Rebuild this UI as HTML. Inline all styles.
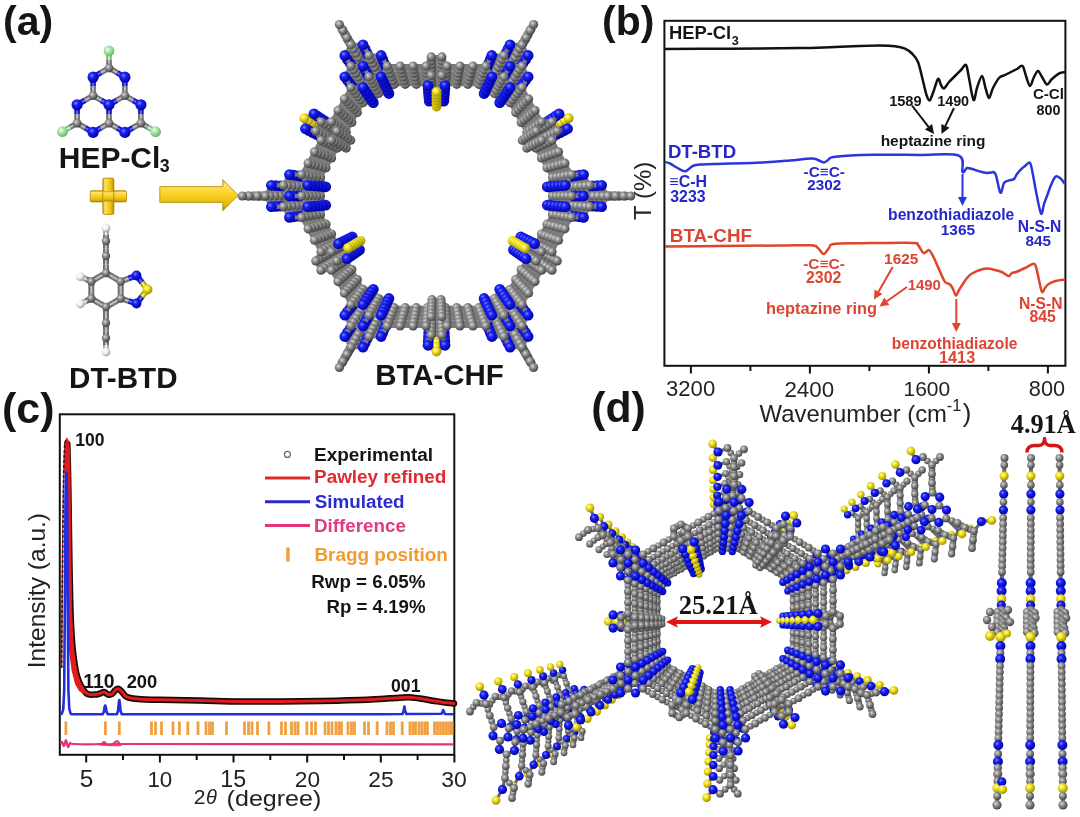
<!DOCTYPE html>
<html><head><meta charset="utf-8"><title>BTA-CHF figure</title>
<style>
html,body{margin:0;padding:0;background:#fff;}
body{width:1080px;height:817px;overflow:hidden;position:relative;}
svg{position:absolute;left:0;top:0;display:block;filter:blur(0.4px);}
</style></head><body>
<svg width="1080" height="817" viewBox="0 0 1080 817">
<rect width="1080" height="817" fill="#fff"/>
<defs>
<radialGradient id="gB" cx="0.38" cy="0.35" r="0.65"><stop offset="0" stop-color="#7a86ff"/><stop offset="0.35" stop-color="#1a22f0"/><stop offset="1" stop-color="#0000a8"/></radialGradient>
<radialGradient id="gG" cx="0.38" cy="0.35" r="0.65"><stop offset="0" stop-color="#dadada"/><stop offset="0.4" stop-color="#909090"/><stop offset="1" stop-color="#444"/></radialGradient>
<radialGradient id="gY" cx="0.38" cy="0.35" r="0.65"><stop offset="0" stop-color="#ffffb0"/><stop offset="0.4" stop-color="#f0e020"/><stop offset="1" stop-color="#a09000"/></radialGradient>
<radialGradient id="gCl" cx="0.38" cy="0.35" r="0.65"><stop offset="0" stop-color="#f0fff0"/><stop offset="0.4" stop-color="#a8e8a8"/><stop offset="1" stop-color="#70b070"/></radialGradient>
<radialGradient id="gH" cx="0.38" cy="0.35" r="0.65"><stop offset="0" stop-color="#ffffff"/><stop offset="0.5" stop-color="#eeeeee"/><stop offset="1" stop-color="#a0a0a0"/></radialGradient>
<linearGradient id="gold" x1="0" y1="0" x2="0" y2="1"><stop offset="0" stop-color="#c89a10"/><stop offset="0.15" stop-color="#ffe46a"/><stop offset="0.5" stop-color="#f8d020"/><stop offset="0.85" stop-color="#e0b010"/><stop offset="1" stop-color="#a07808"/></linearGradient>
<linearGradient id="goldv" x1="0" y1="0" x2="1" y2="0"><stop offset="0" stop-color="#c89a10"/><stop offset="0.2" stop-color="#ffe46a"/><stop offset="0.5" stop-color="#f8d020"/><stop offset="0.85" stop-color="#e0b010"/><stop offset="1" stop-color="#a07808"/></linearGradient>
</defs>
<defs><circle id="C27" r="2.7" fill="url(#gG)"/><circle id="C28" r="2.8" fill="url(#gG)"/><circle id="C29" r="2.9" fill="url(#gG)"/><circle id="C30" r="3.0" fill="url(#gG)"/><circle id="C31" r="3.1" fill="url(#gG)"/><circle id="C32" r="3.2" fill="url(#gG)"/><circle id="C33" r="3.3" fill="url(#gG)"/><circle id="C34" r="3.4" fill="url(#gG)"/><circle id="C35" r="3.5" fill="url(#gG)"/><circle id="C36" r="3.6" fill="url(#gG)"/><circle id="C37" r="3.7" fill="url(#gG)"/><circle id="C38" r="3.8" fill="url(#gG)"/><circle id="C39" r="3.9" fill="url(#gG)"/><circle id="C40" r="4.0" fill="url(#gG)"/><circle id="C42" r="4.2" fill="url(#gG)"/><circle id="C44" r="4.4" fill="url(#gG)"/><circle id="C46" r="4.6" fill="url(#gG)"/><circle id="C50" r="5.0" fill="url(#gG)"/><circle id="Cl54" r="5.4" fill="url(#gCl)"/><circle id="H44" r="4.4" fill="url(#gH)"/><circle id="N37" r="3.7" fill="url(#gB)"/><circle id="N38" r="3.8" fill="url(#gB)"/><circle id="N40" r="4.0" fill="url(#gB)"/><circle id="N41" r="4.1" fill="url(#gB)"/><circle id="N42" r="4.2" fill="url(#gB)"/><circle id="N44" r="4.4" fill="url(#gB)"/><circle id="N46" r="4.6" fill="url(#gB)"/><circle id="N49" r="4.9" fill="url(#gB)"/><circle id="N50" r="5.0" fill="url(#gB)"/><circle id="N54" r="5.4" fill="url(#gB)"/><circle id="N56" r="5.6" fill="url(#gB)"/><circle id="S36" r="3.6" fill="url(#gY)"/><circle id="S37" r="3.7" fill="url(#gY)"/><circle id="S38" r="3.8" fill="url(#gY)"/><circle id="S39" r="3.9" fill="url(#gY)"/><circle id="S40" r="4.0" fill="url(#gY)"/><circle id="S41" r="4.1" fill="url(#gY)"/><circle id="S42" r="4.2" fill="url(#gY)"/><circle id="S44" r="4.4" fill="url(#gY)"/><circle id="S46" r="4.6" fill="url(#gY)"/><circle id="S48" r="4.8" fill="url(#gY)"/><circle id="S49" r="4.9" fill="url(#gY)"/><circle id="S50" r="5.0" fill="url(#gY)"/><circle id="S52" r="5.2" fill="url(#gY)"/></defs>
<line x1="109" y1="104.8" x2="117" y2="100.2" stroke="#1414c8" stroke-width="5.6"/><line x1="124.9" y1="95.6" x2="117" y2="100.2" stroke="#6e6e6e" stroke-width="5.6"/><line x1="109" y1="104.8" x2="109" y2="114" stroke="#1414c8" stroke-width="5.6"/><line x1="109" y1="123.2" x2="109" y2="114" stroke="#6e6e6e" stroke-width="5.6"/><line x1="109" y1="104.8" x2="101" y2="100.2" stroke="#1414c8" stroke-width="5.6"/><line x1="93.1" y1="95.6" x2="101" y2="100.2" stroke="#6e6e6e" stroke-width="5.6"/><line x1="109" y1="68" x2="117" y2="72.6" stroke="#6e6e6e" stroke-width="5.6"/><line x1="124.9" y1="77.2" x2="117" y2="72.6" stroke="#1414c8" stroke-width="5.6"/><line x1="109" y1="68" x2="101" y2="72.6" stroke="#6e6e6e" stroke-width="5.6"/><line x1="93.1" y1="77.2" x2="101" y2="72.6" stroke="#1414c8" stroke-width="5.6"/><line x1="124.9" y1="77.2" x2="124.9" y2="86.4" stroke="#1414c8" stroke-width="5.6"/><line x1="124.9" y1="95.6" x2="124.9" y2="86.4" stroke="#6e6e6e" stroke-width="5.6"/><line x1="93.1" y1="77.2" x2="93.1" y2="86.4" stroke="#1414c8" stroke-width="5.6"/><line x1="93.1" y1="95.6" x2="93.1" y2="86.4" stroke="#6e6e6e" stroke-width="5.6"/><line x1="140.9" y1="123.2" x2="132.9" y2="127.8" stroke="#6e6e6e" stroke-width="5.6"/><line x1="124.9" y1="132.4" x2="132.9" y2="127.8" stroke="#1414c8" stroke-width="5.6"/><line x1="140.9" y1="123.2" x2="140.9" y2="114" stroke="#6e6e6e" stroke-width="5.6"/><line x1="140.9" y1="104.8" x2="140.9" y2="114" stroke="#1414c8" stroke-width="5.6"/><line x1="124.9" y1="132.4" x2="117" y2="127.8" stroke="#1414c8" stroke-width="5.6"/><line x1="109" y1="123.2" x2="117" y2="127.8" stroke="#6e6e6e" stroke-width="5.6"/><line x1="140.9" y1="104.8" x2="132.9" y2="100.2" stroke="#1414c8" stroke-width="5.6"/><line x1="124.9" y1="95.6" x2="132.9" y2="100.2" stroke="#6e6e6e" stroke-width="5.6"/><line x1="77.1" y1="123.2" x2="77.1" y2="114" stroke="#6e6e6e" stroke-width="5.6"/><line x1="77.1" y1="104.8" x2="77.1" y2="114" stroke="#1414c8" stroke-width="5.6"/><line x1="77.1" y1="123.2" x2="85.1" y2="127.8" stroke="#6e6e6e" stroke-width="5.6"/><line x1="93.1" y1="132.4" x2="85.1" y2="127.8" stroke="#1414c8" stroke-width="5.6"/><line x1="77.1" y1="104.8" x2="85.1" y2="100.2" stroke="#1414c8" stroke-width="5.6"/><line x1="93.1" y1="95.6" x2="85.1" y2="100.2" stroke="#6e6e6e" stroke-width="5.6"/><line x1="93.1" y1="132.4" x2="101" y2="127.8" stroke="#1414c8" stroke-width="5.6"/><line x1="109" y1="123.2" x2="101" y2="127.8" stroke="#6e6e6e" stroke-width="5.6"/><line x1="109" y1="68" x2="109" y2="59.5" stroke="#6e6e6e" stroke-width="5.6"/><line x1="109" y1="51" x2="109" y2="59.5" stroke="#78b878" stroke-width="5.6"/><line x1="140.9" y1="123.2" x2="148.2" y2="127.4" stroke="#6e6e6e" stroke-width="5.6"/><line x1="155.6" y1="131.7" x2="148.2" y2="127.4" stroke="#78b878" stroke-width="5.6"/><line x1="77.1" y1="123.2" x2="69.8" y2="127.4" stroke="#6e6e6e" stroke-width="5.6"/><line x1="62.4" y1="131.7" x2="69.8" y2="127.4" stroke="#78b878" stroke-width="5.6"/><line x1="109" y1="104.8" x2="117" y2="100.2" stroke="#5a64ff" stroke-width="2.0"/><line x1="124.9" y1="95.6" x2="117" y2="100.2" stroke="#bdbdbd" stroke-width="2.0"/><line x1="109" y1="104.8" x2="109" y2="114" stroke="#5a64ff" stroke-width="2.0"/><line x1="109" y1="123.2" x2="109" y2="114" stroke="#bdbdbd" stroke-width="2.0"/><line x1="109" y1="104.8" x2="101" y2="100.2" stroke="#5a64ff" stroke-width="2.0"/><line x1="93.1" y1="95.6" x2="101" y2="100.2" stroke="#bdbdbd" stroke-width="2.0"/><line x1="109" y1="68" x2="117" y2="72.6" stroke="#bdbdbd" stroke-width="2.0"/><line x1="124.9" y1="77.2" x2="117" y2="72.6" stroke="#5a64ff" stroke-width="2.0"/><line x1="109" y1="68" x2="101" y2="72.6" stroke="#bdbdbd" stroke-width="2.0"/><line x1="93.1" y1="77.2" x2="101" y2="72.6" stroke="#5a64ff" stroke-width="2.0"/><line x1="124.9" y1="77.2" x2="124.9" y2="86.4" stroke="#5a64ff" stroke-width="2.0"/><line x1="124.9" y1="95.6" x2="124.9" y2="86.4" stroke="#bdbdbd" stroke-width="2.0"/><line x1="93.1" y1="77.2" x2="93.1" y2="86.4" stroke="#5a64ff" stroke-width="2.0"/><line x1="93.1" y1="95.6" x2="93.1" y2="86.4" stroke="#bdbdbd" stroke-width="2.0"/><line x1="140.9" y1="123.2" x2="132.9" y2="127.8" stroke="#bdbdbd" stroke-width="2.0"/><line x1="124.9" y1="132.4" x2="132.9" y2="127.8" stroke="#5a64ff" stroke-width="2.0"/><line x1="140.9" y1="123.2" x2="140.9" y2="114" stroke="#bdbdbd" stroke-width="2.0"/><line x1="140.9" y1="104.8" x2="140.9" y2="114" stroke="#5a64ff" stroke-width="2.0"/><line x1="124.9" y1="132.4" x2="117" y2="127.8" stroke="#5a64ff" stroke-width="2.0"/><line x1="109" y1="123.2" x2="117" y2="127.8" stroke="#bdbdbd" stroke-width="2.0"/><line x1="140.9" y1="104.8" x2="132.9" y2="100.2" stroke="#5a64ff" stroke-width="2.0"/><line x1="124.9" y1="95.6" x2="132.9" y2="100.2" stroke="#bdbdbd" stroke-width="2.0"/><line x1="77.1" y1="123.2" x2="77.1" y2="114" stroke="#bdbdbd" stroke-width="2.0"/><line x1="77.1" y1="104.8" x2="77.1" y2="114" stroke="#5a64ff" stroke-width="2.0"/><line x1="77.1" y1="123.2" x2="85.1" y2="127.8" stroke="#bdbdbd" stroke-width="2.0"/><line x1="93.1" y1="132.4" x2="85.1" y2="127.8" stroke="#5a64ff" stroke-width="2.0"/><line x1="77.1" y1="104.8" x2="85.1" y2="100.2" stroke="#5a64ff" stroke-width="2.0"/><line x1="93.1" y1="95.6" x2="85.1" y2="100.2" stroke="#bdbdbd" stroke-width="2.0"/><line x1="93.1" y1="132.4" x2="101" y2="127.8" stroke="#5a64ff" stroke-width="2.0"/><line x1="109" y1="123.2" x2="101" y2="127.8" stroke="#bdbdbd" stroke-width="2.0"/><line x1="109" y1="68" x2="109" y2="59.5" stroke="#bdbdbd" stroke-width="2.0"/><line x1="109" y1="51" x2="109" y2="59.5" stroke="#d0f4d0" stroke-width="2.0"/><line x1="140.9" y1="123.2" x2="148.2" y2="127.4" stroke="#bdbdbd" stroke-width="2.0"/><line x1="155.6" y1="131.7" x2="148.2" y2="127.4" stroke="#d0f4d0" stroke-width="2.0"/><line x1="77.1" y1="123.2" x2="69.8" y2="127.4" stroke="#bdbdbd" stroke-width="2.0"/><line x1="62.4" y1="131.7" x2="69.8" y2="127.4" stroke="#d0f4d0" stroke-width="2.0"/><use href="#N56" x="109" y="104.8"/><use href="#C44" x="124.9" y="95.6"/><use href="#C44" x="109" y="123.2"/><use href="#C44" x="93.1" y="95.6"/><use href="#N56" x="124.9" y="77.2"/><use href="#N56" x="140.9" y="104.8"/><use href="#N56" x="124.9" y="132.4"/><use href="#N56" x="93.1" y="132.4"/><use href="#N56" x="77.1" y="104.8"/><use href="#N56" x="93.1" y="77.2"/><use href="#C44" x="109" y="68"/><use href="#C44" x="140.9" y="123.2"/><use href="#C44" x="77.1" y="123.2"/><use href="#Cl54" x="109" y="51"/><use href="#Cl54" x="155.6" y="131.7"/><use href="#Cl54" x="62.4" y="131.7"/>
<line x1="106" y1="273" x2="113.4" y2="277.2" stroke="#6e6e6e" stroke-width="6"/><line x1="120.7" y1="281.5" x2="113.4" y2="277.2" stroke="#6e6e6e" stroke-width="6"/><line x1="120.7" y1="281.5" x2="120.7" y2="290" stroke="#6e6e6e" stroke-width="6"/><line x1="120.7" y1="298.5" x2="120.7" y2="290" stroke="#6e6e6e" stroke-width="6"/><line x1="120.7" y1="298.5" x2="113.4" y2="302.8" stroke="#6e6e6e" stroke-width="6"/><line x1="106" y1="307" x2="113.4" y2="302.8" stroke="#6e6e6e" stroke-width="6"/><line x1="106" y1="307" x2="98.6" y2="302.8" stroke="#6e6e6e" stroke-width="6"/><line x1="91.3" y1="298.5" x2="98.6" y2="302.8" stroke="#6e6e6e" stroke-width="6"/><line x1="91.3" y1="298.5" x2="91.3" y2="290" stroke="#6e6e6e" stroke-width="6"/><line x1="91.3" y1="281.5" x2="91.3" y2="290" stroke="#6e6e6e" stroke-width="6"/><line x1="91.3" y1="281.5" x2="98.6" y2="277.2" stroke="#6e6e6e" stroke-width="6"/><line x1="106" y1="273" x2="98.6" y2="277.2" stroke="#6e6e6e" stroke-width="6"/><line x1="91.3" y1="281.5" x2="85.8" y2="279.1" stroke="#6e6e6e" stroke-width="6"/><line x1="80.3" y1="276.6" x2="85.8" y2="279.1" stroke="#a8a8a8" stroke-width="6"/><line x1="91.3" y1="298.5" x2="85.8" y2="301.2" stroke="#6e6e6e" stroke-width="6"/><line x1="80.3" y1="304" x2="85.8" y2="301.2" stroke="#a8a8a8" stroke-width="6"/><line x1="120.7" y1="281.5" x2="128.6" y2="278.5" stroke="#6e6e6e" stroke-width="6"/><line x1="136.5" y1="275.5" x2="128.6" y2="278.5" stroke="#1414c8" stroke-width="6"/><line x1="120.7" y1="298.5" x2="128.6" y2="301" stroke="#6e6e6e" stroke-width="6"/><line x1="136.5" y1="303.5" x2="128.6" y2="301" stroke="#1414c8" stroke-width="6"/><line x1="136.5" y1="275.5" x2="142" y2="282.5" stroke="#1414c8" stroke-width="6"/><line x1="147.5" y1="289.5" x2="142" y2="282.5" stroke="#b0a000" stroke-width="6"/><line x1="136.5" y1="303.5" x2="142" y2="296.5" stroke="#1414c8" stroke-width="6"/><line x1="147.5" y1="289.5" x2="142" y2="296.5" stroke="#b0a000" stroke-width="6"/><line x1="106" y1="273" x2="106" y2="264.5" stroke="#6e6e6e" stroke-width="6"/><line x1="106" y1="256" x2="106" y2="264.5" stroke="#6e6e6e" stroke-width="6"/><line x1="106" y1="256" x2="106" y2="248.5" stroke="#6e6e6e" stroke-width="6"/><line x1="106" y1="241" x2="106" y2="248.5" stroke="#6e6e6e" stroke-width="6"/><line x1="106" y1="241" x2="106" y2="234.5" stroke="#6e6e6e" stroke-width="6"/><line x1="106" y1="228" x2="106" y2="234.5" stroke="#a8a8a8" stroke-width="6"/><line x1="106" y1="307" x2="106" y2="315" stroke="#6e6e6e" stroke-width="6"/><line x1="106" y1="323" x2="106" y2="315" stroke="#6e6e6e" stroke-width="6"/><line x1="106" y1="323" x2="106" y2="330.5" stroke="#6e6e6e" stroke-width="6"/><line x1="106" y1="338" x2="106" y2="330.5" stroke="#6e6e6e" stroke-width="6"/><line x1="106" y1="338" x2="106" y2="345" stroke="#6e6e6e" stroke-width="6"/><line x1="106" y1="352" x2="106" y2="345" stroke="#a8a8a8" stroke-width="6"/><line x1="106" y1="273" x2="113.4" y2="277.2" stroke="#bdbdbd" stroke-width="2.1"/><line x1="120.7" y1="281.5" x2="113.4" y2="277.2" stroke="#bdbdbd" stroke-width="2.1"/><line x1="120.7" y1="281.5" x2="120.7" y2="290" stroke="#bdbdbd" stroke-width="2.1"/><line x1="120.7" y1="298.5" x2="120.7" y2="290" stroke="#bdbdbd" stroke-width="2.1"/><line x1="120.7" y1="298.5" x2="113.4" y2="302.8" stroke="#bdbdbd" stroke-width="2.1"/><line x1="106" y1="307" x2="113.4" y2="302.8" stroke="#bdbdbd" stroke-width="2.1"/><line x1="106" y1="307" x2="98.6" y2="302.8" stroke="#bdbdbd" stroke-width="2.1"/><line x1="91.3" y1="298.5" x2="98.6" y2="302.8" stroke="#bdbdbd" stroke-width="2.1"/><line x1="91.3" y1="298.5" x2="91.3" y2="290" stroke="#bdbdbd" stroke-width="2.1"/><line x1="91.3" y1="281.5" x2="91.3" y2="290" stroke="#bdbdbd" stroke-width="2.1"/><line x1="91.3" y1="281.5" x2="98.6" y2="277.2" stroke="#bdbdbd" stroke-width="2.1"/><line x1="106" y1="273" x2="98.6" y2="277.2" stroke="#bdbdbd" stroke-width="2.1"/><line x1="91.3" y1="281.5" x2="85.8" y2="279.1" stroke="#bdbdbd" stroke-width="2.1"/><line x1="80.3" y1="276.6" x2="85.8" y2="279.1" stroke="#f4f4f4" stroke-width="2.1"/><line x1="91.3" y1="298.5" x2="85.8" y2="301.2" stroke="#bdbdbd" stroke-width="2.1"/><line x1="80.3" y1="304" x2="85.8" y2="301.2" stroke="#f4f4f4" stroke-width="2.1"/><line x1="120.7" y1="281.5" x2="128.6" y2="278.5" stroke="#bdbdbd" stroke-width="2.1"/><line x1="136.5" y1="275.5" x2="128.6" y2="278.5" stroke="#5a64ff" stroke-width="2.1"/><line x1="120.7" y1="298.5" x2="128.6" y2="301" stroke="#bdbdbd" stroke-width="2.1"/><line x1="136.5" y1="303.5" x2="128.6" y2="301" stroke="#5a64ff" stroke-width="2.1"/><line x1="136.5" y1="275.5" x2="142" y2="282.5" stroke="#5a64ff" stroke-width="2.1"/><line x1="147.5" y1="289.5" x2="142" y2="282.5" stroke="#f8f070" stroke-width="2.1"/><line x1="136.5" y1="303.5" x2="142" y2="296.5" stroke="#5a64ff" stroke-width="2.1"/><line x1="147.5" y1="289.5" x2="142" y2="296.5" stroke="#f8f070" stroke-width="2.1"/><line x1="106" y1="273" x2="106" y2="264.5" stroke="#bdbdbd" stroke-width="2.1"/><line x1="106" y1="256" x2="106" y2="264.5" stroke="#bdbdbd" stroke-width="2.1"/><line x1="106" y1="256" x2="106" y2="248.5" stroke="#bdbdbd" stroke-width="2.1"/><line x1="106" y1="241" x2="106" y2="248.5" stroke="#bdbdbd" stroke-width="2.1"/><line x1="106" y1="241" x2="106" y2="234.5" stroke="#bdbdbd" stroke-width="2.1"/><line x1="106" y1="228" x2="106" y2="234.5" stroke="#f4f4f4" stroke-width="2.1"/><line x1="106" y1="307" x2="106" y2="315" stroke="#bdbdbd" stroke-width="2.1"/><line x1="106" y1="323" x2="106" y2="315" stroke="#bdbdbd" stroke-width="2.1"/><line x1="106" y1="323" x2="106" y2="330.5" stroke="#bdbdbd" stroke-width="2.1"/><line x1="106" y1="338" x2="106" y2="330.5" stroke="#bdbdbd" stroke-width="2.1"/><line x1="106" y1="338" x2="106" y2="345" stroke="#bdbdbd" stroke-width="2.1"/><line x1="106" y1="352" x2="106" y2="345" stroke="#f4f4f4" stroke-width="2.1"/><use href="#C42" x="106" y="273"/><use href="#C42" x="120.7" y="281.5"/><use href="#C42" x="120.7" y="298.5"/><use href="#C42" x="106" y="307"/><use href="#C42" x="91.3" y="298.5"/><use href="#C42" x="91.3" y="281.5"/><use href="#H44" x="80.3" y="276.6"/><use href="#H44" x="80.3" y="304"/><use href="#N49" x="136.5" y="275.5"/><use href="#N49" x="136.5" y="303.5"/><use href="#S49" x="147.5" y="289.5"/><use href="#C42" x="106" y="256"/><use href="#C42" x="106" y="241"/><use href="#H44" x="106" y="228"/><use href="#C42" x="106" y="323"/><use href="#C42" x="106" y="338"/><use href="#H44" x="106" y="352"/>
<g stroke="#b08808" stroke-width="0.8"><rect x="90.2" y="190.7" width="36.3" height="11.2" rx="1.5" fill="url(#gold)"/><rect x="102.8" y="178.1" width="11.1" height="36.3" rx="1.5" fill="url(#goldv)"/><rect x="103.4" y="191.3" width="9.9" height="10" fill="url(#gold)" stroke="none"/></g>
<polygon points="159.8,186.6 222.8,186.6 222.8,179.6 238.3,195.2 222.8,210.7 222.8,202.4 159.8,202.4" fill="url(#gold)" stroke="#b08808" stroke-width="0.8" stroke-linejoin="round"/>
<g><path d="M562.9 196L568.1 205.2M562.9 196L552.5 196M562.9 196L568.1 186.8M583.7 196L578.5 205.2M583.7 196L578.5 186.8M578.5 205.2L568.1 205.2M578.5 186.8L568.1 186.8M552.5 214.4L547.3 205.2M552.5 214.4L562.9 214.4M547.3 205.2L552.5 196M562.9 214.4L568.1 205.2M552.5 177.6L562.9 177.6M552.5 177.6L547.3 186.8M562.9 177.6L568.1 186.8M547.3 186.8L552.5 196M583.7 196L590.6 196M590.6 196L597.5 196M597.5 196L603.5 196M499.7 307.7L494.5 316.9M499.7 307.7L494.5 298.5M499.7 307.7L510.1 307.7M510.1 326.1L499.7 326.1M510.1 326.1L515.3 316.9M499.7 326.1L494.5 316.9M515.3 316.9L510.1 307.7M478.9 307.7L484.1 298.5M478.9 307.7L484.1 316.9M484.1 298.5L494.5 298.5M484.1 316.9L494.5 316.9M510.1 289.3L515.3 298.5M510.1 289.3L499.7 289.3M515.3 298.5L510.1 307.7M499.7 289.3L494.5 298.5M510.1 326.1L513.6 332.1M513.6 332.1L517 338.2M517 338.2L520 343.5M373.3 307.7L362.9 307.7M373.3 307.7L378.5 298.5M373.3 307.7L378.5 316.9M362.9 326.1L357.7 316.9M362.9 326.1L373.3 326.1M357.7 316.9L362.9 307.7M373.3 326.1L378.5 316.9M362.9 289.3L373.3 289.3M362.9 289.3L357.7 298.5M373.3 289.3L378.5 298.5M357.7 298.5L362.9 307.7M394.1 307.7L388.9 316.9M394.1 307.7L388.9 298.5M388.9 316.9L378.5 316.9M388.9 298.5L378.5 298.5M362.9 326.1L359.4 332.1M359.4 332.1L356 338.2M356 338.2L353 343.5M310.1 196L304.9 186.8M310.1 196L320.5 196M310.1 196L304.9 205.2M289.3 196L294.5 186.8M289.3 196L294.5 205.2M294.5 186.8L304.9 186.8M294.5 205.2L304.9 205.2M320.5 177.6L325.7 186.8M320.5 177.6L310.1 177.6M325.7 186.8L320.5 196M310.1 177.6L304.9 186.8M320.5 214.4L310.1 214.4M320.5 214.4L325.7 205.2M310.1 214.4L304.9 205.2M325.7 205.2L320.5 196M289.3 196L282.4 196M282.4 196L275.5 196M275.5 196L269.5 196M373.3 84.3L378.5 75.1M373.3 84.3L378.5 93.5M373.3 84.3L362.9 84.3M362.9 65.9L373.3 65.9M362.9 65.9L357.7 75.1M373.3 65.9L378.5 75.1M357.7 75.1L362.9 84.3M394.1 84.3L388.9 93.5M394.1 84.3L388.9 75.1M388.9 93.5L378.5 93.5M388.9 75.1L378.5 75.1M362.9 102.7L357.7 93.5M362.9 102.7L373.3 102.7M357.7 93.5L362.9 84.3M373.3 102.7L378.5 93.5M362.9 65.9L359.4 59.9M359.4 59.9L356 53.8M356 53.8L353 48.5M499.7 84.3L510.1 84.3M499.7 84.3L494.5 93.5M499.7 84.3L494.5 75.1M510.1 65.9L515.3 75.1M510.1 65.9L499.7 65.9M515.3 75.1L510.1 84.3M499.7 65.9L494.5 75.1M510.1 102.7L499.7 102.7M510.1 102.7L515.3 93.5M499.7 102.7L494.5 93.5M515.3 93.5L510.1 84.3M478.9 84.3L484.1 75.1M478.9 84.3L484.1 93.5M484.1 75.1L494.5 75.1M484.1 93.5L494.5 93.5M510.1 65.9L513.6 59.9M513.6 59.9L517 53.8M517 53.8L520 48.5M535.8 243.9L540.3 251.8M540.3 251.8L535.8 259.8M535.8 259.8L526.8 259.8M526.8 259.8L522.3 251.8M522.3 251.8L526.8 243.9M526.8 243.9L535.8 243.9M552.5 214.4L547 224.2M547 224.2L541.4 234M541.4 234L535.8 243.9M510.1 289.3L515.7 279.5M515.7 279.5L521.2 269.6M521.2 269.6L526.8 259.8M526.8 243.9L520.8 237M520.8 237L512.5 240.8M522.3 251.8L513.5 249.9M513.5 249.9L512.5 240.8M445.5 307.7L441 315.6M441 315.6L432 315.6M432 315.6L427.5 307.7M427.5 307.7L432 299.7M432 299.7L441 299.7M441 299.7L445.5 307.7M478.9 307.7L467.8 307.7M467.8 307.7L456.7 307.7M456.7 307.7L445.5 307.7M394.1 307.7L405.2 307.7M405.2 307.7L416.3 307.7M416.3 307.7L427.5 307.7M432 315.6L429.2 324.4M429.2 324.4L436.5 329.8M441 315.6L443.8 324.4M443.8 324.4L436.5 329.8M346.2 259.8L337.2 259.8M337.2 259.8L332.7 251.8M332.7 251.8L337.2 243.9M337.2 243.9L346.2 243.9M346.2 243.9L350.7 251.8M350.7 251.8L346.2 259.8M362.9 289.3L357.3 279.5M357.3 279.5L351.8 269.6M351.8 269.6L346.2 259.8M320.5 214.4L326 224.2M326 224.2L331.6 234M331.6 234L337.2 243.9M350.7 251.8L359.5 249.9M359.5 249.9L360.5 240.8M346.2 243.9L352.2 237M352.2 237L360.5 240.8M337.2 148.1L332.7 140.2M332.7 140.2L337.2 132.2M337.2 132.2L346.2 132.2M346.2 132.2L350.7 140.2M350.7 140.2L346.2 148.1M346.2 148.1L337.2 148.1M320.5 177.6L326 167.8M326 167.8L331.6 158M331.6 158L337.2 148.1M362.9 102.7L357.3 112.5M357.3 112.5L351.8 122.4M351.8 122.4L346.2 132.2M337.2 132.2L331.1 125.3M331.1 125.3L322.9 129.1M332.7 140.2L323.8 138.3M323.8 138.3L322.9 129.1M427.5 84.3L432 76.4M432 76.4L441 76.4M441 76.4L445.5 84.3M445.5 84.3L441 92.3M441 92.3L432 92.3M432 92.3L427.5 84.3M394.1 84.3L405.2 84.3M405.2 84.3L416.3 84.3M416.3 84.3L427.5 84.3M478.9 84.3L467.8 84.3M467.8 84.3L456.7 84.3M456.7 84.3L445.5 84.3M432 92.3L429.2 101.1M429.2 101.1L436.5 106.5M441 92.3L443.8 101.1M443.8 101.1L436.5 106.5M526.8 132.2L535.8 132.2M535.8 132.2L540.3 140.2M540.3 140.2L535.8 148.1M535.8 148.1L526.8 148.1M526.8 148.1L522.3 140.2M522.3 140.2L526.8 132.2M510.1 102.7L515.7 112.5M515.7 112.5L521.2 122.4M521.2 122.4L526.8 132.2M552.5 177.6L547 167.8M547 167.8L541.4 158M541.4 158L535.8 148.1M540.3 140.2L549.2 138.3M549.2 138.3L550.1 129.1M535.8 132.2L541.9 125.3M541.9 125.3L550.1 129.1" stroke="#7c7c7c" stroke-width="4.0" stroke-linecap="round" fill="none"/><use href="#N54" x="562.9" y="196"/><use href="#C46" x="568.1" y="205.2"/><use href="#C46" x="552.5" y="196"/><use href="#C46" x="568.1" y="186.8"/><use href="#N54" x="578.5" y="205.2"/><use href="#N54" x="562.9" y="214.4"/><use href="#N54" x="547.3" y="205.2"/><use href="#N54" x="547.3" y="186.8"/><use href="#N54" x="562.9" y="177.6"/><use href="#N54" x="578.5" y="186.8"/><use href="#C46" x="583.7" y="196"/><use href="#C46" x="552.5" y="214.4"/><use href="#C46" x="552.5" y="177.6"/><use href="#C46" x="590.6" y="196"/><use href="#C46" x="597.5" y="196"/><use href="#C46" x="603.5" y="196"/><use href="#N54" x="499.7" y="307.7"/><use href="#C46" x="494.5" y="316.9"/><use href="#C46" x="494.5" y="298.5"/><use href="#C46" x="510.1" y="307.7"/><use href="#N54" x="499.7" y="326.1"/><use href="#N54" x="484.1" y="316.9"/><use href="#N54" x="484.1" y="298.5"/><use href="#N54" x="499.7" y="289.3"/><use href="#N54" x="515.3" y="298.5"/><use href="#N54" x="515.3" y="316.9"/><use href="#C46" x="510.1" y="326.1"/><use href="#C46" x="478.9" y="307.7"/><use href="#C46" x="510.1" y="289.3"/><use href="#C46" x="513.6" y="332.1"/><use href="#C46" x="517" y="338.2"/><use href="#C46" x="520" y="343.5"/><use href="#N54" x="373.3" y="307.7"/><use href="#C46" x="362.9" y="307.7"/><use href="#C46" x="378.5" y="298.5"/><use href="#C46" x="378.5" y="316.9"/><use href="#N54" x="357.7" y="316.9"/><use href="#N54" x="357.7" y="298.5"/><use href="#N54" x="373.3" y="289.3"/><use href="#N54" x="388.9" y="298.5"/><use href="#N54" x="388.9" y="316.9"/><use href="#N54" x="373.3" y="326.1"/><use href="#C46" x="362.9" y="326.1"/><use href="#C46" x="362.9" y="289.3"/><use href="#C46" x="394.1" y="307.7"/><use href="#C46" x="359.4" y="332.1"/><use href="#C46" x="356" y="338.2"/><use href="#C46" x="353" y="343.5"/><use href="#N54" x="310.1" y="196"/><use href="#C46" x="304.9" y="186.8"/><use href="#C46" x="320.5" y="196"/><use href="#C46" x="304.9" y="205.2"/><use href="#N54" x="294.5" y="186.8"/><use href="#N54" x="310.1" y="177.6"/><use href="#N54" x="325.7" y="186.8"/><use href="#N54" x="325.7" y="205.2"/><use href="#N54" x="310.1" y="214.4"/><use href="#N54" x="294.5" y="205.2"/><use href="#C46" x="289.3" y="196"/><use href="#C46" x="320.5" y="177.6"/><use href="#C46" x="320.5" y="214.4"/><use href="#C46" x="282.4" y="196"/><use href="#C46" x="275.5" y="196"/><use href="#C46" x="269.5" y="196"/><use href="#N54" x="373.3" y="84.3"/><use href="#C46" x="378.5" y="75.1"/><use href="#C46" x="378.5" y="93.5"/><use href="#C46" x="362.9" y="84.3"/><use href="#N54" x="373.3" y="65.9"/><use href="#N54" x="388.9" y="75.1"/><use href="#N54" x="388.9" y="93.5"/><use href="#N54" x="373.3" y="102.7"/><use href="#N54" x="357.7" y="93.5"/><use href="#N54" x="357.7" y="75.1"/><use href="#C46" x="362.9" y="65.9"/><use href="#C46" x="394.1" y="84.3"/><use href="#C46" x="362.9" y="102.7"/><use href="#C46" x="359.4" y="59.9"/><use href="#C46" x="356" y="53.8"/><use href="#C46" x="353" y="48.5"/><use href="#N54" x="499.7" y="84.3"/><use href="#C46" x="510.1" y="84.3"/><use href="#C46" x="494.5" y="93.5"/><use href="#C46" x="494.5" y="75.1"/><use href="#N54" x="515.3" y="75.1"/><use href="#N54" x="515.3" y="93.5"/><use href="#N54" x="499.7" y="102.7"/><use href="#N54" x="484.1" y="93.5"/><use href="#N54" x="484.1" y="75.1"/><use href="#N54" x="499.7" y="65.9"/><use href="#C46" x="510.1" y="65.9"/><use href="#C46" x="510.1" y="102.7"/><use href="#C46" x="478.9" y="84.3"/><use href="#C46" x="513.6" y="59.9"/><use href="#C46" x="517" y="53.8"/><use href="#C46" x="520" y="48.5"/><use href="#C46" x="535.8" y="243.9"/><use href="#C46" x="540.3" y="251.8"/><use href="#C46" x="535.8" y="259.8"/><use href="#C46" x="526.8" y="259.8"/><use href="#C46" x="522.3" y="251.8"/><use href="#C46" x="526.8" y="243.9"/><use href="#C46" x="547" y="224.2"/><use href="#C46" x="541.4" y="234"/><use href="#C46" x="515.7" y="279.5"/><use href="#C46" x="521.2" y="269.6"/><use href="#S49" x="512.5" y="240.8"/><use href="#N54" x="520.8" y="237"/><use href="#N54" x="513.5" y="249.9"/><use href="#C46" x="445.5" y="307.7"/><use href="#C46" x="441" y="315.6"/><use href="#C46" x="432" y="315.6"/><use href="#C46" x="427.5" y="307.7"/><use href="#C46" x="432" y="299.7"/><use href="#C46" x="441" y="299.7"/><use href="#C46" x="467.8" y="307.7"/><use href="#C46" x="456.7" y="307.7"/><use href="#C46" x="405.2" y="307.7"/><use href="#C46" x="416.3" y="307.7"/><use href="#S49" x="436.5" y="329.8"/><use href="#N54" x="429.2" y="324.4"/><use href="#N54" x="443.8" y="324.4"/><use href="#C46" x="346.2" y="259.8"/><use href="#C46" x="337.2" y="259.8"/><use href="#C46" x="332.7" y="251.8"/><use href="#C46" x="337.2" y="243.9"/><use href="#C46" x="346.2" y="243.9"/><use href="#C46" x="350.7" y="251.8"/><use href="#C46" x="357.3" y="279.5"/><use href="#C46" x="351.8" y="269.6"/><use href="#C46" x="326" y="224.2"/><use href="#C46" x="331.6" y="234"/><use href="#S49" x="360.5" y="240.8"/><use href="#N54" x="359.5" y="249.9"/><use href="#N54" x="352.2" y="237"/><use href="#C46" x="337.2" y="148.1"/><use href="#C46" x="332.7" y="140.2"/><use href="#C46" x="337.2" y="132.2"/><use href="#C46" x="346.2" y="132.2"/><use href="#C46" x="350.7" y="140.2"/><use href="#C46" x="346.2" y="148.1"/><use href="#C46" x="326" y="167.8"/><use href="#C46" x="331.6" y="158"/><use href="#C46" x="357.3" y="112.5"/><use href="#C46" x="351.8" y="122.4"/><use href="#S49" x="322.9" y="129.1"/><use href="#N54" x="331.1" y="125.3"/><use href="#N54" x="323.8" y="138.3"/><use href="#C46" x="427.5" y="84.3"/><use href="#C46" x="432" y="76.4"/><use href="#C46" x="441" y="76.4"/><use href="#C46" x="445.5" y="84.3"/><use href="#C46" x="441" y="92.3"/><use href="#C46" x="432" y="92.3"/><use href="#C46" x="405.2" y="84.3"/><use href="#C46" x="416.3" y="84.3"/><use href="#C46" x="467.8" y="84.3"/><use href="#C46" x="456.7" y="84.3"/><use href="#S49" x="436.5" y="106.5"/><use href="#N54" x="429.2" y="101.1"/><use href="#N54" x="443.8" y="101.1"/><use href="#C46" x="526.8" y="132.2"/><use href="#C46" x="535.8" y="132.2"/><use href="#C46" x="540.3" y="140.2"/><use href="#C46" x="535.8" y="148.1"/><use href="#C46" x="526.8" y="148.1"/><use href="#C46" x="522.3" y="140.2"/><use href="#C46" x="515.7" y="112.5"/><use href="#C46" x="521.2" y="122.4"/><use href="#C46" x="547" y="167.8"/><use href="#C46" x="541.4" y="158"/><use href="#S49" x="550.1" y="129.1"/><use href="#N54" x="549.2" y="138.3"/><use href="#N54" x="541.9" y="125.3"/><path d="M567 196L572.4 205.5M567 196L556.3 196M567 196L572.4 186.5M588.5 196L583.2 205.5M588.5 196L583.2 186.5M583.2 205.5L572.4 205.5M583.2 186.5L572.4 186.5M556.3 215L550.9 205.5M556.3 215L567 215M550.9 205.5L556.3 196M567 215L572.4 205.5M556.3 177L567 177M556.3 177L550.9 186.5M567 177L572.4 186.5M550.9 186.5L556.3 196M588.5 196L595.6 196M595.6 196L602.7 196M602.7 196L608.9 196M501.8 311.3L496.4 320.8M501.8 311.3L496.4 301.8M501.8 311.3L512.5 311.3M512.5 330.3L501.8 330.3M512.5 330.3L517.9 320.8M501.8 330.3L496.4 320.8M517.9 320.8L512.5 311.3M480.3 311.3L485.7 301.8M480.3 311.3L485.7 320.8M485.7 301.8L496.4 301.8M485.7 320.8L496.4 320.8M512.5 292.3L517.9 301.8M512.5 292.3L501.8 292.3M517.9 301.8L512.5 311.3M501.8 292.3L496.4 301.8M512.5 330.3L516.1 336.6M516.1 336.6L519.6 342.8M519.6 342.8L522.7 348.3M371.2 311.3L360.5 311.3M371.2 311.3L376.6 301.8M371.2 311.3L376.6 320.8M360.5 330.3L355.1 320.8M360.5 330.3L371.2 330.3M355.1 320.8L360.5 311.3M371.2 330.3L376.6 320.8M360.5 292.3L371.2 292.3M360.5 292.3L355.1 301.8M371.2 292.3L376.6 301.8M355.1 301.8L360.5 311.3M392.7 311.3L387.3 320.8M392.7 311.3L387.3 301.8M387.3 320.8L376.6 320.8M387.3 301.8L376.6 301.8M360.5 330.3L356.9 336.6M356.9 336.6L353.4 342.8M353.4 342.8L350.3 348.3M306 196L300.6 186.5M306 196L316.7 196M306 196L300.6 205.5M284.5 196L289.8 186.5M284.5 196L289.8 205.5M289.8 186.5L300.6 186.5M289.8 205.5L300.6 205.5M316.7 177L322.1 186.5M316.7 177L306 177M322.1 186.5L316.7 196M306 177L300.6 186.5M316.7 215L306 215M316.7 215L322.1 205.5M306 215L300.6 205.5M322.1 205.5L316.7 196M284.5 196L277.4 196M277.4 196L270.3 196M270.3 196L264.1 196M371.2 80.7L376.6 71.2M371.2 80.7L376.6 90.2M371.2 80.7L360.5 80.7M360.5 61.7L371.2 61.7M360.5 61.7L355.1 71.2M371.2 61.7L376.6 71.2M355.1 71.2L360.5 80.7M392.7 80.7L387.3 90.2M392.7 80.7L387.3 71.2M387.3 90.2L376.6 90.2M387.3 71.2L376.6 71.2M360.5 99.7L355.1 90.2M360.5 99.7L371.2 99.7M355.1 90.2L360.5 80.7M371.2 99.7L376.6 90.2M360.5 61.7L356.9 55.4M356.9 55.4L353.4 49.2M353.4 49.2L350.3 43.7M501.8 80.7L512.5 80.7M501.8 80.7L496.4 90.2M501.8 80.7L496.4 71.2M512.5 61.7L517.9 71.2M512.5 61.7L501.8 61.7M517.9 71.2L512.5 80.7M501.8 61.7L496.4 71.2M512.5 99.7L501.8 99.7M512.5 99.7L517.9 90.2M501.8 99.7L496.4 90.2M517.9 90.2L512.5 80.7M480.3 80.7L485.7 71.2M480.3 80.7L485.7 90.2M485.7 71.2L496.4 71.2M485.7 90.2L496.4 90.2M512.5 61.7L516.1 55.4M516.1 55.4L519.6 49.2M519.6 49.2L522.7 43.7M539.1 245.4L543.7 253.7M543.7 253.7L539.1 261.9M539.1 261.9L529.7 261.9M529.7 261.9L525.1 253.7M525.1 253.7L529.7 245.4M529.7 245.4L539.1 245.4M556.3 215L550.5 225.1M550.5 225.1L544.8 235.3M544.8 235.3L539.1 245.4M512.5 292.3L518.3 282.2M518.3 282.2L524 272M524 272L529.7 261.9M529.7 245.4L523.5 238.4M523.5 238.4L515 242.2M525.1 253.7L516 251.7M516 251.7L515 242.2M445.8 311.3L441.2 319.5M441.2 319.5L431.8 319.5M431.8 319.5L427.2 311.3M427.2 311.3L431.8 303.1M431.8 303.1L441.2 303.1M441.2 303.1L445.8 311.3M480.3 311.3L468.8 311.3M468.8 311.3L457.3 311.3M457.3 311.3L445.8 311.3M392.7 311.3L404.2 311.3M404.2 311.3L415.7 311.3M415.7 311.3L427.2 311.3M431.8 319.5L429 328.6M429 328.6L436.5 334.2M441.2 319.5L444 328.6M444 328.6L436.5 334.2M343.3 261.9L333.9 261.9M333.9 261.9L329.3 253.7M329.3 253.7L333.9 245.4M333.9 245.4L343.3 245.4M343.3 245.4L347.9 253.7M347.9 253.7L343.3 261.9M360.5 292.3L354.7 282.2M354.7 282.2L349 272M349 272L343.3 261.9M316.7 215L322.5 225.1M322.5 225.1L328.2 235.3M328.2 235.3L333.9 245.4M347.9 253.7L357 251.7M357 251.7L358 242.2M343.3 245.4L349.5 238.4M349.5 238.4L358 242.2M333.9 146.6L329.3 138.3M329.3 138.3L333.9 130.1M333.9 130.1L343.3 130.1M343.3 130.1L347.9 138.3M347.9 138.3L343.3 146.6M343.3 146.6L333.9 146.6M316.7 177L322.5 166.9M322.5 166.9L328.2 156.7M328.2 156.7L333.9 146.6M360.5 99.7L354.7 109.8M354.7 109.8L349 120M349 120L343.3 130.1M333.9 130.1L327.7 123M327.7 123L319.2 126.9M329.3 138.3L320.2 136.4M320.2 136.4L319.2 126.9M427.2 80.7L431.8 72.5M431.8 72.5L441.2 72.5M441.2 72.5L445.8 80.7M445.8 80.7L441.2 88.9M441.2 88.9L431.8 88.9M431.8 88.9L427.2 80.7M392.7 80.7L404.2 80.7M404.2 80.7L415.7 80.7M415.7 80.7L427.2 80.7M480.3 80.7L468.8 80.7M468.8 80.7L457.3 80.7M457.3 80.7L445.8 80.7M431.8 88.9L429 98M429 98L436.5 103.6M441.2 88.9L444 98M444 98L436.5 103.6M529.7 130.1L539.1 130.1M539.1 130.1L543.7 138.3M543.7 138.3L539.1 146.6M539.1 146.6L529.7 146.6M529.7 146.6L525.1 138.3M525.1 138.3L529.7 130.1M512.5 99.7L518.3 109.8M518.3 109.8L524 120M524 120L529.7 130.1M556.3 177L550.5 166.9M550.5 166.9L544.8 156.7M544.8 156.7L539.1 146.6M543.7 138.3L552.8 136.4M552.8 136.4L553.8 126.9M539.1 130.1L545.3 123M545.3 123L553.8 126.9" stroke="#7c7c7c" stroke-width="4.0" stroke-linecap="round" fill="none"/><use href="#N54" x="567" y="196"/><use href="#C46" x="572.4" y="205.5"/><use href="#C46" x="556.3" y="196"/><use href="#C46" x="572.4" y="186.5"/><use href="#N54" x="583.2" y="205.5"/><use href="#N54" x="567" y="215"/><use href="#N54" x="550.9" y="205.5"/><use href="#N54" x="550.9" y="186.5"/><use href="#N54" x="567" y="177"/><use href="#N54" x="583.2" y="186.5"/><use href="#C46" x="588.5" y="196"/><use href="#C46" x="556.3" y="215"/><use href="#C46" x="556.3" y="177"/><use href="#C46" x="595.6" y="196"/><use href="#C46" x="602.7" y="196"/><use href="#C46" x="608.9" y="196"/><use href="#N54" x="501.8" y="311.3"/><use href="#C46" x="496.4" y="320.8"/><use href="#C46" x="496.4" y="301.8"/><use href="#C46" x="512.5" y="311.3"/><use href="#N54" x="501.8" y="330.3"/><use href="#N54" x="485.7" y="320.8"/><use href="#N54" x="485.7" y="301.8"/><use href="#N54" x="501.8" y="292.3"/><use href="#N54" x="517.9" y="301.8"/><use href="#N54" x="517.9" y="320.8"/><use href="#C46" x="512.5" y="330.3"/><use href="#C46" x="480.3" y="311.3"/><use href="#C46" x="512.5" y="292.3"/><use href="#C46" x="516.1" y="336.6"/><use href="#C46" x="519.6" y="342.8"/><use href="#C46" x="522.7" y="348.3"/><use href="#N54" x="371.2" y="311.3"/><use href="#C46" x="360.5" y="311.3"/><use href="#C46" x="376.6" y="301.8"/><use href="#C46" x="376.6" y="320.8"/><use href="#N54" x="355.1" y="320.8"/><use href="#N54" x="355.1" y="301.8"/><use href="#N54" x="371.2" y="292.3"/><use href="#N54" x="387.3" y="301.8"/><use href="#N54" x="387.3" y="320.8"/><use href="#N54" x="371.2" y="330.3"/><use href="#C46" x="360.5" y="330.3"/><use href="#C46" x="360.5" y="292.3"/><use href="#C46" x="392.7" y="311.3"/><use href="#C46" x="356.9" y="336.6"/><use href="#C46" x="353.4" y="342.8"/><use href="#C46" x="350.3" y="348.3"/><use href="#N54" x="306" y="196"/><use href="#C46" x="300.6" y="186.5"/><use href="#C46" x="316.7" y="196"/><use href="#C46" x="300.6" y="205.5"/><use href="#N54" x="289.8" y="186.5"/><use href="#N54" x="306" y="177"/><use href="#N54" x="322.1" y="186.5"/><use href="#N54" x="322.1" y="205.5"/><use href="#N54" x="306" y="215"/><use href="#N54" x="289.8" y="205.5"/><use href="#C46" x="284.5" y="196"/><use href="#C46" x="316.7" y="177"/><use href="#C46" x="316.7" y="215"/><use href="#C46" x="277.4" y="196"/><use href="#C46" x="270.3" y="196"/><use href="#C46" x="264.1" y="196"/><use href="#N54" x="371.2" y="80.7"/><use href="#C46" x="376.6" y="71.2"/><use href="#C46" x="376.6" y="90.2"/><use href="#C46" x="360.5" y="80.7"/><use href="#N54" x="371.2" y="61.7"/><use href="#N54" x="387.3" y="71.2"/><use href="#N54" x="387.3" y="90.2"/><use href="#N54" x="371.2" y="99.7"/><use href="#N54" x="355.1" y="90.2"/><use href="#N54" x="355.1" y="71.2"/><use href="#C46" x="360.5" y="61.7"/><use href="#C46" x="392.7" y="80.7"/><use href="#C46" x="360.5" y="99.7"/><use href="#C46" x="356.9" y="55.4"/><use href="#C46" x="353.4" y="49.2"/><use href="#C46" x="350.3" y="43.7"/><use href="#N54" x="501.8" y="80.7"/><use href="#C46" x="512.5" y="80.7"/><use href="#C46" x="496.4" y="90.2"/><use href="#C46" x="496.4" y="71.2"/><use href="#N54" x="517.9" y="71.2"/><use href="#N54" x="517.9" y="90.2"/><use href="#N54" x="501.8" y="99.7"/><use href="#N54" x="485.7" y="90.2"/><use href="#N54" x="485.7" y="71.2"/><use href="#N54" x="501.8" y="61.7"/><use href="#C46" x="512.5" y="61.7"/><use href="#C46" x="512.5" y="99.7"/><use href="#C46" x="480.3" y="80.7"/><use href="#C46" x="516.1" y="55.4"/><use href="#C46" x="519.6" y="49.2"/><use href="#C46" x="522.7" y="43.7"/><use href="#C46" x="539.1" y="245.4"/><use href="#C46" x="543.7" y="253.7"/><use href="#C46" x="539.1" y="261.9"/><use href="#C46" x="529.7" y="261.9"/><use href="#C46" x="525.1" y="253.7"/><use href="#C46" x="529.7" y="245.4"/><use href="#C46" x="550.5" y="225.1"/><use href="#C46" x="544.8" y="235.3"/><use href="#C46" x="518.3" y="282.2"/><use href="#C46" x="524" y="272"/><use href="#S49" x="515" y="242.2"/><use href="#N54" x="523.5" y="238.4"/><use href="#N54" x="516" y="251.7"/><use href="#C46" x="445.8" y="311.3"/><use href="#C46" x="441.2" y="319.5"/><use href="#C46" x="431.8" y="319.5"/><use href="#C46" x="427.2" y="311.3"/><use href="#C46" x="431.8" y="303.1"/><use href="#C46" x="441.2" y="303.1"/><use href="#C46" x="468.8" y="311.3"/><use href="#C46" x="457.3" y="311.3"/><use href="#C46" x="404.2" y="311.3"/><use href="#C46" x="415.7" y="311.3"/><use href="#S49" x="436.5" y="334.2"/><use href="#N54" x="429" y="328.6"/><use href="#N54" x="444" y="328.6"/><use href="#C46" x="343.3" y="261.9"/><use href="#C46" x="333.9" y="261.9"/><use href="#C46" x="329.3" y="253.7"/><use href="#C46" x="333.9" y="245.4"/><use href="#C46" x="343.3" y="245.4"/><use href="#C46" x="347.9" y="253.7"/><use href="#C46" x="354.7" y="282.2"/><use href="#C46" x="349" y="272"/><use href="#C46" x="322.5" y="225.1"/><use href="#C46" x="328.2" y="235.3"/><use href="#S49" x="358" y="242.2"/><use href="#N54" x="357" y="251.7"/><use href="#N54" x="349.5" y="238.4"/><use href="#C46" x="333.9" y="146.6"/><use href="#C46" x="329.3" y="138.3"/><use href="#C46" x="333.9" y="130.1"/><use href="#C46" x="343.3" y="130.1"/><use href="#C46" x="347.9" y="138.3"/><use href="#C46" x="343.3" y="146.6"/><use href="#C46" x="322.5" y="166.9"/><use href="#C46" x="328.2" y="156.7"/><use href="#C46" x="354.7" y="109.8"/><use href="#C46" x="349" y="120"/><use href="#S49" x="319.2" y="126.9"/><use href="#N54" x="327.7" y="123"/><use href="#N54" x="320.2" y="136.4"/><use href="#C46" x="427.2" y="80.7"/><use href="#C46" x="431.8" y="72.5"/><use href="#C46" x="441.2" y="72.5"/><use href="#C46" x="445.8" y="80.7"/><use href="#C46" x="441.2" y="88.9"/><use href="#C46" x="431.8" y="88.9"/><use href="#C46" x="404.2" y="80.7"/><use href="#C46" x="415.7" y="80.7"/><use href="#C46" x="468.8" y="80.7"/><use href="#C46" x="457.3" y="80.7"/><use href="#S49" x="436.5" y="103.6"/><use href="#N54" x="429" y="98"/><use href="#N54" x="444" y="98"/><use href="#C46" x="529.7" y="130.1"/><use href="#C46" x="539.1" y="130.1"/><use href="#C46" x="543.7" y="138.3"/><use href="#C46" x="539.1" y="146.6"/><use href="#C46" x="529.7" y="146.6"/><use href="#C46" x="525.1" y="138.3"/><use href="#C46" x="518.3" y="109.8"/><use href="#C46" x="524" y="120"/><use href="#C46" x="550.5" y="166.9"/><use href="#C46" x="544.8" y="156.7"/><use href="#S49" x="553.8" y="126.9"/><use href="#N54" x="552.8" y="136.4"/><use href="#N54" x="545.3" y="123"/><path d="M571.2 196L576.7 205.8M571.2 196L560.1 196M571.2 196L576.7 186.2M593.3 196L587.8 205.8M593.3 196L587.8 186.2M587.8 205.8L576.7 205.8M587.8 186.2L576.7 186.2M560.1 215.6L554.5 205.8M560.1 215.6L571.2 215.6M554.5 205.8L560.1 196M571.2 215.6L576.7 205.8M560.1 176.4L571.2 176.4M560.1 176.4L554.5 186.2M571.2 176.4L576.7 186.2M554.5 186.2L560.1 196M593.3 196L600.6 196M600.6 196L608 196M608 196L614.4 196M503.8 314.9L498.3 324.7M503.8 314.9L498.3 305.2M503.8 314.9L514.9 314.9M514.9 334.5L503.8 334.5M514.9 334.5L520.5 324.7M503.8 334.5L498.3 324.7M520.5 324.7L514.9 314.9M481.7 314.9L487.2 305.2M481.7 314.9L487.2 324.7M487.2 305.2L498.3 305.2M487.2 324.7L498.3 324.7M514.9 295.4L520.5 305.2M514.9 295.4L503.8 295.4M520.5 305.2L514.9 314.9M503.8 295.4L498.3 305.2M514.9 334.5L518.6 341M518.6 341L522.2 347.5M522.2 347.5L525.4 353.1M369.2 314.9L358.1 314.9M369.2 314.9L374.7 305.2M369.2 314.9L374.7 324.7M358.1 334.5L352.5 324.7M358.1 334.5L369.2 334.5M352.5 324.7L358.1 314.9M369.2 334.5L374.7 324.7M358.1 295.4L369.2 295.4M358.1 295.4L352.5 305.2M369.2 295.4L374.7 305.2M352.5 305.2L358.1 314.9M391.3 314.9L385.8 324.7M391.3 314.9L385.8 305.2M385.8 324.7L374.7 324.7M385.8 305.2L374.7 305.2M358.1 334.5L354.4 341M354.4 341L350.8 347.5M350.8 347.5L347.6 353.1M301.8 196L296.3 186.2M301.8 196L312.9 196M301.8 196L296.3 205.8M279.7 196L285.2 186.2M279.7 196L285.2 205.8M285.2 186.2L296.3 186.2M285.2 205.8L296.3 205.8M312.9 176.4L318.5 186.2M312.9 176.4L301.8 176.4M318.5 186.2L312.9 196M301.8 176.4L296.3 186.2M312.9 215.6L301.8 215.6M312.9 215.6L318.5 205.8M301.8 215.6L296.3 205.8M318.5 205.8L312.9 196M279.7 196L272.4 196M272.4 196L265 196M265 196L258.6 196M369.2 77.1L374.7 67.3M369.2 77.1L374.7 86.8M369.2 77.1L358.1 77.1M358.1 57.5L369.2 57.5M358.1 57.5L352.5 67.3M369.2 57.5L374.7 67.3M352.5 67.3L358.1 77.1M391.3 77.1L385.8 86.8M391.3 77.1L385.8 67.3M385.8 86.8L374.7 86.8M385.8 67.3L374.7 67.3M358.1 96.6L352.5 86.8M358.1 96.6L369.2 96.6M352.5 86.8L358.1 77.1M369.2 96.6L374.7 86.8M358.1 57.5L354.4 51M354.4 51L350.8 44.5M350.8 44.5L347.6 38.9M503.8 77.1L514.9 77.1M503.8 77.1L498.3 86.8M503.8 77.1L498.3 67.3M514.9 57.5L520.5 67.3M514.9 57.5L503.8 57.5M520.5 67.3L514.9 77.1M503.8 57.5L498.3 67.3M514.9 96.6L503.8 96.6M514.9 96.6L520.5 86.8M503.8 96.6L498.3 86.8M520.5 86.8L514.9 77.1M481.7 77.1L487.2 67.3M481.7 77.1L487.2 86.8M487.2 67.3L498.3 67.3M487.2 86.8L498.3 86.8M514.9 57.5L518.6 51M518.6 51L522.2 44.5M522.2 44.5L525.4 38.9M542.3 247L547.1 255.5M547.1 255.5L542.3 264M542.3 264L532.7 264M532.7 264L527.9 255.5M527.9 255.5L532.7 247M532.7 247L542.3 247M560.1 215.6L554.1 226M554.1 226L548.2 236.5M548.2 236.5L542.3 247M514.9 295.4L520.8 284.9M520.8 284.9L526.8 274.4M526.8 274.4L532.7 264M532.7 247L526.2 239.7M526.2 239.7L517.5 243.7M527.9 255.5L518.5 253.4M518.5 253.4L517.5 243.7M446.1 314.9L441.3 323.4M441.3 323.4L431.7 323.4M431.7 323.4L426.9 314.9M426.9 314.9L431.7 306.4M431.7 306.4L441.3 306.4M441.3 306.4L446.1 314.9M481.7 314.9L469.8 314.9M469.8 314.9L458 314.9M458 314.9L446.1 314.9M391.3 314.9L403.2 314.9M403.2 314.9L415 314.9M415 314.9L426.9 314.9M431.7 323.4L428.7 332.8M428.7 332.8L436.5 338.5M441.3 323.4L444.3 332.8M444.3 332.8L436.5 338.5M340.3 264L330.7 264M330.7 264L325.9 255.5M325.9 255.5L330.7 247M330.7 247L340.3 247M340.3 247L345.1 255.5M345.1 255.5L340.3 264M358.1 295.4L352.2 284.9M352.2 284.9L346.2 274.4M346.2 274.4L340.3 264M312.9 215.6L318.9 226M318.9 226L324.8 236.5M324.8 236.5L330.7 247M345.1 255.5L354.5 253.4M354.5 253.4L355.5 243.7M340.3 247L346.8 239.7M346.8 239.7L355.5 243.7M330.7 145L325.9 136.5M325.9 136.5L330.7 128M330.7 128L340.3 128M340.3 128L345.1 136.5M345.1 136.5L340.3 145M340.3 145L330.7 145M312.9 176.4L318.9 166M318.9 166L324.8 155.5M324.8 155.5L330.7 145M358.1 96.6L352.2 107.1M352.2 107.1L346.2 117.6M346.2 117.6L340.3 128M330.7 128L324.3 120.7M324.3 120.7L315.5 124.7M325.9 136.5L316.5 134.5M316.5 134.5L315.5 124.7M426.9 77.1L431.7 68.6M431.7 68.6L441.3 68.6M441.3 68.6L446.1 77.1M446.1 77.1L441.3 85.6M441.3 85.6L431.7 85.6M431.7 85.6L426.9 77.1M391.3 77.1L403.2 77.1M403.2 77.1L415 77.1M415 77.1L426.9 77.1M481.7 77.1L469.8 77.1M469.8 77.1L458 77.1M458 77.1L446.1 77.1M431.7 85.6L428.7 94.9M428.7 94.9L436.5 100.6M441.3 85.6L444.3 94.9M444.3 94.9L436.5 100.6M532.7 128L542.3 128M542.3 128L547.1 136.5M547.1 136.5L542.3 145M542.3 145L532.7 145M532.7 145L527.9 136.5M527.9 136.5L532.7 128M514.9 96.6L520.8 107.1M520.8 107.1L526.8 117.6M526.8 117.6L532.7 128M560.1 176.4L554.1 166M554.1 166L548.2 155.5M548.2 155.5L542.3 145M547.1 136.5L556.5 134.5M556.5 134.5L557.5 124.7M542.3 128L548.7 120.7M548.7 120.7L557.5 124.7" stroke="#7c7c7c" stroke-width="4.0" stroke-linecap="round" fill="none"/><use href="#N54" x="571.2" y="196"/><use href="#C46" x="576.7" y="205.8"/><use href="#C46" x="560.1" y="196"/><use href="#C46" x="576.7" y="186.2"/><use href="#N54" x="587.8" y="205.8"/><use href="#N54" x="571.2" y="215.6"/><use href="#N54" x="554.5" y="205.8"/><use href="#N54" x="554.5" y="186.2"/><use href="#N54" x="571.2" y="176.4"/><use href="#N54" x="587.8" y="186.2"/><use href="#C46" x="593.3" y="196"/><use href="#C46" x="560.1" y="215.6"/><use href="#C46" x="560.1" y="176.4"/><use href="#C46" x="600.6" y="196"/><use href="#C46" x="608" y="196"/><use href="#C46" x="614.4" y="196"/><use href="#N54" x="503.8" y="314.9"/><use href="#C46" x="498.3" y="324.7"/><use href="#C46" x="498.3" y="305.2"/><use href="#C46" x="514.9" y="314.9"/><use href="#N54" x="503.8" y="334.5"/><use href="#N54" x="487.2" y="324.7"/><use href="#N54" x="487.2" y="305.2"/><use href="#N54" x="503.8" y="295.4"/><use href="#N54" x="520.5" y="305.2"/><use href="#N54" x="520.5" y="324.7"/><use href="#C46" x="514.9" y="334.5"/><use href="#C46" x="481.7" y="314.9"/><use href="#C46" x="514.9" y="295.4"/><use href="#C46" x="518.6" y="341"/><use href="#C46" x="522.2" y="347.5"/><use href="#C46" x="525.4" y="353.1"/><use href="#N54" x="369.2" y="314.9"/><use href="#C46" x="358.1" y="314.9"/><use href="#C46" x="374.7" y="305.2"/><use href="#C46" x="374.7" y="324.7"/><use href="#N54" x="352.5" y="324.7"/><use href="#N54" x="352.5" y="305.2"/><use href="#N54" x="369.2" y="295.4"/><use href="#N54" x="385.8" y="305.2"/><use href="#N54" x="385.8" y="324.7"/><use href="#N54" x="369.2" y="334.5"/><use href="#C46" x="358.1" y="334.5"/><use href="#C46" x="358.1" y="295.4"/><use href="#C46" x="391.3" y="314.9"/><use href="#C46" x="354.4" y="341"/><use href="#C46" x="350.8" y="347.5"/><use href="#C46" x="347.6" y="353.1"/><use href="#N54" x="301.8" y="196"/><use href="#C46" x="296.3" y="186.2"/><use href="#C46" x="312.9" y="196"/><use href="#C46" x="296.3" y="205.8"/><use href="#N54" x="285.2" y="186.2"/><use href="#N54" x="301.8" y="176.4"/><use href="#N54" x="318.5" y="186.2"/><use href="#N54" x="318.5" y="205.8"/><use href="#N54" x="301.8" y="215.6"/><use href="#N54" x="285.2" y="205.8"/><use href="#C46" x="279.7" y="196"/><use href="#C46" x="312.9" y="176.4"/><use href="#C46" x="312.9" y="215.6"/><use href="#C46" x="272.4" y="196"/><use href="#C46" x="265" y="196"/><use href="#C46" x="258.6" y="196"/><use href="#N54" x="369.2" y="77.1"/><use href="#C46" x="374.7" y="67.3"/><use href="#C46" x="374.7" y="86.8"/><use href="#C46" x="358.1" y="77.1"/><use href="#N54" x="369.2" y="57.5"/><use href="#N54" x="385.8" y="67.3"/><use href="#N54" x="385.8" y="86.8"/><use href="#N54" x="369.2" y="96.6"/><use href="#N54" x="352.5" y="86.8"/><use href="#N54" x="352.5" y="67.3"/><use href="#C46" x="358.1" y="57.5"/><use href="#C46" x="391.3" y="77.1"/><use href="#C46" x="358.1" y="96.6"/><use href="#C46" x="354.4" y="51"/><use href="#C46" x="350.8" y="44.5"/><use href="#C46" x="347.6" y="38.9"/><use href="#N54" x="503.8" y="77.1"/><use href="#C46" x="514.9" y="77.1"/><use href="#C46" x="498.3" y="86.8"/><use href="#C46" x="498.3" y="67.3"/><use href="#N54" x="520.5" y="67.3"/><use href="#N54" x="520.5" y="86.8"/><use href="#N54" x="503.8" y="96.6"/><use href="#N54" x="487.2" y="86.8"/><use href="#N54" x="487.2" y="67.3"/><use href="#N54" x="503.8" y="57.5"/><use href="#C46" x="514.9" y="57.5"/><use href="#C46" x="514.9" y="96.6"/><use href="#C46" x="481.7" y="77.1"/><use href="#C46" x="518.6" y="51"/><use href="#C46" x="522.2" y="44.5"/><use href="#C46" x="525.4" y="38.9"/><use href="#C46" x="542.3" y="247"/><use href="#C46" x="547.1" y="255.5"/><use href="#C46" x="542.3" y="264"/><use href="#C46" x="532.7" y="264"/><use href="#C46" x="527.9" y="255.5"/><use href="#C46" x="532.7" y="247"/><use href="#C46" x="554.1" y="226"/><use href="#C46" x="548.2" y="236.5"/><use href="#C46" x="520.8" y="284.9"/><use href="#C46" x="526.8" y="274.4"/><use href="#S49" x="517.5" y="243.7"/><use href="#N54" x="526.2" y="239.7"/><use href="#N54" x="518.5" y="253.4"/><use href="#C46" x="446.1" y="314.9"/><use href="#C46" x="441.3" y="323.4"/><use href="#C46" x="431.7" y="323.4"/><use href="#C46" x="426.9" y="314.9"/><use href="#C46" x="431.7" y="306.4"/><use href="#C46" x="441.3" y="306.4"/><use href="#C46" x="469.8" y="314.9"/><use href="#C46" x="458" y="314.9"/><use href="#C46" x="403.2" y="314.9"/><use href="#C46" x="415" y="314.9"/><use href="#S49" x="436.5" y="338.5"/><use href="#N54" x="428.7" y="332.8"/><use href="#N54" x="444.3" y="332.8"/><use href="#C46" x="340.3" y="264"/><use href="#C46" x="330.7" y="264"/><use href="#C46" x="325.9" y="255.5"/><use href="#C46" x="330.7" y="247"/><use href="#C46" x="340.3" y="247"/><use href="#C46" x="345.1" y="255.5"/><use href="#C46" x="352.2" y="284.9"/><use href="#C46" x="346.2" y="274.4"/><use href="#C46" x="318.9" y="226"/><use href="#C46" x="324.8" y="236.5"/><use href="#S49" x="355.5" y="243.7"/><use href="#N54" x="354.5" y="253.4"/><use href="#N54" x="346.8" y="239.7"/><use href="#C46" x="330.7" y="145"/><use href="#C46" x="325.9" y="136.5"/><use href="#C46" x="330.7" y="128"/><use href="#C46" x="340.3" y="128"/><use href="#C46" x="345.1" y="136.5"/><use href="#C46" x="340.3" y="145"/><use href="#C46" x="318.9" y="166"/><use href="#C46" x="324.8" y="155.5"/><use href="#C46" x="352.2" y="107.1"/><use href="#C46" x="346.2" y="117.6"/><use href="#S49" x="315.5" y="124.7"/><use href="#N54" x="324.3" y="120.7"/><use href="#N54" x="316.5" y="134.5"/><use href="#C46" x="426.9" y="77.1"/><use href="#C46" x="431.7" y="68.6"/><use href="#C46" x="441.3" y="68.6"/><use href="#C46" x="446.1" y="77.1"/><use href="#C46" x="441.3" y="85.6"/><use href="#C46" x="431.7" y="85.6"/><use href="#C46" x="403.2" y="77.1"/><use href="#C46" x="415" y="77.1"/><use href="#C46" x="469.8" y="77.1"/><use href="#C46" x="458" y="77.1"/><use href="#S49" x="436.5" y="100.6"/><use href="#N54" x="428.7" y="94.9"/><use href="#N54" x="444.3" y="94.9"/><use href="#C46" x="532.7" y="128"/><use href="#C46" x="542.3" y="128"/><use href="#C46" x="547.1" y="136.5"/><use href="#C46" x="542.3" y="145"/><use href="#C46" x="532.7" y="145"/><use href="#C46" x="527.9" y="136.5"/><use href="#C46" x="520.8" y="107.1"/><use href="#C46" x="526.8" y="117.6"/><use href="#C46" x="554.1" y="166"/><use href="#C46" x="548.2" y="155.5"/><use href="#S49" x="557.5" y="124.7"/><use href="#N54" x="556.5" y="134.5"/><use href="#N54" x="548.7" y="120.7"/><path d="M575.3 196L581 206.1M575.3 196L563.8 196M575.3 196L581 185.9M598.1 196L592.4 206.1M598.1 196L592.4 185.9M592.4 206.1L581 206.1M592.4 185.9L581 185.9M563.8 216.2L558.1 206.1M563.8 216.2L575.3 216.2M558.1 206.1L563.8 196M575.3 216.2L581 206.1M563.8 175.8L575.3 175.8M563.8 175.8L558.1 185.9M575.3 175.8L581 185.9M558.1 185.9L563.8 196M598.1 196L605.7 196M605.7 196L613.2 196M613.2 196L619.8 196M505.9 318.6L500.2 328.7M505.9 318.6L500.2 308.5M505.9 318.6L517.3 318.6M517.3 338.8L505.9 338.8M517.3 338.8L523 328.7M505.9 338.8L500.2 328.7M523 328.7L517.3 318.6M483 318.6L488.8 308.5M483 318.6L488.8 328.7M488.8 308.5L500.2 308.5M488.8 328.7L500.2 328.7M517.3 298.4L523 308.5M517.3 298.4L505.9 298.4M523 308.5L517.3 318.6M505.9 298.4L500.2 308.5M517.3 338.8L521.1 345.4M521.1 345.4L524.9 352.1M524.9 352.1L528.2 357.9M367.1 318.6L355.7 318.6M367.1 318.6L372.8 308.5M367.1 318.6L372.8 328.7M355.7 338.8L350 328.7M355.7 338.8L367.1 338.8M350 328.7L355.7 318.6M367.1 338.8L372.8 328.7M355.7 298.4L367.1 298.4M355.7 298.4L350 308.5M367.1 298.4L372.8 308.5M350 308.5L355.7 318.6M390 318.6L384.2 328.7M390 318.6L384.2 308.5M384.2 328.7L372.8 328.7M384.2 308.5L372.8 308.5M355.7 338.8L351.9 345.4M351.9 345.4L348.1 352.1M348.1 352.1L344.8 357.9M297.7 196L292 185.9M297.7 196L309.2 196M297.7 196L292 206.1M274.9 196L280.6 185.9M274.9 196L280.6 206.1M280.6 185.9L292 185.9M280.6 206.1L292 206.1M309.2 175.8L314.9 185.9M309.2 175.8L297.7 175.8M314.9 185.9L309.2 196M297.7 175.8L292 185.9M309.2 216.2L297.7 216.2M309.2 216.2L314.9 206.1M297.7 216.2L292 206.1M314.9 206.1L309.2 196M274.9 196L267.3 196M267.3 196L259.8 196M259.8 196L253.2 196M367.1 73.4L372.8 63.3M367.1 73.4L372.8 83.5M367.1 73.4L355.7 73.4M355.7 53.2L367.1 53.2M355.7 53.2L350 63.3M367.1 53.2L372.8 63.3M350 63.3L355.7 73.4M390 73.4L384.2 83.5M390 73.4L384.2 63.3M384.2 83.5L372.8 83.5M384.2 63.3L372.8 63.3M355.7 93.6L350 83.5M355.7 93.6L367.1 93.6M350 83.5L355.7 73.4M367.1 93.6L372.8 83.5M355.7 53.2L351.9 46.6M351.9 46.6L348.1 39.9M348.1 39.9L344.8 34.1M505.9 73.4L517.3 73.4M505.9 73.4L500.2 83.5M505.9 73.4L500.2 63.3M517.3 53.2L523 63.3M517.3 53.2L505.9 53.2M523 63.3L517.3 73.4M505.9 53.2L500.2 63.3M517.3 93.6L505.9 93.6M517.3 93.6L523 83.5M505.9 93.6L500.2 83.5M523 83.5L517.3 73.4M483 73.4L488.8 63.3M483 73.4L488.8 83.5M488.8 63.3L500.2 63.3M488.8 83.5L500.2 83.5M517.3 53.2L521.1 46.6M521.1 46.6L524.9 39.9M524.9 39.9L528.2 34.1M545.5 248.5L550.5 257.3M550.5 257.3L545.5 266M545.5 266L535.6 266M535.6 266L530.7 257.3M530.7 257.3L535.6 248.5M535.6 248.5L545.5 248.5M563.8 216.2L557.7 227M557.7 227L551.6 237.7M551.6 237.7L545.5 248.5M517.3 298.4L523.4 287.6M523.4 287.6L529.5 276.8M529.5 276.8L535.6 266M535.6 248.5L529 241M529 241L519.9 245.1M530.7 257.3L521 255.2M521 255.2L519.9 245.1M446.4 318.6L441.5 327.3M441.5 327.3L431.5 327.3M431.5 327.3L426.6 318.6M426.6 318.6L431.5 309.8M431.5 309.8L441.5 309.8M441.5 309.8L446.4 318.6M483 318.6L470.8 318.6M470.8 318.6L458.6 318.6M458.6 318.6L446.4 318.6M390 318.6L402.2 318.6M402.2 318.6L414.4 318.6M414.4 318.6L426.6 318.6M431.5 327.3L428.5 336.9M428.5 336.9L436.5 342.9M441.5 327.3L444.5 336.9M444.5 336.9L436.5 342.9M337.4 266L327.5 266M327.5 266L322.5 257.3M322.5 257.3L327.5 248.5M327.5 248.5L337.4 248.5M337.4 248.5L342.3 257.3M342.3 257.3L337.4 266M355.7 298.4L349.6 287.6M349.6 287.6L343.5 276.8M343.5 276.8L337.4 266M309.2 216.2L315.3 227M315.3 227L321.4 237.7M321.4 237.7L327.5 248.5M342.3 257.3L352 255.2M352 255.2L353.1 245.1M337.4 248.5L344 241M344 241L353.1 245.1M327.5 143.5L322.5 134.7M322.5 134.7L327.5 126M327.5 126L337.4 126M337.4 126L342.3 134.7M342.3 134.7L337.4 143.5M337.4 143.5L327.5 143.5M309.2 175.8L315.3 165M315.3 165L321.4 154.3M321.4 154.3L327.5 143.5M355.7 93.6L349.6 104.4M349.6 104.4L343.5 115.2M343.5 115.2L337.4 126M327.5 126L320.8 118.4M320.8 118.4L311.8 122.6M322.5 134.7L312.8 132.6M312.8 132.6L311.8 122.6M426.6 73.4L431.5 64.7M431.5 64.7L441.5 64.7M441.5 64.7L446.4 73.4M446.4 73.4L441.5 82.2M441.5 82.2L431.5 82.2M431.5 82.2L426.6 73.4M390 73.4L402.2 73.4M402.2 73.4L414.4 73.4M414.4 73.4L426.6 73.4M483 73.4L470.8 73.4M470.8 73.4L458.6 73.4M458.6 73.4L446.4 73.4M431.5 82.2L428.5 91.8M428.5 91.8L436.5 97.7M441.5 82.2L444.5 91.8M444.5 91.8L436.5 97.7M535.6 126L545.5 126M545.5 126L550.5 134.7M550.5 134.7L545.5 143.5M545.5 143.5L535.6 143.5M535.6 143.5L530.7 134.7M530.7 134.7L535.6 126M517.3 93.6L523.4 104.4M523.4 104.4L529.5 115.2M529.5 115.2L535.6 126M563.8 175.8L557.7 165M557.7 165L551.6 154.3M551.6 154.3L545.5 143.5M550.5 134.7L560.2 132.6M560.2 132.6L561.2 122.6M545.5 126L552.2 118.4M552.2 118.4L561.2 122.6" stroke="#7c7c7c" stroke-width="4.0" stroke-linecap="round" fill="none"/><use href="#N54" x="575.3" y="196"/><use href="#C46" x="581" y="206.1"/><use href="#C46" x="563.8" y="196"/><use href="#C46" x="581" y="185.9"/><use href="#N54" x="592.4" y="206.1"/><use href="#N54" x="575.3" y="216.2"/><use href="#N54" x="558.1" y="206.1"/><use href="#N54" x="558.1" y="185.9"/><use href="#N54" x="575.3" y="175.8"/><use href="#N54" x="592.4" y="185.9"/><use href="#C46" x="598.1" y="196"/><use href="#C46" x="563.8" y="216.2"/><use href="#C46" x="563.8" y="175.8"/><use href="#C46" x="605.7" y="196"/><use href="#C46" x="613.2" y="196"/><use href="#C46" x="619.8" y="196"/><use href="#N54" x="505.9" y="318.6"/><use href="#C46" x="500.2" y="328.7"/><use href="#C46" x="500.2" y="308.5"/><use href="#C46" x="517.3" y="318.6"/><use href="#N54" x="505.9" y="338.8"/><use href="#N54" x="488.8" y="328.7"/><use href="#N54" x="488.8" y="308.5"/><use href="#N54" x="505.9" y="298.4"/><use href="#N54" x="523" y="308.5"/><use href="#N54" x="523" y="328.7"/><use href="#C46" x="517.3" y="338.8"/><use href="#C46" x="483" y="318.6"/><use href="#C46" x="517.3" y="298.4"/><use href="#C46" x="521.1" y="345.4"/><use href="#C46" x="524.9" y="352.1"/><use href="#C46" x="528.2" y="357.9"/><use href="#N54" x="367.1" y="318.6"/><use href="#C46" x="355.7" y="318.6"/><use href="#C46" x="372.8" y="308.5"/><use href="#C46" x="372.8" y="328.7"/><use href="#N54" x="350" y="328.7"/><use href="#N54" x="350" y="308.5"/><use href="#N54" x="367.1" y="298.4"/><use href="#N54" x="384.2" y="308.5"/><use href="#N54" x="384.2" y="328.7"/><use href="#N54" x="367.1" y="338.8"/><use href="#C46" x="355.7" y="338.8"/><use href="#C46" x="355.7" y="298.4"/><use href="#C46" x="390" y="318.6"/><use href="#C46" x="351.9" y="345.4"/><use href="#C46" x="348.1" y="352.1"/><use href="#C46" x="344.8" y="357.9"/><use href="#N54" x="297.7" y="196"/><use href="#C46" x="292" y="185.9"/><use href="#C46" x="309.2" y="196"/><use href="#C46" x="292" y="206.1"/><use href="#N54" x="280.6" y="185.9"/><use href="#N54" x="297.7" y="175.8"/><use href="#N54" x="314.9" y="185.9"/><use href="#N54" x="314.9" y="206.1"/><use href="#N54" x="297.7" y="216.2"/><use href="#N54" x="280.6" y="206.1"/><use href="#C46" x="274.9" y="196"/><use href="#C46" x="309.2" y="175.8"/><use href="#C46" x="309.2" y="216.2"/><use href="#C46" x="267.3" y="196"/><use href="#C46" x="259.8" y="196"/><use href="#C46" x="253.2" y="196"/><use href="#N54" x="367.1" y="73.4"/><use href="#C46" x="372.8" y="63.3"/><use href="#C46" x="372.8" y="83.5"/><use href="#C46" x="355.7" y="73.4"/><use href="#N54" x="367.1" y="53.2"/><use href="#N54" x="384.2" y="63.3"/><use href="#N54" x="384.2" y="83.5"/><use href="#N54" x="367.1" y="93.6"/><use href="#N54" x="350" y="83.5"/><use href="#N54" x="350" y="63.3"/><use href="#C46" x="355.7" y="53.2"/><use href="#C46" x="390" y="73.4"/><use href="#C46" x="355.7" y="93.6"/><use href="#C46" x="351.9" y="46.6"/><use href="#C46" x="348.1" y="39.9"/><use href="#C46" x="344.8" y="34.1"/><use href="#N54" x="505.9" y="73.4"/><use href="#C46" x="517.3" y="73.4"/><use href="#C46" x="500.2" y="83.5"/><use href="#C46" x="500.2" y="63.3"/><use href="#N54" x="523" y="63.3"/><use href="#N54" x="523" y="83.5"/><use href="#N54" x="505.9" y="93.6"/><use href="#N54" x="488.8" y="83.5"/><use href="#N54" x="488.8" y="63.3"/><use href="#N54" x="505.9" y="53.2"/><use href="#C46" x="517.3" y="53.2"/><use href="#C46" x="517.3" y="93.6"/><use href="#C46" x="483" y="73.4"/><use href="#C46" x="521.1" y="46.6"/><use href="#C46" x="524.9" y="39.9"/><use href="#C46" x="528.2" y="34.1"/><use href="#C46" x="545.5" y="248.5"/><use href="#C46" x="550.5" y="257.3"/><use href="#C46" x="545.5" y="266"/><use href="#C46" x="535.6" y="266"/><use href="#C46" x="530.7" y="257.3"/><use href="#C46" x="535.6" y="248.5"/><use href="#C46" x="557.7" y="227"/><use href="#C46" x="551.6" y="237.7"/><use href="#C46" x="523.4" y="287.6"/><use href="#C46" x="529.5" y="276.8"/><use href="#S49" x="519.9" y="245.1"/><use href="#N54" x="529" y="241"/><use href="#N54" x="521" y="255.2"/><use href="#C46" x="446.4" y="318.6"/><use href="#C46" x="441.5" y="327.3"/><use href="#C46" x="431.5" y="327.3"/><use href="#C46" x="426.6" y="318.6"/><use href="#C46" x="431.5" y="309.8"/><use href="#C46" x="441.5" y="309.8"/><use href="#C46" x="470.8" y="318.6"/><use href="#C46" x="458.6" y="318.6"/><use href="#C46" x="402.2" y="318.6"/><use href="#C46" x="414.4" y="318.6"/><use href="#S49" x="436.5" y="342.9"/><use href="#N54" x="428.5" y="336.9"/><use href="#N54" x="444.5" y="336.9"/><use href="#C46" x="337.4" y="266"/><use href="#C46" x="327.5" y="266"/><use href="#C46" x="322.5" y="257.3"/><use href="#C46" x="327.5" y="248.5"/><use href="#C46" x="337.4" y="248.5"/><use href="#C46" x="342.3" y="257.3"/><use href="#C46" x="349.6" y="287.6"/><use href="#C46" x="343.5" y="276.8"/><use href="#C46" x="315.3" y="227"/><use href="#C46" x="321.4" y="237.7"/><use href="#S49" x="353.1" y="245.1"/><use href="#N54" x="352" y="255.2"/><use href="#N54" x="344" y="241"/><use href="#C46" x="327.5" y="143.5"/><use href="#C46" x="322.5" y="134.7"/><use href="#C46" x="327.5" y="126"/><use href="#C46" x="337.4" y="126"/><use href="#C46" x="342.3" y="134.7"/><use href="#C46" x="337.4" y="143.5"/><use href="#C46" x="315.3" y="165"/><use href="#C46" x="321.4" y="154.3"/><use href="#C46" x="349.6" y="104.4"/><use href="#C46" x="343.5" y="115.2"/><use href="#S49" x="311.8" y="122.6"/><use href="#N54" x="320.8" y="118.4"/><use href="#N54" x="312.8" y="132.6"/><use href="#C46" x="426.6" y="73.4"/><use href="#C46" x="431.5" y="64.7"/><use href="#C46" x="441.5" y="64.7"/><use href="#C46" x="446.4" y="73.4"/><use href="#C46" x="441.5" y="82.2"/><use href="#C46" x="431.5" y="82.2"/><use href="#C46" x="402.2" y="73.4"/><use href="#C46" x="414.4" y="73.4"/><use href="#C46" x="470.8" y="73.4"/><use href="#C46" x="458.6" y="73.4"/><use href="#S49" x="436.5" y="97.7"/><use href="#N54" x="428.5" y="91.8"/><use href="#N54" x="444.5" y="91.8"/><use href="#C46" x="535.6" y="126"/><use href="#C46" x="545.5" y="126"/><use href="#C46" x="550.5" y="134.7"/><use href="#C46" x="545.5" y="143.5"/><use href="#C46" x="535.6" y="143.5"/><use href="#C46" x="530.7" y="134.7"/><use href="#C46" x="523.4" y="104.4"/><use href="#C46" x="529.5" y="115.2"/><use href="#C46" x="557.7" y="165"/><use href="#C46" x="551.6" y="154.3"/><use href="#S49" x="561.2" y="122.6"/><use href="#N54" x="560.2" y="132.6"/><use href="#N54" x="552.2" y="118.4"/><path d="M579.4 196L585.3 206.4M579.4 196L567.6 196M579.4 196L585.3 185.6M602.9 196L597 206.4M602.9 196L597 185.6M597 206.4L585.3 206.4M597 185.6L585.3 185.6M567.6 216.8L561.7 206.4M567.6 216.8L579.4 216.8M561.7 206.4L567.6 196M579.4 216.8L585.3 206.4M567.6 175.2L579.4 175.2M567.6 175.2L561.7 185.6M579.4 175.2L585.3 185.6M561.7 185.6L567.6 196M602.9 196L610.7 196M610.7 196L618.5 196M618.5 196L625.3 196M507.9 322.2L502.1 332.6M507.9 322.2L502.1 311.8M507.9 322.2L519.7 322.2M519.7 343L507.9 343M519.7 343L525.6 332.6M507.9 343L502.1 332.6M525.6 332.6L519.7 322.2M484.4 322.2L490.3 311.8M484.4 322.2L490.3 332.6M490.3 311.8L502.1 311.8M490.3 332.6L502.1 332.6M519.7 301.4L525.6 311.8M519.7 301.4L507.9 301.4M525.6 311.8L519.7 322.2M507.9 301.4L502.1 311.8M519.7 343L523.6 349.9M523.6 349.9L527.5 356.7M527.5 356.7L530.9 362.7M365.1 322.2L353.3 322.2M365.1 322.2L370.9 311.8M365.1 322.2L370.9 332.6M353.3 343L347.4 332.6M353.3 343L365.1 343M347.4 332.6L353.3 322.2M365.1 343L370.9 332.6M353.3 301.4L365.1 301.4M353.3 301.4L347.4 311.8M365.1 301.4L370.9 311.8M347.4 311.8L353.3 322.2M388.6 322.2L382.7 332.6M388.6 322.2L382.7 311.8M382.7 332.6L370.9 332.6M382.7 311.8L370.9 311.8M353.3 343L349.4 349.9M349.4 349.9L345.5 356.7M345.5 356.7L342.1 362.7M293.6 196L287.7 185.6M293.6 196L305.4 196M293.6 196L287.7 206.4M270.1 196L276 185.6M270.1 196L276 206.4M276 185.6L287.7 185.6M276 206.4L287.7 206.4M305.4 175.2L311.3 185.6M305.4 175.2L293.6 175.2M311.3 185.6L305.4 196M293.6 175.2L287.7 185.6M305.4 216.8L293.6 216.8M305.4 216.8L311.3 206.4M293.6 216.8L287.7 206.4M311.3 206.4L305.4 196M270.1 196L262.3 196M262.3 196L254.5 196M254.5 196L247.7 196M365.1 69.8L370.9 59.4M365.1 69.8L370.9 80.2M365.1 69.8L353.3 69.8M353.3 49L365.1 49M353.3 49L347.4 59.4M365.1 49L370.9 59.4M347.4 59.4L353.3 69.8M388.6 69.8L382.7 80.2M388.6 69.8L382.7 59.4M382.7 80.2L370.9 80.2M382.7 59.4L370.9 59.4M353.3 90.6L347.4 80.2M353.3 90.6L365.1 90.6M347.4 80.2L353.3 69.8M365.1 90.6L370.9 80.2M353.3 49L349.4 42.1M349.4 42.1L345.5 35.3M345.5 35.3L342.1 29.3M507.9 69.8L519.7 69.8M507.9 69.8L502.1 80.2M507.9 69.8L502.1 59.4M519.7 49L525.6 59.4M519.7 49L507.9 49M525.6 59.4L519.7 69.8M507.9 49L502.1 59.4M519.7 90.6L507.9 90.6M519.7 90.6L525.6 80.2M507.9 90.6L502.1 80.2M525.6 80.2L519.7 69.8M484.4 69.8L490.3 59.4M484.4 69.8L490.3 80.2M490.3 59.4L502.1 59.4M490.3 80.2L502.1 80.2M519.7 49L523.6 42.1M523.6 42.1L527.5 35.3M527.5 35.3L530.9 29.3M548.8 250.1L553.9 259.1M553.9 259.1L548.8 268.1M548.8 268.1L538.6 268.1M538.6 268.1L533.5 259.1M533.5 259.1L538.6 250.1M538.6 250.1L548.8 250.1M567.6 216.8L561.3 227.9M561.3 227.9L555.1 239M555.1 239L548.8 250.1M519.7 301.4L526 290.3M526 290.3L532.3 279.2M532.3 279.2L538.6 268.1M538.6 250.1L531.7 242.4M531.7 242.4L522.4 246.6M533.5 259.1L523.5 256.9M523.5 256.9L522.4 246.6M446.7 322.2L441.6 331.2M441.6 331.2L431.4 331.2M431.4 331.2L426.3 322.2M426.3 322.2L431.4 313.2M431.4 313.2L441.6 313.2M441.6 313.2L446.7 322.2M484.4 322.2L471.8 322.2M471.8 322.2L459.3 322.2M459.3 322.2L446.7 322.2M388.6 322.2L401.2 322.2M401.2 322.2L413.7 322.2M413.7 322.2L426.3 322.2M431.4 331.2L428.2 341.1M428.2 341.1L436.5 347.2M441.6 331.2L444.8 341.1M444.8 341.1L436.5 347.2M334.4 268.1L324.2 268.1M324.2 268.1L319.1 259.1M319.1 259.1L324.2 250.1M324.2 250.1L334.4 250.1M334.4 250.1L339.5 259.1M339.5 259.1L334.4 268.1M353.3 301.4L347 290.3M347 290.3L340.7 279.2M340.7 279.2L334.4 268.1M305.4 216.8L311.7 227.9M311.7 227.9L317.9 239M317.9 239L324.2 250.1M339.5 259.1L349.5 256.9M349.5 256.9L350.6 246.6M334.4 250.1L341.3 242.4M341.3 242.4L350.6 246.6M324.2 141.9L319.1 132.9M319.1 132.9L324.2 123.9M324.2 123.9L334.4 123.9M334.4 123.9L339.5 132.9M339.5 132.9L334.4 141.9M334.4 141.9L324.2 141.9M305.4 175.2L311.7 164.1M311.7 164.1L317.9 153M317.9 153L324.2 141.9M353.3 90.6L347 101.7M347 101.7L340.7 112.8M340.7 112.8L334.4 123.9M324.2 123.9L317.4 116.1M317.4 116.1L308.1 120.4M319.1 132.9L309.1 130.7M309.1 130.7L308.1 120.4M426.3 69.8L431.4 60.8M431.4 60.8L441.6 60.8M441.6 60.8L446.7 69.8M446.7 69.8L441.6 78.8M441.6 78.8L431.4 78.8M431.4 78.8L426.3 69.8M388.6 69.8L401.2 69.8M401.2 69.8L413.7 69.8M413.7 69.8L426.3 69.8M484.4 69.8L471.8 69.8M471.8 69.8L459.3 69.8M459.3 69.8L446.7 69.8M431.4 78.8L428.2 88.7M428.2 88.7L436.5 94.8M441.6 78.8L444.8 88.7M444.8 88.7L436.5 94.8M538.6 123.9L548.8 123.9M548.8 123.9L553.9 132.9M553.9 132.9L548.8 141.9M548.8 141.9L538.6 141.9M538.6 141.9L533.5 132.9M533.5 132.9L538.6 123.9M519.7 90.6L526 101.7M526 101.7L532.3 112.8M532.3 112.8L538.6 123.9M567.6 175.2L561.3 164.1M561.3 164.1L555.1 153M555.1 153L548.8 141.9M553.9 132.9L563.9 130.7M563.9 130.7L564.9 120.4M548.8 123.9L555.6 116.1M555.6 116.1L564.9 120.4" stroke="#7c7c7c" stroke-width="4.0" stroke-linecap="round" fill="none"/><use href="#N54" x="579.4" y="196"/><use href="#C46" x="585.3" y="206.4"/><use href="#C46" x="567.6" y="196"/><use href="#C46" x="585.3" y="185.6"/><use href="#N54" x="597" y="206.4"/><use href="#N54" x="579.4" y="216.8"/><use href="#N54" x="561.7" y="206.4"/><use href="#N54" x="561.7" y="185.6"/><use href="#N54" x="579.4" y="175.2"/><use href="#N54" x="597" y="185.6"/><use href="#C46" x="602.9" y="196"/><use href="#C46" x="567.6" y="216.8"/><use href="#C46" x="567.6" y="175.2"/><use href="#C46" x="610.7" y="196"/><use href="#C46" x="618.5" y="196"/><use href="#C46" x="625.3" y="196"/><use href="#N54" x="507.9" y="322.2"/><use href="#C46" x="502.1" y="332.6"/><use href="#C46" x="502.1" y="311.8"/><use href="#C46" x="519.7" y="322.2"/><use href="#N54" x="507.9" y="343"/><use href="#N54" x="490.3" y="332.6"/><use href="#N54" x="490.3" y="311.8"/><use href="#N54" x="507.9" y="301.4"/><use href="#N54" x="525.6" y="311.8"/><use href="#N54" x="525.6" y="332.6"/><use href="#C46" x="519.7" y="343"/><use href="#C46" x="484.4" y="322.2"/><use href="#C46" x="519.7" y="301.4"/><use href="#C46" x="523.6" y="349.9"/><use href="#C46" x="527.5" y="356.7"/><use href="#C46" x="530.9" y="362.7"/><use href="#N54" x="365.1" y="322.2"/><use href="#C46" x="353.3" y="322.2"/><use href="#C46" x="370.9" y="311.8"/><use href="#C46" x="370.9" y="332.6"/><use href="#N54" x="347.4" y="332.6"/><use href="#N54" x="347.4" y="311.8"/><use href="#N54" x="365.1" y="301.4"/><use href="#N54" x="382.7" y="311.8"/><use href="#N54" x="382.7" y="332.6"/><use href="#N54" x="365.1" y="343"/><use href="#C46" x="353.3" y="343"/><use href="#C46" x="353.3" y="301.4"/><use href="#C46" x="388.6" y="322.2"/><use href="#C46" x="349.4" y="349.9"/><use href="#C46" x="345.5" y="356.7"/><use href="#C46" x="342.1" y="362.7"/><use href="#N54" x="293.6" y="196"/><use href="#C46" x="287.7" y="185.6"/><use href="#C46" x="305.4" y="196"/><use href="#C46" x="287.7" y="206.4"/><use href="#N54" x="276" y="185.6"/><use href="#N54" x="293.6" y="175.2"/><use href="#N54" x="311.3" y="185.6"/><use href="#N54" x="311.3" y="206.4"/><use href="#N54" x="293.6" y="216.8"/><use href="#N54" x="276" y="206.4"/><use href="#C46" x="270.1" y="196"/><use href="#C46" x="305.4" y="175.2"/><use href="#C46" x="305.4" y="216.8"/><use href="#C46" x="262.3" y="196"/><use href="#C46" x="254.5" y="196"/><use href="#C46" x="247.7" y="196"/><use href="#N54" x="365.1" y="69.8"/><use href="#C46" x="370.9" y="59.4"/><use href="#C46" x="370.9" y="80.2"/><use href="#C46" x="353.3" y="69.8"/><use href="#N54" x="365.1" y="49"/><use href="#N54" x="382.7" y="59.4"/><use href="#N54" x="382.7" y="80.2"/><use href="#N54" x="365.1" y="90.6"/><use href="#N54" x="347.4" y="80.2"/><use href="#N54" x="347.4" y="59.4"/><use href="#C46" x="353.3" y="49"/><use href="#C46" x="388.6" y="69.8"/><use href="#C46" x="353.3" y="90.6"/><use href="#C46" x="349.4" y="42.1"/><use href="#C46" x="345.5" y="35.3"/><use href="#C46" x="342.1" y="29.3"/><use href="#N54" x="507.9" y="69.8"/><use href="#C46" x="519.7" y="69.8"/><use href="#C46" x="502.1" y="80.2"/><use href="#C46" x="502.1" y="59.4"/><use href="#N54" x="525.6" y="59.4"/><use href="#N54" x="525.6" y="80.2"/><use href="#N54" x="507.9" y="90.6"/><use href="#N54" x="490.3" y="80.2"/><use href="#N54" x="490.3" y="59.4"/><use href="#N54" x="507.9" y="49"/><use href="#C46" x="519.7" y="49"/><use href="#C46" x="519.7" y="90.6"/><use href="#C46" x="484.4" y="69.8"/><use href="#C46" x="523.6" y="42.1"/><use href="#C46" x="527.5" y="35.3"/><use href="#C46" x="530.9" y="29.3"/><use href="#C46" x="548.8" y="250.1"/><use href="#C46" x="553.9" y="259.1"/><use href="#C46" x="548.8" y="268.1"/><use href="#C46" x="538.6" y="268.1"/><use href="#C46" x="533.5" y="259.1"/><use href="#C46" x="538.6" y="250.1"/><use href="#C46" x="561.3" y="227.9"/><use href="#C46" x="555.1" y="239"/><use href="#C46" x="526" y="290.3"/><use href="#C46" x="532.3" y="279.2"/><use href="#S49" x="522.4" y="246.6"/><use href="#N54" x="531.7" y="242.4"/><use href="#N54" x="523.5" y="256.9"/><use href="#C46" x="446.7" y="322.2"/><use href="#C46" x="441.6" y="331.2"/><use href="#C46" x="431.4" y="331.2"/><use href="#C46" x="426.3" y="322.2"/><use href="#C46" x="431.4" y="313.2"/><use href="#C46" x="441.6" y="313.2"/><use href="#C46" x="471.8" y="322.2"/><use href="#C46" x="459.3" y="322.2"/><use href="#C46" x="401.2" y="322.2"/><use href="#C46" x="413.7" y="322.2"/><use href="#S49" x="436.5" y="347.2"/><use href="#N54" x="428.2" y="341.1"/><use href="#N54" x="444.8" y="341.1"/><use href="#C46" x="334.4" y="268.1"/><use href="#C46" x="324.2" y="268.1"/><use href="#C46" x="319.1" y="259.1"/><use href="#C46" x="324.2" y="250.1"/><use href="#C46" x="334.4" y="250.1"/><use href="#C46" x="339.5" y="259.1"/><use href="#C46" x="347" y="290.3"/><use href="#C46" x="340.7" y="279.2"/><use href="#C46" x="311.7" y="227.9"/><use href="#C46" x="317.9" y="239"/><use href="#S49" x="350.6" y="246.6"/><use href="#N54" x="349.5" y="256.9"/><use href="#N54" x="341.3" y="242.4"/><use href="#C46" x="324.2" y="141.9"/><use href="#C46" x="319.1" y="132.9"/><use href="#C46" x="324.2" y="123.9"/><use href="#C46" x="334.4" y="123.9"/><use href="#C46" x="339.5" y="132.9"/><use href="#C46" x="334.4" y="141.9"/><use href="#C46" x="311.7" y="164.1"/><use href="#C46" x="317.9" y="153"/><use href="#C46" x="347" y="101.7"/><use href="#C46" x="340.7" y="112.8"/><use href="#S49" x="308.1" y="120.4"/><use href="#N54" x="317.4" y="116.1"/><use href="#N54" x="309.1" y="130.7"/><use href="#C46" x="426.3" y="69.8"/><use href="#C46" x="431.4" y="60.8"/><use href="#C46" x="441.6" y="60.8"/><use href="#C46" x="446.7" y="69.8"/><use href="#C46" x="441.6" y="78.8"/><use href="#C46" x="431.4" y="78.8"/><use href="#C46" x="401.2" y="69.8"/><use href="#C46" x="413.7" y="69.8"/><use href="#C46" x="471.8" y="69.8"/><use href="#C46" x="459.3" y="69.8"/><use href="#S49" x="436.5" y="94.8"/><use href="#N54" x="428.2" y="88.7"/><use href="#N54" x="444.8" y="88.7"/><use href="#C46" x="538.6" y="123.9"/><use href="#C46" x="548.8" y="123.9"/><use href="#C46" x="553.9" y="132.9"/><use href="#C46" x="548.8" y="141.9"/><use href="#C46" x="538.6" y="141.9"/><use href="#C46" x="533.5" y="132.9"/><use href="#C46" x="526" y="101.7"/><use href="#C46" x="532.3" y="112.8"/><use href="#C46" x="561.3" y="164.1"/><use href="#C46" x="555.1" y="153"/><use href="#S49" x="564.9" y="120.4"/><use href="#N54" x="563.9" y="130.7"/><use href="#N54" x="555.6" y="116.1"/><path d="M583.5 196L589.5 206.7M583.5 196L571.4 196M583.5 196L589.5 185.3M607.7 196L601.6 206.7M607.7 196L601.6 185.3M601.6 206.7L589.5 206.7M601.6 185.3L589.5 185.3M571.4 217.4L565.4 206.7M571.4 217.4L583.5 217.4M565.4 206.7L571.4 196M583.5 217.4L589.5 206.7M571.4 174.6L583.5 174.6M571.4 174.6L565.4 185.3M583.5 174.6L589.5 185.3M565.4 185.3L571.4 196M607.7 196L615.7 196M615.7 196L623.7 196M623.7 196L630.7 196M510 325.9L503.9 336.5M510 325.9L503.9 315.2M510 325.9L522.1 325.9M522.1 347.2L510 347.2M522.1 347.2L528.1 336.5M510 347.2L503.9 336.5M528.1 336.5L522.1 325.9M485.8 325.9L491.9 315.2M485.8 325.9L491.9 336.5M491.9 315.2L503.9 315.2M491.9 336.5L503.9 336.5M522.1 304.5L528.1 315.2M522.1 304.5L510 304.5M528.1 315.2L522.1 325.9M510 304.5L503.9 315.2M522.1 347.2L526.1 354.3M526.1 354.3L530.1 361.4M530.1 361.4L533.6 367.5M363 325.9L350.9 325.9M363 325.9L369.1 315.2M363 325.9L369.1 336.5M350.9 347.2L344.9 336.5M350.9 347.2L363 347.2M344.9 336.5L350.9 325.9M363 347.2L369.1 336.5M350.9 304.5L363 304.5M350.9 304.5L344.9 315.2M363 304.5L369.1 315.2M344.9 315.2L350.9 325.9M387.2 325.9L381.1 336.5M387.2 325.9L381.1 315.2M381.1 336.5L369.1 336.5M381.1 315.2L369.1 315.2M350.9 347.2L346.9 354.3M346.9 354.3L342.9 361.4M342.9 361.4L339.4 367.5M289.5 196L283.4 185.3M289.5 196L301.6 196M289.5 196L283.4 206.7M265.3 196L271.4 185.3M265.3 196L271.4 206.7M271.4 185.3L283.4 185.3M271.4 206.7L283.4 206.7M301.6 174.6L307.6 185.3M301.6 174.6L289.5 174.6M307.6 185.3L301.6 196M289.5 174.6L283.4 185.3M301.6 217.4L289.5 217.4M301.6 217.4L307.6 206.7M289.5 217.4L283.4 206.7M307.6 206.7L301.6 196M265.3 196L257.3 196M257.3 196L249.3 196M249.3 196L242.3 196M363 66.1L369 55.5M363 66.1L369 76.8M363 66.1L350.9 66.1M350.9 44.8L363 44.8M350.9 44.8L344.8 55.5M363 44.8L369 55.5M344.8 55.5L350.9 66.1M387.2 66.1L381.1 76.8M387.2 66.1L381.1 55.5M381.1 76.8L369 76.8M381.1 55.5L369 55.5M350.9 87.5L344.8 76.8M350.9 87.5L363 87.5M344.8 76.8L350.9 66.1M363 87.5L369 76.8M350.9 44.8L346.9 37.7M346.9 37.7L342.9 30.6M342.9 30.6L339.4 24.5M510 66.1L522.1 66.1M510 66.1L503.9 76.8M510 66.1L503.9 55.5M522.1 44.8L528.1 55.5M522.1 44.8L510 44.8M528.1 55.5L522.1 66.1M510 44.8L503.9 55.5M522.1 87.5L510 87.5M522.1 87.5L528.1 76.8M510 87.5L503.9 76.8M528.1 76.8L522.1 66.1M485.8 66.1L491.8 55.5M485.8 66.1L491.9 76.8M491.8 55.5L503.9 55.5M491.9 76.8L503.9 76.8M522.1 44.8L526.1 37.7M526.1 37.7L530.1 30.6M530.1 30.6L533.6 24.5M552 251.7L557.2 260.9M557.2 260.9L552 270.2M552 270.2L541.5 270.2M541.5 270.2L536.2 260.9M536.2 260.9L541.5 251.7M541.5 251.7L552 251.7M571.4 217.4L564.9 228.8M564.9 228.8L558.5 240.2M558.5 240.2L552 251.7M522.1 304.5L528.6 293.1M528.6 293.1L535 281.6M535 281.6L541.5 270.2M541.5 251.7L534.5 243.7M534.5 243.7L524.9 248M536.2 260.9L526 258.7M526 258.7L524.9 248M447 325.9L441.8 335.1M441.8 335.1L431.2 335.1M431.2 335.1L426 325.9M426 325.9L431.2 316.6M431.2 316.6L441.8 316.6M441.8 316.6L447 325.9M485.8 325.9L472.9 325.9M472.9 325.9L459.9 325.9M459.9 325.9L447 325.9M387.2 325.9L400.1 325.9M400.1 325.9L413.1 325.9M413.1 325.9L426 325.9M431.2 335.1L428 345.3M428 345.3L436.5 351.6M441.8 335.1L445 345.3M445 345.3L436.5 351.6M331.5 270.2L321 270.2M321 270.2L315.8 260.9M315.8 260.9L321 251.7M321 251.7L331.5 251.7M331.5 251.7L336.8 260.9M336.8 260.9L331.5 270.2M350.9 304.5L344.4 293.1M344.4 293.1L338 281.6M338 281.6L331.5 270.2M301.6 217.4L308.1 228.8M308.1 228.8L314.5 240.2M314.5 240.2L321 251.7M336.8 260.9L347 258.7M347 258.7L348.1 248M331.5 251.7L338.5 243.7M338.5 243.7L348.1 248M321 140.3L315.8 131.1M315.8 131.1L321 121.8M321 121.8L331.5 121.8M331.5 121.8L336.8 131.1M336.8 131.1L331.5 140.3M331.5 140.3L321 140.3M301.6 174.6L308.1 163.2M308.1 163.2L314.5 151.8M314.5 151.8L321 140.3M350.9 87.5L344.4 98.9M344.4 98.9L338 110.4M338 110.4L331.5 121.8M321 121.8L314 113.8M314 113.8L304.4 118.2M315.8 131.1L305.5 128.8M305.5 128.8L304.4 118.2M426 66.1L431.2 56.9M431.2 56.9L441.8 56.9M441.8 56.9L447 66.1M447 66.1L441.8 75.4M441.8 75.4L431.2 75.4M431.2 75.4L426 66.1M387.2 66.1L400.1 66.1M400.1 66.1L413.1 66.1M413.1 66.1L426 66.1M485.8 66.1L472.9 66.1M472.9 66.1L459.9 66.1M459.9 66.1L447 66.1M431.2 75.4L428 85.6M428 85.6L436.5 91.9M441.8 75.4L445 85.6M445 85.6L436.5 91.9M541.5 121.8L552 121.8M552 121.8L557.2 131.1M557.2 131.1L552 140.3M552 140.3L541.5 140.3M541.5 140.3L536.2 131.1M536.2 131.1L541.5 121.8M522.1 87.5L528.6 98.9M528.6 98.9L535 110.4M535 110.4L541.5 121.8M571.4 174.6L564.9 163.2M564.9 163.2L558.5 151.8M558.5 151.8L552 140.3M557.2 131.1L567.5 128.8M567.5 128.8L568.6 118.2M552 121.8L559 113.8M559 113.8L568.6 118.2" stroke="#7c7c7c" stroke-width="4.0" stroke-linecap="round" fill="none"/><use href="#N54" x="583.5" y="196"/><use href="#C46" x="589.5" y="206.7"/><use href="#C46" x="571.4" y="196"/><use href="#C46" x="589.5" y="185.3"/><use href="#N54" x="601.6" y="206.7"/><use href="#N54" x="583.5" y="217.4"/><use href="#N54" x="565.4" y="206.7"/><use href="#N54" x="565.4" y="185.3"/><use href="#N54" x="583.5" y="174.6"/><use href="#N54" x="601.6" y="185.3"/><use href="#C46" x="607.7" y="196"/><use href="#C46" x="571.4" y="217.4"/><use href="#C46" x="571.4" y="174.6"/><use href="#C46" x="615.7" y="196"/><use href="#C46" x="623.7" y="196"/><use href="#C46" x="630.7" y="196"/><use href="#N54" x="510" y="325.9"/><use href="#C46" x="503.9" y="336.5"/><use href="#C46" x="503.9" y="315.2"/><use href="#C46" x="522.1" y="325.9"/><use href="#N54" x="510" y="347.2"/><use href="#N54" x="491.9" y="336.5"/><use href="#N54" x="491.9" y="315.2"/><use href="#N54" x="510" y="304.5"/><use href="#N54" x="528.1" y="315.2"/><use href="#N54" x="528.1" y="336.5"/><use href="#C46" x="522.1" y="347.2"/><use href="#C46" x="485.8" y="325.9"/><use href="#C46" x="522.1" y="304.5"/><use href="#C46" x="526.1" y="354.3"/><use href="#C46" x="530.1" y="361.4"/><use href="#C46" x="533.6" y="367.5"/><use href="#N54" x="363" y="325.9"/><use href="#C46" x="350.9" y="325.9"/><use href="#C46" x="369.1" y="315.2"/><use href="#C46" x="369.1" y="336.5"/><use href="#N54" x="344.9" y="336.5"/><use href="#N54" x="344.9" y="315.2"/><use href="#N54" x="363" y="304.5"/><use href="#N54" x="381.1" y="315.2"/><use href="#N54" x="381.1" y="336.5"/><use href="#N54" x="363" y="347.2"/><use href="#C46" x="350.9" y="347.2"/><use href="#C46" x="350.9" y="304.5"/><use href="#C46" x="387.2" y="325.9"/><use href="#C46" x="346.9" y="354.3"/><use href="#C46" x="342.9" y="361.4"/><use href="#C46" x="339.4" y="367.5"/><use href="#N54" x="289.5" y="196"/><use href="#C46" x="283.4" y="185.3"/><use href="#C46" x="301.6" y="196"/><use href="#C46" x="283.4" y="206.7"/><use href="#N54" x="271.4" y="185.3"/><use href="#N54" x="289.5" y="174.6"/><use href="#N54" x="307.6" y="185.3"/><use href="#N54" x="307.6" y="206.7"/><use href="#N54" x="289.5" y="217.4"/><use href="#N54" x="271.4" y="206.7"/><use href="#C46" x="265.3" y="196"/><use href="#C46" x="301.6" y="174.6"/><use href="#C46" x="301.6" y="217.4"/><use href="#C46" x="257.3" y="196"/><use href="#C46" x="249.3" y="196"/><use href="#C46" x="242.3" y="196"/><use href="#N54" x="363" y="66.1"/><use href="#C46" x="369" y="55.5"/><use href="#C46" x="369" y="76.8"/><use href="#C46" x="350.9" y="66.1"/><use href="#N54" x="363" y="44.8"/><use href="#N54" x="381.1" y="55.5"/><use href="#N54" x="381.1" y="76.8"/><use href="#N54" x="363" y="87.5"/><use href="#N54" x="344.8" y="76.8"/><use href="#N54" x="344.8" y="55.5"/><use href="#C46" x="350.9" y="44.8"/><use href="#C46" x="387.2" y="66.1"/><use href="#C46" x="350.9" y="87.5"/><use href="#C46" x="346.9" y="37.7"/><use href="#C46" x="342.9" y="30.6"/><use href="#C46" x="339.4" y="24.5"/><use href="#N54" x="510" y="66.1"/><use href="#C46" x="522.1" y="66.1"/><use href="#C46" x="503.9" y="76.8"/><use href="#C46" x="503.9" y="55.5"/><use href="#N54" x="528.1" y="55.5"/><use href="#N54" x="528.1" y="76.8"/><use href="#N54" x="510" y="87.5"/><use href="#N54" x="491.9" y="76.8"/><use href="#N54" x="491.8" y="55.5"/><use href="#N54" x="510" y="44.8"/><use href="#C46" x="522.1" y="44.8"/><use href="#C46" x="522.1" y="87.5"/><use href="#C46" x="485.8" y="66.1"/><use href="#C46" x="526.1" y="37.7"/><use href="#C46" x="530.1" y="30.6"/><use href="#C46" x="533.6" y="24.5"/><use href="#C46" x="552" y="251.7"/><use href="#C46" x="557.2" y="260.9"/><use href="#C46" x="552" y="270.2"/><use href="#C46" x="541.5" y="270.2"/><use href="#C46" x="536.2" y="260.9"/><use href="#C46" x="541.5" y="251.7"/><use href="#C46" x="564.9" y="228.8"/><use href="#C46" x="558.5" y="240.2"/><use href="#C46" x="528.6" y="293.1"/><use href="#C46" x="535" y="281.6"/><use href="#S49" x="524.9" y="248"/><use href="#N54" x="534.5" y="243.7"/><use href="#N54" x="526" y="258.7"/><use href="#C46" x="447" y="325.9"/><use href="#C46" x="441.8" y="335.1"/><use href="#C46" x="431.2" y="335.1"/><use href="#C46" x="426" y="325.9"/><use href="#C46" x="431.2" y="316.6"/><use href="#C46" x="441.8" y="316.6"/><use href="#C46" x="472.9" y="325.9"/><use href="#C46" x="459.9" y="325.9"/><use href="#C46" x="400.1" y="325.9"/><use href="#C46" x="413.1" y="325.9"/><use href="#S49" x="436.5" y="351.6"/><use href="#N54" x="428" y="345.3"/><use href="#N54" x="445" y="345.3"/><use href="#C46" x="331.5" y="270.2"/><use href="#C46" x="321" y="270.2"/><use href="#C46" x="315.8" y="260.9"/><use href="#C46" x="321" y="251.7"/><use href="#C46" x="331.5" y="251.7"/><use href="#C46" x="336.8" y="260.9"/><use href="#C46" x="344.4" y="293.1"/><use href="#C46" x="338" y="281.6"/><use href="#C46" x="308.1" y="228.8"/><use href="#C46" x="314.5" y="240.2"/><use href="#S49" x="348.1" y="248"/><use href="#N54" x="347" y="258.7"/><use href="#N54" x="338.5" y="243.7"/><use href="#C46" x="321" y="140.3"/><use href="#C46" x="315.8" y="131.1"/><use href="#C46" x="321" y="121.8"/><use href="#C46" x="331.5" y="121.8"/><use href="#C46" x="336.8" y="131.1"/><use href="#C46" x="331.5" y="140.3"/><use href="#C46" x="308.1" y="163.2"/><use href="#C46" x="314.5" y="151.8"/><use href="#C46" x="344.4" y="98.9"/><use href="#C46" x="338" y="110.4"/><use href="#S49" x="304.4" y="118.2"/><use href="#N54" x="314" y="113.8"/><use href="#N54" x="305.5" y="128.8"/><use href="#C46" x="426" y="66.1"/><use href="#C46" x="431.2" y="56.9"/><use href="#C46" x="441.8" y="56.9"/><use href="#C46" x="447" y="66.1"/><use href="#C46" x="441.8" y="75.4"/><use href="#C46" x="431.2" y="75.4"/><use href="#C46" x="400.1" y="66.1"/><use href="#C46" x="413.1" y="66.1"/><use href="#C46" x="472.9" y="66.1"/><use href="#C46" x="459.9" y="66.1"/><use href="#S49" x="436.5" y="91.9"/><use href="#N54" x="428" y="85.6"/><use href="#N54" x="445" y="85.6"/><use href="#C46" x="541.5" y="121.8"/><use href="#C46" x="552" y="121.8"/><use href="#C46" x="557.2" y="131.1"/><use href="#C46" x="552" y="140.3"/><use href="#C46" x="541.5" y="140.3"/><use href="#C46" x="536.2" y="131.1"/><use href="#C46" x="528.6" y="98.9"/><use href="#C46" x="535" y="110.4"/><use href="#C46" x="564.9" y="163.2"/><use href="#C46" x="558.5" y="151.8"/><use href="#S49" x="568.6" y="118.2"/><use href="#N54" x="567.5" y="128.8"/><use href="#N54" x="559" y="113.8"/></g>
<defs><clipPath id="clipUR"><rect x="800" y="430" width="168" height="160"/></clipPath></defs>
<g><path d="M727.5 542.9L727.4 548.6M727.5 542.9L722.6 539.9M727.5 542.9L732.6 540.1M737.4 548.8L732.3 551.6M737.4 548.8L737.5 543.1M732.3 551.6L727.4 548.6M737.5 543.1L732.6 540.1M717.5 548.4L717.6 542.7M717.5 548.4L722.4 551.4M717.6 542.7L722.6 539.9M722.4 551.4L727.4 548.6M727.8 531.4L732.7 534.4M727.8 531.4L722.7 534.2M732.7 534.4L732.6 540.1M722.7 534.2L722.6 539.9M792.8 582.3L787.9 585.1M792.8 582.3L792.8 576.5M792.8 582.3L797.8 585.1M792.8 593.7L787.9 590.9M792.8 593.7L797.8 590.9M787.9 590.9L787.9 585.1M797.8 590.9L797.8 585.1M782.9 576.5L787.9 573.6M782.9 576.5L782.9 582.3M787.9 573.6L792.8 576.5M782.9 582.3L787.9 585.1M802.8 576.5L802.8 582.3M802.8 576.5L797.8 573.6M802.8 582.3L797.8 585.1M797.8 573.6L792.8 576.5M792.8 658.8L787.8 655.9M792.8 658.8L797.8 655.9M792.8 658.8L792.9 664.5M782.9 664.6L782.9 658.8M782.9 664.6L787.9 667.4M782.9 658.8L787.8 655.9M787.9 667.4L792.9 664.5M792.8 647.3L797.8 650.1M792.8 647.3L787.8 650.2M797.8 650.1L797.8 655.9M787.8 650.2L787.8 655.9M802.8 664.4L797.9 667.3M802.8 664.4L802.8 658.7M797.9 667.3L792.9 664.5M802.8 658.7L797.8 655.9M725.2 698.3L725.2 692.6M725.2 698.3L730.2 701.2M725.2 698.3L720.3 701.3M715.2 692.7L720.2 689.8M715.2 692.7L715.3 698.4M720.2 689.8L725.2 692.6M715.3 698.4L720.3 701.3M735.1 692.5L735.2 698.3M735.1 692.5L730.1 689.7M735.2 698.3L730.2 701.2M730.1 689.7L725.2 692.6M725.3 709.8L720.3 707M725.3 709.8L730.3 706.9M720.3 707L720.3 701.3M730.3 706.9L730.2 701.2M657.6 660.1L662.6 657.2M657.6 660.1L657.6 665.8M657.6 660.1L652.6 657.2M657.6 648.6L662.6 651.5M657.6 648.6L652.6 651.5M662.6 651.5L662.6 657.2M652.6 651.5L652.6 657.2M667.6 665.8L662.6 668.7M667.6 665.8L667.6 660.1M662.6 668.7L657.6 665.8M667.6 660.1L662.6 657.2M647.7 665.8L647.7 660.1M647.7 665.8L652.6 668.7M647.7 660.1L652.6 657.2M652.6 668.7L657.6 665.8M657.6 582.9L662.6 585.8M657.6 582.9L652.6 585.8M657.6 582.9L657.6 577.2M667.6 577.2L667.6 582.9M667.6 577.2L662.6 574.3M667.6 582.9L662.6 585.8M662.6 574.3L657.6 577.2M657.6 594.4L652.6 591.5M657.6 594.4L662.6 591.5M652.6 591.5L652.6 585.8M662.6 591.5L662.6 585.8M647.7 577.1L652.7 574.3M647.7 577.1L647.7 582.9M652.7 574.3L657.6 577.2M647.7 582.9L652.6 585.8M755.5 559.8L760.3 557.2M760.3 557.2L764.9 560.1M764.9 560.1L764.7 565.5M764.7 565.5L760 568.1M760 568.1L755.4 565.3M755.4 565.3L755.5 559.8M764.9 560.1L769 556.5M769 556.5L766.9 551.5M760.3 557.2L761.5 552M761.5 552L766.9 551.5M737.4 548.8L743.4 552.5M743.4 552.5L749.5 556.2M749.5 556.2L755.5 559.8M782.9 576.5L776.8 572.8M776.8 572.8L770.8 569.1M770.8 569.1L764.7 565.5M792.8 615.1L797.5 617.8M797.5 617.8L797.5 623.2M797.5 623.2L792.8 625.9M792.8 625.9L788.1 623.2M788.1 623.2L788.1 617.8M788.1 617.8L792.8 615.1M788.1 617.8L783 616.1M783 616.1L779.8 620.5M788.1 623.2L783 624.9M783 624.9L779.8 620.5M792.8 593.7L792.8 600.9M792.8 600.9L792.8 608M792.8 608L792.8 615.1M792.8 647.3L792.8 640.2M792.8 640.2L792.8 633M792.8 633L792.8 625.9M763.7 675.8L763.7 681.2M763.7 681.2L759.1 684M759.1 684L754.4 681.3M754.4 681.3L754.3 675.9M754.3 675.9L759 673.1M759 673.1L763.7 675.8M759.1 684L760.2 689.2M760.2 689.2L765.6 689.8M763.7 681.2L767.8 684.8M767.8 684.8L765.6 689.8M782.9 664.6L776.5 668.3M776.5 668.3L770.1 672.1M770.1 672.1L763.7 675.8M735.1 692.5L741.5 688.8M741.5 688.8L747.9 685M747.9 685L754.4 681.3M696.1 681.9L691.5 684.7M691.5 684.7L686.7 682M686.7 682L686.7 676.6M686.7 676.6L691.3 673.9M691.3 673.9L696 676.5M696 676.5L696.1 681.9M696 676.5L700 672.8M700 672.8L697.8 667.9M691.3 673.9L692.4 668.6M692.4 668.6L697.8 667.9M715.2 692.7L708.9 689.1M708.9 689.1L702.5 685.5M702.5 685.5L696.1 681.9M667.6 665.8L673.9 669.4M673.9 669.4L680.3 673M680.3 673L686.7 676.6M657.6 626.9L652.9 624.2M652.9 624.2L652.9 618.8M652.9 618.8L657.6 616.1M657.6 616.1L662.3 618.8M662.3 618.8L662.3 624.2M662.3 624.2L657.6 626.9M652.9 618.8L647.8 617.1M647.8 617.1L644.6 621.5M652.9 624.2L647.8 625.9M647.8 625.9L644.6 621.5M657.6 648.6L657.6 641.4M657.6 641.4L657.6 634.1M657.6 634.1L657.6 626.9M657.6 594.4L657.6 601.6M657.6 601.6L657.6 608.9M657.6 608.9L657.6 616.1M687.8 565.5L687.8 560.1M687.8 560.1L692.5 557.4M692.5 557.4L697.2 560.1M697.2 560.1L697.2 565.5M697.2 565.5L692.5 568.2M692.5 568.2L687.8 565.5M692.5 568.2L693.6 573.5M693.6 573.5L699 574.1M697.2 565.5L701.2 569.1M701.2 569.1L699 574.1M667.6 577.2L674.3 573.3M674.3 573.3L681.1 569.4M681.1 569.4L687.8 565.5M717.5 548.4L710.7 552.3M710.7 552.3L704 556.2M704 556.2L697.2 560.1M727.8 531.4L727.5 525.5M727.5 525.5L727.5 519.6M727.5 519.6L727.5 513.7M727.5 513.7L723.2 507.1M723.2 507.1L717 509.7M717 509.7L713.4 504.3M727.5 513.7L734.1 507.9M725.3 709.8L725.2 716.2M725.2 716.2L725.2 722.8M725.2 722.8L725.2 729.3M725.2 729.3L718.3 735.1M718.3 735.1L713.7 732.4M713.7 732.4L709.5 737.7M725.2 729.3L730 735.1M647.7 577.1L646.1 569.4M646.1 569.4L641.1 564.4M641.1 564.4L637.8 559.8M637.8 559.8L635.4 553.4M635.4 553.4L632.5 546.6M637.8 559.8L631.2 561.1M631.2 561.1L625.3 565.9M802.8 664.4L807.3 666M807.3 666L811.3 668.7M811.3 668.7L815.3 670M815.3 670L821.2 668.3M821.2 668.3L826.8 667.8M826.8 667.8L832.9 666.9M815.3 670L817.2 676.6M817.2 676.6L818.9 682.5M858.1 547.6L853.4 544.7M858.1 547.6L863 545M858.1 547.6L857.9 553.2M848.3 552.8L848.5 547.3M848.3 552.8L853 555.8M848.5 547.3L853.4 544.7M853 555.8L857.9 553.2M858.5 536.5L863.2 539.5M858.5 536.5L853.6 539.1M863.2 539.5L863 545M853.6 539.1L853.4 544.7M867.5 553.5L862.6 556.1M867.5 553.5L867.7 548M862.6 556.1L857.9 553.2M867.7 548L863 545M830.4 562.2L830.1 567.6M830.1 567.6L825.3 570.1M825.3 570.1L820.8 567.2M820.8 567.2L821 561.8M821 561.8L825.8 559.3M825.8 559.3L830.4 562.2M825.3 570.1L826.2 575.4M826.2 575.4L831.6 576.2M830.1 567.6L834 571.4M834 571.4L831.6 576.2M848.3 552.8L842.4 555.9M842.4 555.9L836.4 559M836.4 559L830.4 562.2M802.8 576.5L808.8 573.4M808.8 573.4L814.8 570.3M814.8 570.3L820.8 567.2M858.5 536.5L858.1 530.1M858.1 530.1L858.1 524.2M858.1 524.2L858.1 518.3M858.1 518.3L852.2 513M852.2 513L847.6 514.8M847.6 514.8L844.2 509M858.1 518.3L863.4 513M867.5 553.5L875 556.4M875 556.4L879.9 559.6M879.9 559.6L885.8 561.8M885.8 561.8L890.7 555.6M890.7 555.6L897.6 554.8M885.8 561.8L885.2 567.7M885.2 567.7L884.5 573M867.5 553.5L877.9 563.8M578.5 697.7L583.2 700.9M578.5 697.7L573.3 700.1M578.5 697.7L578.9 692M588.8 692.8L588.4 698.5M588.8 692.8L584.1 689.5M588.4 698.5L583.2 700.9M584.1 689.5L578.9 692M577.5 709.1L572.8 705.9M577.5 709.1L582.7 706.7M572.8 705.9L573.3 700.1M582.7 706.7L583.2 700.9M569 691.2L574.2 688.7M569 691.2L568.5 696.9M574.2 688.7L578.9 692M568.5 696.9L573.3 700.1M613.3 681.5L613.8 676.2M613.8 676.2L618.8 673.9M618.8 673.9L623.2 677M623.2 677L622.7 682.4M622.7 682.4L617.7 684.7M617.7 684.7L613.3 681.5M617.7 684.7L618.4 690.1M618.4 690.1L623.7 691.1M622.7 682.4L626.3 686.4M626.3 686.4L623.7 691.1M588.8 692.8L597 689M597 689L605.2 685.3M605.2 685.3L613.3 681.5M647.7 665.8L639.5 669.6M639.5 669.6L631.3 673.3M631.3 673.3L623.2 677M569 691.2L566.5 683.5M566.5 683.5L563.9 675.9M563.9 675.9L562.6 670.1M562.6 670.1L559.8 664.4M563.9 675.9L557.7 675.1M557.7 675.1L553.4 680.9M577.5 709.1L577 716.9M577 716.9L576.5 724.7M576.5 724.7L574.8 732.3M574.8 732.3L570.5 739.4M576.5 724.7L582.4 731.3M582.4 731.3L581.1 737.9" stroke="#6a6a6a" stroke-width="2.6" stroke-linecap="round" fill="none"/><use href="#C27" x="757.9" y="558.5"/><use href="#C27" x="762.6" y="558.7"/><use href="#C27" x="764.8" y="562.8"/><use href="#C27" x="762.4" y="566.8"/><use href="#C27" x="757.7" y="566.7"/><use href="#C27" x="755.4" y="562.5"/><use href="#C27" x="740.4" y="550.6"/><use href="#C27" x="746.4" y="554.3"/><use href="#C27" x="752.5" y="558"/><use href="#C27" x="779.9" y="574.7"/><use href="#C27" x="773.8" y="571"/><use href="#C27" x="767.8" y="567.3"/><use href="#C27" x="795.1" y="616.5"/><use href="#C27" x="797.5" y="620.5"/><use href="#C27" x="795.1" y="624.6"/><use href="#C27" x="790.5" y="624.6"/><use href="#C27" x="788.1" y="620.5"/><use href="#C27" x="790.5" y="616.5"/><use href="#C27" x="792.8" y="597.3"/><use href="#C27" x="792.8" y="604.4"/><use href="#C27" x="792.8" y="611.5"/><use href="#C27" x="792.8" y="643.7"/><use href="#C27" x="792.8" y="636.6"/><use href="#C27" x="792.8" y="629.5"/><use href="#C27" x="763.7" y="678.5"/><use href="#C27" x="761.4" y="682.6"/><use href="#C27" x="756.7" y="682.6"/><use href="#C27" x="754.3" y="678.6"/><use href="#C27" x="756.7" y="674.5"/><use href="#C27" x="761.3" y="674.5"/><use href="#C27" x="779.7" y="666.4"/><use href="#C27" x="773.3" y="670.2"/><use href="#C27" x="766.9" y="673.9"/><use href="#C27" x="738.3" y="690.6"/><use href="#C27" x="744.7" y="686.9"/><use href="#C27" x="751.1" y="683.1"/><use href="#C27" x="693.8" y="683.3"/><use href="#C27" x="689.1" y="683.3"/><use href="#C27" x="686.7" y="679.3"/><use href="#C27" x="689" y="675.2"/><use href="#C27" x="693.7" y="675.2"/><use href="#C27" x="696.1" y="679.2"/><use href="#C27" x="712" y="690.9"/><use href="#C27" x="705.7" y="687.3"/><use href="#C27" x="699.3" y="683.7"/><use href="#C27" x="670.7" y="667.6"/><use href="#C27" x="677.1" y="671.2"/><use href="#C27" x="683.5" y="674.8"/><use href="#C27" x="655.3" y="625.6"/><use href="#C27" x="652.9" y="621.5"/><use href="#C27" x="655.2" y="617.4"/><use href="#C27" x="659.9" y="617.4"/><use href="#C27" x="662.3" y="621.5"/><use href="#C27" x="659.9" y="625.6"/><use href="#C27" x="657.6" y="645"/><use href="#C27" x="657.6" y="637.8"/><use href="#C27" x="657.6" y="630.5"/><use href="#C27" x="657.6" y="598"/><use href="#C27" x="657.6" y="605.2"/><use href="#C27" x="657.6" y="612.5"/><use href="#C27" x="687.8" y="562.8"/><use href="#C27" x="690.2" y="558.8"/><use href="#C27" x="694.9" y="558.8"/><use href="#C27" x="697.2" y="562.8"/><use href="#C27" x="694.9" y="566.9"/><use href="#C27" x="690.2" y="566.9"/><use href="#C27" x="671" y="575.3"/><use href="#C27" x="677.7" y="571.4"/><use href="#C27" x="684.5" y="567.5"/><use href="#C27" x="714.1" y="550.4"/><use href="#C27" x="707.4" y="554.3"/><use href="#C27" x="700.6" y="558.2"/><use href="#C27" x="727.6" y="528.5"/><use href="#C27" x="727.5" y="522.6"/><use href="#C27" x="727.5" y="516.6"/><use href="#C27" x="725.4" y="510.4"/><use href="#C27" x="730.8" y="510.8"/><use href="#C27" x="725.3" y="713"/><use href="#C27" x="725.2" y="719.5"/><use href="#C27" x="725.2" y="726.1"/><use href="#C27" x="721.8" y="732.2"/><use href="#C27" x="727.6" y="732.2"/><use href="#C27" x="646.9" y="573.3"/><use href="#C27" x="643.6" y="566.9"/><use href="#C27" x="639.5" y="562.1"/><use href="#C27" x="634.5" y="560.5"/><use href="#C27" x="628.3" y="563.5"/><use href="#C27" x="818.2" y="669.2"/><use href="#C27" x="816.3" y="673.3"/><use href="#C27" x="818.1" y="679.5"/><use href="#C27" x="830.2" y="564.9"/><use href="#C27" x="827.7" y="568.8"/><use href="#C27" x="823" y="568.6"/><use href="#C27" x="820.9" y="564.5"/><use href="#C27" x="823.4" y="560.5"/><use href="#C27" x="828.1" y="560.7"/><use href="#C27" x="845.4" y="554.4"/><use href="#C27" x="839.4" y="557.5"/><use href="#C27" x="833.4" y="560.6"/><use href="#C27" x="805.8" y="575"/><use href="#C27" x="811.8" y="571.8"/><use href="#C27" x="817.8" y="568.7"/><use href="#C27" x="858.3" y="533.3"/><use href="#C27" x="858.1" y="527.2"/><use href="#C27" x="858.1" y="521.2"/><use href="#C27" x="855.2" y="515.6"/><use href="#C27" x="860.8" y="515.6"/><use href="#C27" x="871.2" y="554.9"/><use href="#C27" x="877.4" y="558"/><use href="#C27" x="882.9" y="560.7"/><use href="#C27" x="885.5" y="564.8"/><use href="#C27" x="884.9" y="570.4"/><use href="#C27" x="613.6" y="678.9"/><use href="#C27" x="616.3" y="675"/><use href="#C27" x="621" y="675.5"/><use href="#C27" x="622.9" y="679.7"/><use href="#C27" x="620.2" y="683.6"/><use href="#C27" x="615.5" y="683.1"/><use href="#C27" x="592.9" y="690.9"/><use href="#C27" x="601.1" y="687.2"/><use href="#C27" x="609.2" y="683.4"/><use href="#C27" x="643.6" y="667.7"/><use href="#C27" x="635.4" y="671.4"/><use href="#C27" x="627.3" y="675.2"/><use href="#C27" x="567.7" y="687.4"/><use href="#C27" x="565.2" y="679.7"/><use href="#C27" x="560.8" y="675.5"/><use href="#C27" x="555.5" y="678"/><use href="#C27" x="577.3" y="713"/><use href="#C27" x="576.7" y="720.8"/><use href="#C27" x="579.4" y="728"/><use href="#C27" x="581.8" y="734.6"/><use href="#N37" x="727.5" y="542.9"/><use href="#C32" x="727.4" y="548.6"/><use href="#C32" x="722.6" y="539.9"/><use href="#C32" x="732.6" y="540.1"/><use href="#N37" x="732.3" y="551.6"/><use href="#N37" x="722.4" y="551.4"/><use href="#N37" x="717.6" y="542.7"/><use href="#N37" x="722.7" y="534.2"/><use href="#N37" x="732.7" y="534.4"/><use href="#N37" x="737.5" y="543.1"/><use href="#C32" x="737.4" y="548.8"/><use href="#C32" x="717.5" y="548.4"/><use href="#C32" x="727.8" y="531.4"/><use href="#N37" x="792.8" y="582.3"/><use href="#C32" x="787.9" y="585.1"/><use href="#C32" x="792.8" y="576.5"/><use href="#C32" x="797.8" y="585.1"/><use href="#N37" x="787.9" y="590.9"/><use href="#N37" x="782.9" y="582.3"/><use href="#N37" x="787.9" y="573.6"/><use href="#N37" x="797.8" y="573.6"/><use href="#N37" x="802.8" y="582.3"/><use href="#N37" x="797.8" y="590.9"/><use href="#C32" x="792.8" y="593.7"/><use href="#C32" x="782.9" y="576.5"/><use href="#C32" x="802.8" y="576.5"/><use href="#N37" x="792.8" y="658.8"/><use href="#C32" x="787.8" y="655.9"/><use href="#C32" x="797.8" y="655.9"/><use href="#C32" x="792.9" y="664.5"/><use href="#N37" x="782.9" y="658.8"/><use href="#N37" x="787.8" y="650.2"/><use href="#N37" x="797.8" y="650.1"/><use href="#N37" x="802.8" y="658.7"/><use href="#N37" x="797.9" y="667.3"/><use href="#N37" x="787.9" y="667.4"/><use href="#C32" x="782.9" y="664.6"/><use href="#C32" x="792.8" y="647.3"/><use href="#C32" x="802.8" y="664.4"/><use href="#N37" x="725.2" y="698.3"/><use href="#C32" x="725.2" y="692.6"/><use href="#C32" x="730.2" y="701.2"/><use href="#C32" x="720.3" y="701.3"/><use href="#N37" x="720.2" y="689.8"/><use href="#N37" x="730.1" y="689.7"/><use href="#N37" x="735.2" y="698.3"/><use href="#N37" x="730.3" y="706.9"/><use href="#N37" x="720.3" y="707"/><use href="#N37" x="715.3" y="698.4"/><use href="#C32" x="715.2" y="692.7"/><use href="#C32" x="735.1" y="692.5"/><use href="#C32" x="725.3" y="709.8"/><use href="#N37" x="657.6" y="660.1"/><use href="#C32" x="662.6" y="657.2"/><use href="#C32" x="657.6" y="665.8"/><use href="#C32" x="652.6" y="657.2"/><use href="#N37" x="662.6" y="651.5"/><use href="#N37" x="667.6" y="660.1"/><use href="#N37" x="662.6" y="668.7"/><use href="#N37" x="652.6" y="668.7"/><use href="#N37" x="647.7" y="660.1"/><use href="#N37" x="652.6" y="651.5"/><use href="#C32" x="657.6" y="648.6"/><use href="#C32" x="667.6" y="665.8"/><use href="#C32" x="647.7" y="665.8"/><use href="#N37" x="657.6" y="582.9"/><use href="#C32" x="662.6" y="585.8"/><use href="#C32" x="652.6" y="585.8"/><use href="#C32" x="657.6" y="577.2"/><use href="#N37" x="667.6" y="582.9"/><use href="#N37" x="662.6" y="591.5"/><use href="#N37" x="652.6" y="591.5"/><use href="#N37" x="647.7" y="582.9"/><use href="#N37" x="652.7" y="574.3"/><use href="#N37" x="662.6" y="574.3"/><use href="#C32" x="667.6" y="577.2"/><use href="#C32" x="657.6" y="594.4"/><use href="#C32" x="647.7" y="577.1"/><use href="#C32" x="755.5" y="559.8"/><use href="#C32" x="760.3" y="557.2"/><use href="#C32" x="764.9" y="560.1"/><use href="#C32" x="764.7" y="565.5"/><use href="#C32" x="760" y="568.1"/><use href="#C32" x="755.4" y="565.3"/><use href="#S36" x="766.9" y="551.5"/><use href="#N37" x="769" y="556.5"/><use href="#N37" x="761.5" y="552"/><use href="#C32" x="743.4" y="552.5"/><use href="#C32" x="749.5" y="556.2"/><use href="#C32" x="776.8" y="572.8"/><use href="#C32" x="770.8" y="569.1"/><use href="#C32" x="792.8" y="615.1"/><use href="#C32" x="797.5" y="617.8"/><use href="#C32" x="797.5" y="623.2"/><use href="#C32" x="792.8" y="625.9"/><use href="#C32" x="788.1" y="623.2"/><use href="#C32" x="788.1" y="617.8"/><use href="#S36" x="779.8" y="620.5"/><use href="#N37" x="783" y="616.1"/><use href="#N37" x="783" y="624.9"/><use href="#C32" x="792.8" y="600.9"/><use href="#C32" x="792.8" y="608"/><use href="#C32" x="792.8" y="640.2"/><use href="#C32" x="792.8" y="633"/><use href="#C32" x="763.7" y="675.8"/><use href="#C32" x="763.7" y="681.2"/><use href="#C32" x="759.1" y="684"/><use href="#C32" x="754.4" y="681.3"/><use href="#C32" x="754.3" y="675.9"/><use href="#C32" x="759" y="673.1"/><use href="#S36" x="765.6" y="689.8"/><use href="#N37" x="760.2" y="689.2"/><use href="#N37" x="767.8" y="684.8"/><use href="#C32" x="776.5" y="668.3"/><use href="#C32" x="770.1" y="672.1"/><use href="#C32" x="741.5" y="688.8"/><use href="#C32" x="747.9" y="685"/><use href="#C32" x="696.1" y="681.9"/><use href="#C32" x="691.5" y="684.7"/><use href="#C32" x="686.7" y="682"/><use href="#C32" x="686.7" y="676.6"/><use href="#C32" x="691.3" y="673.9"/><use href="#C32" x="696" y="676.5"/><use href="#S36" x="697.8" y="667.9"/><use href="#N37" x="700" y="672.8"/><use href="#N37" x="692.4" y="668.6"/><use href="#C32" x="708.9" y="689.1"/><use href="#C32" x="702.5" y="685.5"/><use href="#C32" x="673.9" y="669.4"/><use href="#C32" x="680.3" y="673"/><use href="#C32" x="657.6" y="626.9"/><use href="#C32" x="652.9" y="624.2"/><use href="#C32" x="652.9" y="618.8"/><use href="#C32" x="657.6" y="616.1"/><use href="#C32" x="662.3" y="618.8"/><use href="#C32" x="662.3" y="624.2"/><use href="#S36" x="644.6" y="621.5"/><use href="#N37" x="647.8" y="617.1"/><use href="#N37" x="647.8" y="625.9"/><use href="#C32" x="657.6" y="641.4"/><use href="#C32" x="657.6" y="634.1"/><use href="#C32" x="657.6" y="601.6"/><use href="#C32" x="657.6" y="608.9"/><use href="#C32" x="687.8" y="565.5"/><use href="#C32" x="687.8" y="560.1"/><use href="#C32" x="692.5" y="557.4"/><use href="#C32" x="697.2" y="560.1"/><use href="#C32" x="697.2" y="565.5"/><use href="#C32" x="692.5" y="568.2"/><use href="#S36" x="699" y="574.1"/><use href="#N37" x="693.6" y="573.5"/><use href="#N37" x="701.2" y="569.1"/><use href="#C32" x="674.3" y="573.3"/><use href="#C32" x="681.1" y="569.4"/><use href="#C32" x="710.7" y="552.3"/><use href="#C32" x="704" y="556.2"/><use href="#C32" x="727.5" y="525.5"/><use href="#C32" x="727.5" y="519.6"/><use href="#C32" x="727.5" y="513.7"/><use href="#C32" x="723.2" y="507.1"/><use href="#N37" x="717" y="509.7"/><use href="#S36" x="713.4" y="504.3"/><use href="#C32" x="734.1" y="507.9"/><use href="#C32" x="725.2" y="716.2"/><use href="#C32" x="725.2" y="722.8"/><use href="#C32" x="725.2" y="729.3"/><use href="#C32" x="718.3" y="735.1"/><use href="#N37" x="713.7" y="732.4"/><use href="#S36" x="709.5" y="737.7"/><use href="#C32" x="730" y="735.1"/><use href="#C32" x="646.1" y="569.4"/><use href="#C32" x="641.1" y="564.4"/><use href="#C32" x="637.8" y="559.8"/><use href="#N37" x="635.4" y="553.4"/><use href="#S36" x="632.5" y="546.6"/><use href="#C32" x="631.2" y="561.1"/><use href="#C32" x="625.3" y="565.9"/><use href="#C32" x="807.3" y="666"/><use href="#C32" x="811.3" y="668.7"/><use href="#C32" x="815.3" y="670"/><use href="#C32" x="821.2" y="668.3"/><use href="#N37" x="826.8" y="667.8"/><use href="#S36" x="832.9" y="666.9"/><use href="#C32" x="817.2" y="676.6"/><use href="#C32" x="818.9" y="682.5"/><use href="#N37" x="858.1" y="547.6"/><use href="#C32" x="853.4" y="544.7"/><use href="#C32" x="863" y="545"/><use href="#C32" x="857.9" y="553.2"/><use href="#N37" x="848.5" y="547.3"/><use href="#N37" x="853.6" y="539.1"/><use href="#N37" x="863.2" y="539.5"/><use href="#N37" x="867.7" y="548"/><use href="#N37" x="862.6" y="556.1"/><use href="#N37" x="853" y="555.8"/><use href="#C32" x="848.3" y="552.8"/><use href="#C32" x="858.5" y="536.5"/><use href="#C32" x="867.5" y="553.5"/><use href="#C32" x="830.4" y="562.2"/><use href="#C32" x="830.1" y="567.6"/><use href="#C32" x="825.3" y="570.1"/><use href="#C32" x="820.8" y="567.2"/><use href="#C32" x="821" y="561.8"/><use href="#C32" x="825.8" y="559.3"/><use href="#S36" x="831.6" y="576.2"/><use href="#N37" x="826.2" y="575.4"/><use href="#N37" x="834" y="571.4"/><use href="#C32" x="842.4" y="555.9"/><use href="#C32" x="836.4" y="559"/><use href="#C32" x="808.8" y="573.4"/><use href="#C32" x="814.8" y="570.3"/><use href="#C32" x="858.1" y="530.1"/><use href="#C32" x="858.1" y="524.2"/><use href="#C32" x="858.1" y="518.3"/><use href="#C32" x="852.2" y="513"/><use href="#N37" x="847.6" y="514.8"/><use href="#S36" x="844.2" y="509"/><use href="#C32" x="863.4" y="513"/><use href="#C32" x="875" y="556.4"/><use href="#C32" x="879.9" y="559.6"/><use href="#C32" x="885.8" y="561.8"/><use href="#N37" x="890.7" y="555.6"/><use href="#S36" x="897.6" y="554.8"/><use href="#C32" x="885.2" y="567.7"/><use href="#C32" x="884.5" y="573"/><use href="#S36" x="877.9" y="563.8"/><use href="#N37" x="578.5" y="697.7"/><use href="#C32" x="583.2" y="700.9"/><use href="#C32" x="573.3" y="700.1"/><use href="#C32" x="578.9" y="692"/><use href="#N37" x="588.4" y="698.5"/><use href="#N37" x="582.7" y="706.7"/><use href="#N37" x="572.8" y="705.9"/><use href="#N37" x="568.5" y="696.9"/><use href="#N37" x="574.2" y="688.7"/><use href="#N37" x="584.1" y="689.5"/><use href="#C32" x="588.8" y="692.8"/><use href="#C32" x="577.5" y="709.1"/><use href="#C32" x="569" y="691.2"/><use href="#C32" x="613.3" y="681.5"/><use href="#C32" x="613.8" y="676.2"/><use href="#C32" x="618.8" y="673.9"/><use href="#C32" x="623.2" y="677"/><use href="#C32" x="622.7" y="682.4"/><use href="#C32" x="617.7" y="684.7"/><use href="#S36" x="623.7" y="691.1"/><use href="#N37" x="618.4" y="690.1"/><use href="#N37" x="626.3" y="686.4"/><use href="#C32" x="597" y="689"/><use href="#C32" x="605.2" y="685.3"/><use href="#C32" x="639.5" y="669.6"/><use href="#C32" x="631.3" y="673.3"/><use href="#C32" x="566.5" y="683.5"/><use href="#C32" x="563.9" y="675.9"/><use href="#N37" x="562.6" y="670.1"/><use href="#S36" x="559.8" y="664.4"/><use href="#C32" x="557.7" y="675.1"/><use href="#C32" x="553.4" y="680.9"/><use href="#C32" x="577" y="716.9"/><use href="#C32" x="576.5" y="724.7"/><use href="#N37" x="574.8" y="732.3"/><use href="#S36" x="570.5" y="739.4"/><use href="#C32" x="582.4" y="731.3"/><use href="#C32" x="581.1" y="737.9"/><path d="M728.3 538.1L728.2 544.2M728.3 538.1L723.1 535M728.3 538.1L733.6 535.2M738.7 544.4L733.4 547.4M738.7 544.4L738.8 538.3M733.4 547.4L728.2 544.2M738.8 538.3L733.6 535.2M717.6 544L717.8 537.9M717.6 544L722.8 547.2M717.8 537.9L723.1 535M722.8 547.2L728.2 544.2M728.5 526L733.7 529.1M728.5 526L723.2 528.9M733.7 529.1L733.6 535.2M723.2 528.9L723.1 535M797.5 579.9L792.2 582.9M797.5 579.9L797.5 573.8M797.5 579.9L802.8 582.9M797.5 592.1L792.2 589M797.5 592.1L802.8 589M792.2 589L792.2 582.9M802.8 589L802.8 582.9M787 573.8L792.2 570.8M787 573.8L787 579.9M792.2 570.8L797.5 573.8M787 579.9L792.2 582.9M808.1 573.8L808.1 579.9M808.1 573.8L802.8 570.8M808.1 579.9L802.8 582.9M802.8 570.8L797.5 573.8M797.5 661L792.2 658M797.5 661L802.8 657.9M797.5 661L797.6 667.1M787 667.2L787 661.1M787 667.2L792.3 670.2M787 661.1L792.2 658M792.3 670.2L797.6 667.1M797.4 648.8L802.7 651.9M797.4 648.8L792.2 651.9M802.7 651.9L802.8 657.9M792.2 651.9L792.2 658M808.1 667L802.8 670.1M808.1 667L808.1 660.9M802.8 670.1L797.6 667.1M808.1 660.9L802.8 657.9M725.8 703L725.8 696.9M725.8 703L731.1 706M725.8 703L720.6 706.1M715.2 697L720.5 693.9M715.2 697L715.3 703.1M720.5 693.9L725.8 696.9M715.3 703.1L720.6 706.1M736.3 696.8L736.4 702.9M736.3 696.8L731 693.8M736.4 702.9L731.1 706M731 693.8L725.8 696.9M725.9 715.1L720.6 712.1M725.9 715.1L731.2 712M720.6 712.1L720.6 706.1M731.2 712L731.1 706M654.2 662.4L659.4 659.4M654.2 662.4L654.2 668.5M654.2 662.4L648.9 659.4M654.2 650.2L659.4 653.3M654.2 650.2L648.9 653.3M659.4 653.3L659.4 659.4M648.9 653.3L648.9 659.4M664.7 668.5L659.4 671.5M664.7 668.5L664.7 662.4M659.4 671.5L654.2 668.5M664.7 662.4L659.4 659.4M643.6 668.5L643.6 662.4M643.6 668.5L648.9 671.5M643.6 662.4L648.9 659.4M648.9 671.5L654.2 668.5M654.2 580.6L659.4 583.7M654.2 580.6L648.9 583.6M654.2 580.6L654.2 574.5M664.7 574.5L664.7 580.6M664.7 574.5L659.5 571.5M664.7 580.6L659.4 583.7M659.5 571.5L654.2 574.5M654.1 592.8L648.9 589.7M654.1 592.8L659.4 589.7M648.9 589.7L648.9 583.6M659.4 589.7L659.4 583.7M643.6 574.5L648.9 571.4M643.6 574.5L643.6 580.6M648.9 571.4L654.2 574.5M643.6 580.6L648.9 583.6M757.9 556.1L763 553.4M763 553.4L767.9 556.4M767.9 556.4L767.7 562.1M767.7 562.1L762.7 564.9M762.7 564.9L757.8 561.9M757.8 561.9L757.9 556.1M767.9 556.4L772.2 552.6M772.2 552.6L770 547.3M763 553.4L764.3 547.8M764.3 547.8L770 547.3M738.7 544.4L745.1 548.3M745.1 548.3L751.5 552.2M751.5 552.2L757.9 556.1M787 573.8L780.6 569.9M780.6 569.9L774.2 566M774.2 566L767.7 562.1M797.5 614.7L802.5 617.6M802.5 617.6L802.4 623.3M802.4 623.3L797.5 626.2M797.5 626.2L792.5 623.3M792.5 623.3L792.5 617.6M792.5 617.6L797.5 614.7M792.5 617.6L787.1 615.8M787.1 615.8L783.7 620.4M792.5 623.3L787.1 625.1M787.1 625.1L783.7 620.4M797.5 592.1L797.5 599.6M797.5 599.6L797.5 607.2M797.5 607.2L797.5 614.7M797.4 648.8L797.5 641.3M797.5 641.3L797.5 633.7M797.5 633.7L797.5 626.2M766.6 679.1L766.7 684.8M766.7 684.8L761.7 687.7M761.7 687.7L756.7 684.9M756.7 684.9L756.7 679.1M756.7 679.1L761.6 676.2M761.6 676.2L766.6 679.1M761.7 687.7L762.9 693.3M762.9 693.3L768.6 693.9M766.7 684.8L770.9 688.6M770.9 688.6L768.6 693.9M787 667.2L780.2 671.1M780.2 671.1L773.4 675.1M773.4 675.1L766.6 679.1M736.3 696.8L743.1 692.8M743.1 692.8L749.9 688.8M749.9 688.8L756.7 684.9M695 685.5L690 688.5M690 688.5L685 685.7M685 685.7L685 679.9M685 679.9L689.9 677M689.9 677L694.9 679.8M694.9 679.8L695 685.5M694.9 679.8L699.1 675.9M699.1 675.9L696.7 670.7M689.9 677L691 671.4M691 671.4L696.7 670.7M715.2 697L708.5 693.2M708.5 693.2L701.7 689.4M701.7 689.4L695 685.5M664.7 668.5L671.5 672.3M671.5 672.3L678.2 676.1M678.2 676.1L685 679.9M654.1 627.2L649.2 624.4M649.2 624.4L649.2 618.6M649.2 618.6L654.1 615.8M654.1 615.8L659.1 618.6M659.1 618.6L659.1 624.4M659.1 624.4L654.1 627.2M649.2 618.6L643.7 616.9M643.7 616.9L640.4 621.5M649.2 624.4L643.7 626.1M643.7 626.1L640.4 621.5M654.2 650.2L654.2 642.6M654.2 642.6L654.1 634.9M654.1 634.9L654.1 627.2M654.1 592.8L654.1 600.4M654.1 600.4L654.1 608.1M654.1 608.1L654.1 615.8M686.2 562.1L686.2 556.4M686.2 556.4L691.2 553.6M691.2 553.6L696.1 556.4M696.1 556.4L696.1 562.2M696.1 562.2L691.2 565M691.2 565L686.2 562.1M691.2 565L692.4 570.6M692.4 570.6L698.1 571.2M696.1 562.2L700.4 566M700.4 566L698.1 571.2M664.7 574.5L671.9 570.4M671.9 570.4L679 566.3M679 566.3L686.2 562.1M717.6 544L710.5 548.2M710.5 548.2L703.3 552.3M703.3 552.3L696.1 556.4M728.5 526L728.3 519.8M728.3 519.8L728.3 513.5M728.3 513.5L728.3 507.2M728.3 507.2L723.7 500.2M723.7 500.2L717.1 503M717.1 503L713.3 497.2M728.3 507.2L735.3 501.1M725.9 715.1L725.8 721.8M725.8 721.8L725.8 728.8M725.8 728.8L725.8 735.8M725.8 735.8L718.5 741.9M718.5 741.9L713.6 739.1M713.6 739.1L709.2 744.6M725.8 735.8L730.9 741.9M643.6 574.5L641.9 566.3M641.9 566.3L636.7 561M636.7 561L633.2 556.1M633.2 556.1L630.7 549.3M630.7 549.3L627.6 542.1M633.2 556.1L626.2 557.5M626.2 557.5L619.9 562.5M808.1 667L812.9 668.7M812.9 668.7L817.1 671.5M817.1 671.5L821.3 672.9M821.3 672.9L827.6 671.2M827.6 671.2L833.5 670.6M833.5 670.6L840 669.6M821.3 672.9L823.4 679.9M823.4 679.9L825.1 686.2M866.7 543.2L861.8 540.1M866.7 543.2L871.9 540.4M866.7 543.2L866.5 549M856.4 548.7L856.6 542.8M856.4 548.7L861.3 551.8M856.6 542.8L861.8 540.1M861.3 551.8L866.5 549M867.2 531.4L872.1 534.6M867.2 531.4L862 534.2M872.1 534.6L871.9 540.4M862 534.2L861.8 540.1M876.7 549.4L871.5 552.2M876.7 549.4L876.9 543.5M871.5 552.2L866.5 549M876.9 543.5L871.9 540.4M837.3 558.6L837 564.3M837 564.3L832 567M832 567L827.1 563.9M827.1 563.9L827.4 558.2M827.4 558.2L832.5 555.5M832.5 555.5L837.3 558.6M832 567L832.9 572.6M832.9 572.6L838.6 573.5M837 564.3L841.1 568.3M841.1 568.3L838.6 573.5M856.4 548.7L850 552M850 552L843.7 555.3M843.7 555.3L837.3 558.6M808.1 573.8L814.4 570.5M814.4 570.5L820.8 567.2M820.8 567.2L827.1 563.9M867.2 531.4L866.7 524.6M866.7 524.6L866.7 518.4M866.7 518.4L866.7 512.1M866.7 512.1L860.5 506.5M860.5 506.5L855.6 508.4M855.6 508.4L852 502.3M866.7 512.1L872.3 506.5M876.7 549.4L884.6 552.5M884.6 552.5L889.8 555.9M889.8 555.9L896.1 558.2M896.1 558.2L901.3 551.6M901.3 551.6L908.6 550.8M896.1 558.2L895.4 564.5M895.4 564.5L894.7 570.1M876.7 549.4L887.7 560.3M570.2 702.3L575.3 705.7M570.2 702.3L564.7 704.9M570.2 702.3L570.7 696.2M581.2 697L580.7 703.1M581.2 697L576.2 693.6M580.7 703.1L575.3 705.7M576.2 693.6L570.7 696.2M569.3 714.4L564.3 710.9M569.3 714.4L574.8 711.8M564.3 710.9L564.7 704.9M574.8 711.8L575.3 705.7M560.2 695.4L565.7 692.8M560.2 695.4L559.7 701.4M565.7 692.8L570.7 696.2M559.7 701.4L564.7 704.9M607.2 685.2L607.8 679.4M607.8 679.4L613 677.1M613 677.1L617.6 680.4M617.6 680.4L617.1 686.1M617.1 686.1L611.9 688.5M611.9 688.5L607.2 685.2M611.9 688.5L612.5 694.2M612.5 694.2L618.2 695.3M617.1 686.1L621 690.3M621 690.3L618.2 695.3M581.2 697L589.9 693.1M589.9 693.1L598.6 689.1M598.6 689.1L607.2 685.2M643.6 668.5L635 672.5M635 672.5L626.3 676.4M626.3 676.4L617.6 680.4M560.2 695.4L557.5 687.3M557.5 687.3L554.9 679.2M554.9 679.2L553.5 673M553.5 673L550.5 667M554.9 679.2L548.2 678.4M548.2 678.4L543.7 684.4M569.3 714.4L568.7 722.7M568.7 722.7L568.1 730.9M568.1 730.9L566.4 738.9M566.4 738.9L561.9 746.5M568.1 730.9L574.4 737.9M574.4 737.9L573 744.9" stroke="#6a6a6a" stroke-width="2.7" stroke-linecap="round" fill="none"/><use href="#C28" x="760.5" y="554.8"/><use href="#C28" x="765.4" y="554.9"/><use href="#C28" x="767.8" y="559.2"/><use href="#C28" x="765.2" y="563.5"/><use href="#C28" x="760.3" y="563.4"/><use href="#C28" x="757.9" y="559"/><use href="#C28" x="741.9" y="546.4"/><use href="#C28" x="748.3" y="550.3"/><use href="#C28" x="754.7" y="554.2"/><use href="#C28" x="783.8" y="571.9"/><use href="#C28" x="777.4" y="568"/><use href="#C28" x="770.9" y="564.1"/><use href="#C28" x="800" y="616.2"/><use href="#C28" x="802.4" y="620.5"/><use href="#C28" x="800" y="624.8"/><use href="#C28" x="795" y="624.7"/><use href="#C28" x="792.5" y="620.4"/><use href="#C28" x="795" y="616.1"/><use href="#C28" x="797.5" y="595.8"/><use href="#C28" x="797.5" y="603.4"/><use href="#C28" x="797.5" y="610.9"/><use href="#C28" x="797.4" y="645.1"/><use href="#C28" x="797.5" y="637.5"/><use href="#C28" x="797.5" y="630"/><use href="#C28" x="766.6" y="681.9"/><use href="#C28" x="764.2" y="686.3"/><use href="#C28" x="759.2" y="686.3"/><use href="#C28" x="756.7" y="682"/><use href="#C28" x="759.2" y="677.7"/><use href="#C28" x="764.1" y="677.7"/><use href="#C28" x="783.6" y="669.1"/><use href="#C28" x="776.8" y="673.1"/><use href="#C28" x="770" y="677.1"/><use href="#C28" x="739.7" y="694.8"/><use href="#C28" x="746.5" y="690.8"/><use href="#C28" x="753.3" y="686.9"/><use href="#C28" x="692.5" y="687"/><use href="#C28" x="687.5" y="687.1"/><use href="#C28" x="685" y="682.8"/><use href="#C28" x="687.4" y="678.5"/><use href="#C28" x="692.4" y="678.4"/><use href="#C28" x="694.9" y="682.7"/><use href="#C28" x="711.9" y="695.1"/><use href="#C28" x="705.1" y="691.3"/><use href="#C28" x="698.3" y="687.5"/><use href="#C28" x="668.1" y="670.4"/><use href="#C28" x="674.8" y="674.2"/><use href="#C28" x="681.6" y="678"/><use href="#C28" x="651.7" y="625.8"/><use href="#C28" x="649.2" y="621.5"/><use href="#C28" x="651.7" y="617.2"/><use href="#C28" x="656.6" y="617.2"/><use href="#C28" x="659.1" y="621.5"/><use href="#C28" x="656.6" y="625.8"/><use href="#C28" x="654.2" y="646.4"/><use href="#C28" x="654.2" y="638.7"/><use href="#C28" x="654.1" y="631.1"/><use href="#C28" x="654.1" y="596.6"/><use href="#C28" x="654.1" y="604.3"/><use href="#C28" x="654.1" y="611.9"/><use href="#C28" x="686.2" y="559.3"/><use href="#C28" x="688.7" y="555"/><use href="#C28" x="693.7" y="555"/><use href="#C28" x="696.1" y="559.3"/><use href="#C28" x="693.7" y="563.6"/><use href="#C28" x="688.7" y="563.6"/><use href="#C28" x="668.3" y="572.5"/><use href="#C28" x="675.5" y="568.3"/><use href="#C28" x="682.6" y="564.2"/><use href="#C28" x="714.1" y="546.1"/><use href="#C28" x="706.9" y="550.2"/><use href="#C28" x="699.7" y="554.4"/><use href="#C28" x="728.4" y="522.9"/><use href="#C28" x="728.3" y="516.6"/><use href="#C28" x="728.3" y="510.3"/><use href="#C28" x="726" y="503.7"/><use href="#C28" x="731.8" y="504.1"/><use href="#C28" x="725.9" y="718.5"/><use href="#C28" x="725.8" y="725.3"/><use href="#C28" x="725.8" y="732.3"/><use href="#C28" x="722.2" y="738.9"/><use href="#C28" x="728.4" y="738.9"/><use href="#C28" x="642.8" y="570.4"/><use href="#C28" x="639.3" y="563.6"/><use href="#C28" x="634.9" y="558.6"/><use href="#C28" x="629.7" y="556.8"/><use href="#C28" x="623" y="560"/><use href="#C28" x="824.4" y="672"/><use href="#C28" x="822.3" y="676.4"/><use href="#C28" x="824.3" y="683"/><use href="#C28" x="837.2" y="561.5"/><use href="#C28" x="834.5" y="565.7"/><use href="#C28" x="829.5" y="565.4"/><use href="#C28" x="827.3" y="561"/><use href="#C28" x="829.9" y="556.8"/><use href="#C28" x="834.9" y="557.1"/><use href="#C28" x="853.2" y="550.3"/><use href="#C28" x="846.8" y="553.6"/><use href="#C28" x="840.5" y="556.9"/><use href="#C28" x="811.2" y="572.2"/><use href="#C28" x="817.6" y="568.8"/><use href="#C28" x="823.9" y="565.5"/><use href="#C28" x="867" y="528"/><use href="#C28" x="866.7" y="521.5"/><use href="#C28" x="866.7" y="515.2"/><use href="#C28" x="863.6" y="509.3"/><use href="#C28" x="869.5" y="509.3"/><use href="#C28" x="880.6" y="550.9"/><use href="#C28" x="887.2" y="554.2"/><use href="#C28" x="893" y="557.1"/><use href="#C28" x="895.8" y="561.4"/><use href="#C28" x="895.1" y="567.3"/><use href="#C28" x="607.5" y="682.3"/><use href="#C28" x="610.4" y="678.3"/><use href="#C28" x="615.3" y="678.7"/><use href="#C28" x="617.4" y="683.2"/><use href="#C28" x="614.5" y="687.3"/><use href="#C28" x="609.6" y="686.8"/><use href="#C28" x="585.6" y="695.1"/><use href="#C28" x="594.2" y="691.1"/><use href="#C28" x="602.9" y="687.1"/><use href="#C28" x="639.3" y="670.5"/><use href="#C28" x="630.6" y="674.4"/><use href="#C28" x="622" y="678.4"/><use href="#C28" x="558.9" y="691.3"/><use href="#C28" x="556.2" y="683.2"/><use href="#C28" x="551.5" y="678.8"/><use href="#C28" x="545.9" y="681.4"/><use href="#C28" x="569" y="718.5"/><use href="#C28" x="568.4" y="726.8"/><use href="#C28" x="571.3" y="734.4"/><use href="#C28" x="573.7" y="741.4"/><use href="#N38" x="728.3" y="538.1"/><use href="#C33" x="728.2" y="544.2"/><use href="#C33" x="723.1" y="535"/><use href="#C33" x="733.6" y="535.2"/><use href="#N38" x="733.4" y="547.4"/><use href="#N38" x="722.8" y="547.2"/><use href="#N38" x="717.8" y="537.9"/><use href="#N38" x="723.2" y="528.9"/><use href="#N38" x="733.7" y="529.1"/><use href="#N38" x="738.8" y="538.3"/><use href="#C33" x="738.7" y="544.4"/><use href="#C33" x="717.6" y="544"/><use href="#C33" x="728.5" y="526"/><use href="#N38" x="797.5" y="579.9"/><use href="#C33" x="792.2" y="582.9"/><use href="#C33" x="797.5" y="573.8"/><use href="#C33" x="802.8" y="582.9"/><use href="#N38" x="792.2" y="589"/><use href="#N38" x="787" y="579.9"/><use href="#N38" x="792.2" y="570.8"/><use href="#N38" x="802.8" y="570.8"/><use href="#N38" x="808.1" y="579.9"/><use href="#N38" x="802.8" y="589"/><use href="#C33" x="797.5" y="592.1"/><use href="#C33" x="787" y="573.8"/><use href="#C33" x="808.1" y="573.8"/><use href="#N38" x="797.5" y="661"/><use href="#C33" x="792.2" y="658"/><use href="#C33" x="802.8" y="657.9"/><use href="#C33" x="797.6" y="667.1"/><use href="#N38" x="787" y="661.1"/><use href="#N38" x="792.2" y="651.9"/><use href="#N38" x="802.7" y="651.9"/><use href="#N38" x="808.1" y="660.9"/><use href="#N38" x="802.8" y="670.1"/><use href="#N38" x="792.3" y="670.2"/><use href="#C33" x="787" y="667.2"/><use href="#C33" x="797.4" y="648.8"/><use href="#C33" x="808.1" y="667"/><use href="#N38" x="725.8" y="703"/><use href="#C33" x="725.8" y="696.9"/><use href="#C33" x="731.1" y="706"/><use href="#C33" x="720.6" y="706.1"/><use href="#N38" x="720.5" y="693.9"/><use href="#N38" x="731" y="693.8"/><use href="#N38" x="736.4" y="702.9"/><use href="#N38" x="731.2" y="712"/><use href="#N38" x="720.6" y="712.1"/><use href="#N38" x="715.3" y="703.1"/><use href="#C33" x="715.2" y="697"/><use href="#C33" x="736.3" y="696.8"/><use href="#C33" x="725.9" y="715.1"/><use href="#N38" x="654.2" y="662.4"/><use href="#C33" x="659.4" y="659.4"/><use href="#C33" x="654.2" y="668.5"/><use href="#C33" x="648.9" y="659.4"/><use href="#N38" x="659.4" y="653.3"/><use href="#N38" x="664.7" y="662.4"/><use href="#N38" x="659.4" y="671.5"/><use href="#N38" x="648.9" y="671.5"/><use href="#N38" x="643.6" y="662.4"/><use href="#N38" x="648.9" y="653.3"/><use href="#C33" x="654.2" y="650.2"/><use href="#C33" x="664.7" y="668.5"/><use href="#C33" x="643.6" y="668.5"/><use href="#N38" x="654.2" y="580.6"/><use href="#C33" x="659.4" y="583.7"/><use href="#C33" x="648.9" y="583.6"/><use href="#C33" x="654.2" y="574.5"/><use href="#N38" x="664.7" y="580.6"/><use href="#N38" x="659.4" y="589.7"/><use href="#N38" x="648.9" y="589.7"/><use href="#N38" x="643.6" y="580.6"/><use href="#N38" x="648.9" y="571.4"/><use href="#N38" x="659.5" y="571.5"/><use href="#C33" x="664.7" y="574.5"/><use href="#C33" x="654.1" y="592.8"/><use href="#C33" x="643.6" y="574.5"/><use href="#C33" x="757.9" y="556.1"/><use href="#C33" x="763" y="553.4"/><use href="#C33" x="767.9" y="556.4"/><use href="#C33" x="767.7" y="562.1"/><use href="#C33" x="762.7" y="564.9"/><use href="#C33" x="757.8" y="561.9"/><use href="#S37" x="770" y="547.3"/><use href="#N38" x="772.2" y="552.6"/><use href="#N38" x="764.3" y="547.8"/><use href="#C33" x="745.1" y="548.3"/><use href="#C33" x="751.5" y="552.2"/><use href="#C33" x="780.6" y="569.9"/><use href="#C33" x="774.2" y="566"/><use href="#C33" x="797.5" y="614.7"/><use href="#C33" x="802.5" y="617.6"/><use href="#C33" x="802.4" y="623.3"/><use href="#C33" x="797.5" y="626.2"/><use href="#C33" x="792.5" y="623.3"/><use href="#C33" x="792.5" y="617.6"/><use href="#S37" x="783.7" y="620.4"/><use href="#N38" x="787.1" y="615.8"/><use href="#N38" x="787.1" y="625.1"/><use href="#C33" x="797.5" y="599.6"/><use href="#C33" x="797.5" y="607.2"/><use href="#C33" x="797.5" y="641.3"/><use href="#C33" x="797.5" y="633.7"/><use href="#C33" x="766.6" y="679.1"/><use href="#C33" x="766.7" y="684.8"/><use href="#C33" x="761.7" y="687.7"/><use href="#C33" x="756.7" y="684.9"/><use href="#C33" x="756.7" y="679.1"/><use href="#C33" x="761.6" y="676.2"/><use href="#S37" x="768.6" y="693.9"/><use href="#N38" x="762.9" y="693.3"/><use href="#N38" x="770.9" y="688.6"/><use href="#C33" x="780.2" y="671.1"/><use href="#C33" x="773.4" y="675.1"/><use href="#C33" x="743.1" y="692.8"/><use href="#C33" x="749.9" y="688.8"/><use href="#C33" x="695" y="685.5"/><use href="#C33" x="690" y="688.5"/><use href="#C33" x="685" y="685.7"/><use href="#C33" x="685" y="679.9"/><use href="#C33" x="689.9" y="677"/><use href="#C33" x="694.9" y="679.8"/><use href="#S37" x="696.7" y="670.7"/><use href="#N38" x="699.1" y="675.9"/><use href="#N38" x="691" y="671.4"/><use href="#C33" x="708.5" y="693.2"/><use href="#C33" x="701.7" y="689.4"/><use href="#C33" x="671.5" y="672.3"/><use href="#C33" x="678.2" y="676.1"/><use href="#C33" x="654.1" y="627.2"/><use href="#C33" x="649.2" y="624.4"/><use href="#C33" x="649.2" y="618.6"/><use href="#C33" x="654.1" y="615.8"/><use href="#C33" x="659.1" y="618.6"/><use href="#C33" x="659.1" y="624.4"/><use href="#S37" x="640.4" y="621.5"/><use href="#N38" x="643.7" y="616.9"/><use href="#N38" x="643.7" y="626.1"/><use href="#C33" x="654.2" y="642.6"/><use href="#C33" x="654.1" y="634.9"/><use href="#C33" x="654.1" y="600.4"/><use href="#C33" x="654.1" y="608.1"/><use href="#C33" x="686.2" y="562.1"/><use href="#C33" x="686.2" y="556.4"/><use href="#C33" x="691.2" y="553.6"/><use href="#C33" x="696.1" y="556.4"/><use href="#C33" x="696.1" y="562.2"/><use href="#C33" x="691.2" y="565"/><use href="#S37" x="698.1" y="571.2"/><use href="#N38" x="692.4" y="570.6"/><use href="#N38" x="700.4" y="566"/><use href="#C33" x="671.9" y="570.4"/><use href="#C33" x="679" y="566.3"/><use href="#C33" x="710.5" y="548.2"/><use href="#C33" x="703.3" y="552.3"/><use href="#C33" x="728.3" y="519.8"/><use href="#C33" x="728.3" y="513.5"/><use href="#C33" x="728.3" y="507.2"/><use href="#C33" x="723.7" y="500.2"/><use href="#N38" x="717.1" y="503"/><use href="#S37" x="713.3" y="497.2"/><use href="#C33" x="735.3" y="501.1"/><use href="#C33" x="725.8" y="721.8"/><use href="#C33" x="725.8" y="728.8"/><use href="#C33" x="725.8" y="735.8"/><use href="#C33" x="718.5" y="741.9"/><use href="#N38" x="713.6" y="739.1"/><use href="#S37" x="709.2" y="744.6"/><use href="#C33" x="730.9" y="741.9"/><use href="#C33" x="641.9" y="566.3"/><use href="#C33" x="636.7" y="561"/><use href="#C33" x="633.2" y="556.1"/><use href="#N38" x="630.7" y="549.3"/><use href="#S37" x="627.6" y="542.1"/><use href="#C33" x="626.2" y="557.5"/><use href="#C33" x="619.9" y="562.5"/><use href="#C33" x="812.9" y="668.7"/><use href="#C33" x="817.1" y="671.5"/><use href="#C33" x="821.3" y="672.9"/><use href="#C33" x="827.6" y="671.2"/><use href="#N38" x="833.5" y="670.6"/><use href="#S37" x="840" y="669.6"/><use href="#C33" x="823.4" y="679.9"/><use href="#C33" x="825.1" y="686.2"/><use href="#N38" x="866.7" y="543.2"/><use href="#C33" x="861.8" y="540.1"/><use href="#C33" x="871.9" y="540.4"/><use href="#C33" x="866.5" y="549"/><use href="#N38" x="856.6" y="542.8"/><use href="#N38" x="862" y="534.2"/><use href="#N38" x="872.1" y="534.6"/><use href="#N38" x="876.9" y="543.5"/><use href="#N38" x="871.5" y="552.2"/><use href="#N38" x="861.3" y="551.8"/><use href="#C33" x="856.4" y="548.7"/><use href="#C33" x="867.2" y="531.4"/><use href="#C33" x="876.7" y="549.4"/><use href="#C33" x="837.3" y="558.6"/><use href="#C33" x="837" y="564.3"/><use href="#C33" x="832" y="567"/><use href="#C33" x="827.1" y="563.9"/><use href="#C33" x="827.4" y="558.2"/><use href="#C33" x="832.5" y="555.5"/><use href="#S37" x="838.6" y="573.5"/><use href="#N38" x="832.9" y="572.6"/><use href="#N38" x="841.1" y="568.3"/><use href="#C33" x="850" y="552"/><use href="#C33" x="843.7" y="555.3"/><use href="#C33" x="814.4" y="570.5"/><use href="#C33" x="820.8" y="567.2"/><use href="#C33" x="866.7" y="524.6"/><use href="#C33" x="866.7" y="518.4"/><use href="#C33" x="866.7" y="512.1"/><use href="#C33" x="860.5" y="506.5"/><use href="#N38" x="855.6" y="508.4"/><use href="#S37" x="852" y="502.3"/><use href="#C33" x="872.3" y="506.5"/><use href="#C33" x="884.6" y="552.5"/><use href="#C33" x="889.8" y="555.9"/><use href="#C33" x="896.1" y="558.2"/><use href="#N38" x="901.3" y="551.6"/><use href="#S37" x="908.6" y="550.8"/><use href="#C33" x="895.4" y="564.5"/><use href="#C33" x="894.7" y="570.1"/><use href="#S37" x="887.7" y="560.3"/><use href="#N38" x="570.2" y="702.3"/><use href="#C33" x="575.3" y="705.7"/><use href="#C33" x="564.7" y="704.9"/><use href="#C33" x="570.7" y="696.2"/><use href="#N38" x="580.7" y="703.1"/><use href="#N38" x="574.8" y="711.8"/><use href="#N38" x="564.3" y="710.9"/><use href="#N38" x="559.7" y="701.4"/><use href="#N38" x="565.7" y="692.8"/><use href="#N38" x="576.2" y="693.6"/><use href="#C33" x="581.2" y="697"/><use href="#C33" x="569.3" y="714.4"/><use href="#C33" x="560.2" y="695.4"/><use href="#C33" x="607.2" y="685.2"/><use href="#C33" x="607.8" y="679.4"/><use href="#C33" x="613" y="677.1"/><use href="#C33" x="617.6" y="680.4"/><use href="#C33" x="617.1" y="686.1"/><use href="#C33" x="611.9" y="688.5"/><use href="#S37" x="618.2" y="695.3"/><use href="#N38" x="612.5" y="694.2"/><use href="#N38" x="621" y="690.3"/><use href="#C33" x="589.9" y="693.1"/><use href="#C33" x="598.6" y="689.1"/><use href="#C33" x="635" y="672.5"/><use href="#C33" x="626.3" y="676.4"/><use href="#C33" x="557.5" y="687.3"/><use href="#C33" x="554.9" y="679.2"/><use href="#N38" x="553.5" y="673"/><use href="#S37" x="550.5" y="667"/><use href="#C33" x="548.2" y="678.4"/><use href="#C33" x="543.7" y="684.4"/><use href="#C33" x="568.7" y="722.7"/><use href="#C33" x="568.1" y="730.9"/><use href="#N38" x="566.4" y="738.9"/><use href="#S37" x="561.9" y="746.5"/><use href="#C33" x="574.4" y="737.9"/><use href="#C33" x="573" y="744.9"/><path d="M729.1 532.8L729 539.3M729.1 532.8L723.6 529.5M729.1 532.8L734.8 529.7M740.2 539.5L734.6 542.6M740.2 539.5L740.3 533M734.6 542.6L729 539.3M740.3 533L734.8 529.7M717.8 539.1L717.9 532.6M717.8 539.1L723.3 542.4M717.9 532.6L723.6 529.5M723.3 542.4L729 539.3M729.4 519.9L734.9 523.2M729.4 519.9L723.7 523M734.9 523.2L734.8 529.7M723.7 523L723.6 529.5M802.8 577.2L797.2 580.5M802.8 577.2L802.8 570.8M802.8 577.2L808.4 580.5M802.8 590.2L797.2 586.9M802.8 590.2L808.4 586.9M797.2 586.9L797.2 580.5M808.4 586.9L808.4 580.5M791.6 570.8L797.2 567.5M791.6 570.8L791.6 577.2M797.2 567.5L802.8 570.8M791.6 577.2L797.2 580.5M814 570.8L814 577.2M814 570.8L808.4 567.5M814 577.2L808.4 580.5M808.4 567.5L802.8 570.8M802.8 663.5L797.2 660.3M802.8 663.5L808.4 660.3M802.8 663.5L802.8 670M791.6 670.1L791.6 663.6M791.6 670.1L797.2 673.3M791.6 663.6L797.2 660.3M797.2 673.3L802.8 670M802.7 650.6L808.3 653.8M802.7 650.6L797.1 653.9M808.3 653.8L808.4 660.3M797.1 653.9L797.2 660.3M814 669.9L808.5 673.2M814 669.9L814 663.5M808.5 673.2L802.8 670M814 663.5L808.4 660.3M726.5 708.2L726.5 701.7M726.5 708.2L732.2 711.4M726.5 708.2L721 711.5M715.3 701.8L720.8 698.5M715.3 701.8L715.3 708.3M720.8 698.5L726.5 701.7M715.3 708.3L721 711.5M737.7 701.6L737.7 708.1M737.7 701.6L732.1 698.4M737.7 708.1L732.2 711.4M732.1 698.4L726.5 701.7M726.6 721.1L721 717.9M726.6 721.1L732.2 717.8M721 717.9L721 711.5M732.2 717.8L732.2 711.4M650.3 665L655.9 661.8M650.3 665L650.3 671.5M650.3 665L644.7 661.8M650.3 652.1L655.9 655.3M650.3 652.1L644.7 655.3M655.9 655.3L655.9 661.8M644.7 655.3L644.7 661.8M661.5 671.5L655.9 674.7M661.5 671.5L661.5 665M655.9 674.7L650.3 671.5M661.5 665L655.9 661.8M639.1 671.5L639.1 665M639.1 671.5L644.7 674.7M639.1 665L644.7 661.8M644.7 674.7L650.3 671.5M650.3 578L655.9 581.2M650.3 578L644.7 581.2M650.3 578L650.3 571.5M661.5 571.5L661.5 578M661.5 571.5L655.9 568.3M661.5 578L655.9 581.2M655.9 568.3L650.3 571.5M650.2 590.9L644.6 587.7M650.2 590.9L655.8 587.7M644.6 587.7L644.7 581.2M655.8 587.7L655.9 581.2M639.1 571.5L644.7 568.2M639.1 571.5L639.1 577.9M644.7 568.2L650.3 571.5M639.1 577.9L644.7 581.2M760.7 552L766 549M766 549L771.3 552.2M771.3 552.2L771.1 558.3M771.1 558.3L765.8 561.2M765.8 561.2L760.6 558.1M760.6 558.1L760.7 552M771.3 552.2L775.9 548.2M775.9 548.2L773.5 542.6M766 549L767.5 543.1M767.5 543.1L773.5 542.6M740.2 539.5L747 543.6M747 543.6L753.9 547.8M753.9 547.8L760.7 552M791.6 570.8L784.8 566.6M784.8 566.6L777.9 562.5M777.9 562.5L771.1 558.3M802.8 614.3L808 617.3M808 617.3L808 623.4M808 623.4L802.8 626.5M802.8 626.5L797.5 623.4M797.5 623.4L797.5 617.3M797.5 617.3L802.8 614.3M797.5 617.3L791.7 615.4M791.7 615.4L788.1 620.4M797.5 623.4L791.7 625.3M791.7 625.3L788.1 620.4M802.8 590.2L802.8 598.2M802.8 598.2L802.8 606.2M802.8 606.2L802.8 614.3M802.7 650.6L802.7 642.6M802.7 642.6L802.7 634.5M802.7 634.5L802.8 626.5M769.9 682.8L770 688.9M770 688.9L764.7 691.9M764.7 691.9L759.4 688.9M759.4 688.9L759.4 682.8M759.4 682.8L764.6 679.7M764.6 679.7L769.9 682.8M764.7 691.9L766 697.9M766 697.9L772.1 698.5M770 688.9L774.5 692.9M774.5 692.9L772.1 698.5M791.6 670.1L784.4 674.3M784.4 674.3L777.2 678.5M777.2 678.5L769.9 682.8M737.7 701.6L744.9 697.4M744.9 697.4L752.2 693.2M752.2 693.2L759.4 688.9M693.7 689.6L688.4 692.8M688.4 692.8L683.1 689.8M683.1 689.8L683.1 683.7M683.1 683.7L688.3 680.6M688.3 680.6L693.6 683.5M693.6 683.5L693.7 689.6M693.6 683.5L698.1 679.4M698.1 679.4L695.6 673.9M688.3 680.6L689.5 674.6M689.5 674.6L695.6 673.9M715.3 701.8L708.1 697.8M708.1 697.8L700.9 693.7M700.9 693.7L693.7 689.6M661.5 671.5L668.7 675.6M668.7 675.6L675.9 679.6M675.9 679.6L683.1 683.7M650.2 627.6L645 624.6M645 624.6L645 618.5M645 618.5L650.2 615.4M650.2 615.4L655.5 618.4M655.5 618.4L655.5 624.5M655.5 624.5L650.2 627.6M645 618.5L639.2 616.6M639.2 616.6L635.6 621.5M645 624.6L639.2 626.4M639.2 626.4L635.6 621.5M650.3 652.1L650.3 643.9M650.3 643.9L650.3 635.8M650.3 635.8L650.2 627.6M650.2 590.9L650.2 599.1M650.2 599.1L650.2 607.2M650.2 607.2L650.2 615.4M684.4 558.4L684.4 552.3M684.4 552.3L689.7 549.2M689.7 549.2L694.9 552.3M694.9 552.3L694.9 558.4M694.9 558.4L689.7 561.4M689.7 561.4L684.4 558.4M689.7 561.4L690.9 567.4M690.9 567.4L697 568M694.9 558.4L699.5 562.4M699.5 562.4L697 568M661.5 571.5L669.1 567.1M669.1 567.1L676.7 562.7M676.7 562.7L684.4 558.4M717.8 539.1L710.2 543.5M710.2 543.5L702.6 547.9M702.6 547.9L694.9 552.3M729.4 519.9L729.1 513.2M729.1 513.2L729.1 506.5M729.1 506.5L729.1 499.8M729.1 499.8L724.3 492.4M724.3 492.4L717.2 495.4M717.2 495.4L713.2 489.3M729.1 499.8L736.6 493.4M726.6 721.1L726.5 728.3M726.5 728.3L726.5 735.7M726.5 735.7L726.5 743.2M726.5 743.2L718.7 749.6M718.7 749.6L713.5 746.6M713.5 746.6L708.8 752.5M726.5 743.2L731.9 749.6M639.1 571.5L637.2 562.7M637.2 562.7L631.7 557.1M631.7 557.1L627.9 551.9M627.9 551.9L625.3 544.7M625.3 544.7L622 537M627.9 551.9L620.5 553.4M620.5 553.4L613.8 558.8M814 669.9L819.2 671.7M819.2 671.7L823.6 674.7M823.6 674.7L828.1 676.2M828.1 676.2L834.8 674.3M834.8 674.3L841.1 673.7M841.1 673.7L848 672.7M828.1 676.2L830.3 683.6M830.3 683.6L832.2 690.3M876.5 538.2L871.2 534.8M876.5 538.2L882 535.2M876.5 538.2L876.2 544.4M865.4 544L865.6 537.8M865.4 544L870.7 547.3M865.6 537.8L871.2 534.8M870.7 547.3L876.2 544.4M876.9 525.7L882.2 529M876.9 525.7L871.4 528.6M882.2 529L882 535.2M871.4 528.6L871.2 534.8M887.1 544.8L881.5 547.7M887.1 544.8L887.3 538.6M881.5 547.7L876.2 544.4M887.3 538.6L882 535.2M845.1 554.6L844.9 560.7M844.9 560.7L839.4 563.5M839.4 563.5L834.3 560.2M834.3 560.2L834.6 554.1M834.6 554.1L840 551.3M840 551.3L845.1 554.6M839.4 563.5L840.4 569.5M840.4 569.5L846.5 570.4M844.9 560.7L849.2 564.9M849.2 564.9L846.5 570.4M865.4 544L858.7 547.5M858.7 547.5L851.9 551.1M851.9 551.1L845.1 554.6M814 570.8L820.8 567.2M820.8 567.2L827.5 563.7M827.5 563.7L834.3 560.2M876.9 525.7L876.5 518.4M876.5 518.4L876.5 511.8M876.5 511.8L876.5 505.1M876.5 505.1L869.8 499.1M869.8 499.1L864.6 501.1M864.6 501.1L860.8 494.6M876.5 505.1L882.4 499.1M887.1 544.8L895.4 548.1M895.4 548.1L901 551.7M901 551.7L907.7 554.2M907.7 554.2L913.2 547.2M913.2 547.2L921 546.3M907.7 554.2L907 560.9M907 560.9L906.2 566.8M887.1 544.8L898.8 556.4M561 707.4L566.3 711.1M561 707.4L555.1 710.2M561 707.4L561.5 701M572.7 701.9L572.2 708.3M572.7 701.9L567.3 698.2M572.2 708.3L566.3 711.1M567.3 698.2L561.5 701M559.9 720.3L554.6 716.7M559.9 720.3L565.8 717.6M554.6 716.7L555.1 710.2M565.8 717.6L566.3 711.1M550.3 700.1L556.2 697.3M550.3 700.1L549.8 706.5M556.2 697.3L561.5 701M549.8 706.5L555.1 710.2M600.3 689.2L600.9 683.2M600.9 683.2L606.4 680.6M606.4 680.6L611.4 684.2M611.4 684.2L610.8 690.2M610.8 690.2L605.3 692.8M605.3 692.8L600.3 689.2M605.3 692.8L606 698.8M606 698.8L612 700M610.8 690.2L615 694.7M615 694.7L612 700M572.7 701.9L581.9 697.7M581.9 697.7L591.1 693.4M591.1 693.4L600.3 689.2M639.1 671.5L629.8 675.7M629.8 675.7L620.6 679.9M620.6 679.9L611.4 684.2M550.3 700.1L547.5 691.5M547.5 691.5L544.6 682.9M544.6 682.9L543.1 676.3M543.1 676.3L539.9 669.9M544.6 682.9L537.5 682M537.5 682L532.7 688.5M559.9 720.3L559.3 729.1M559.3 729.1L558.8 737.9M558.8 737.9L556.9 746.4M556.9 746.4L552.1 754.5M558.8 737.9L565.4 745.4M565.4 745.4L564 752.8" stroke="#6a6a6a" stroke-width="2.8" stroke-linecap="round" fill="none"/><use href="#C29" x="763.4" y="550.5"/><use href="#C29" x="768.7" y="550.6"/><use href="#C29" x="771.2" y="555.2"/><use href="#C29" x="768.4" y="559.8"/><use href="#C29" x="763.2" y="559.6"/><use href="#C29" x="760.6" y="555"/><use href="#C29" x="743.6" y="541.6"/><use href="#C29" x="750.5" y="545.7"/><use href="#C29" x="757.3" y="549.9"/><use href="#C29" x="788.2" y="568.7"/><use href="#C29" x="781.4" y="564.5"/><use href="#C29" x="774.5" y="560.4"/><use href="#C29" x="805.4" y="615.8"/><use href="#C29" x="808" y="620.4"/><use href="#C29" x="805.4" y="625"/><use href="#C29" x="800.1" y="625"/><use href="#C29" x="797.5" y="620.4"/><use href="#C29" x="800.1" y="615.8"/><use href="#C29" x="802.8" y="594.2"/><use href="#C29" x="802.8" y="602.2"/><use href="#C29" x="802.8" y="610.3"/><use href="#C29" x="802.7" y="646.6"/><use href="#C29" x="802.7" y="638.5"/><use href="#C29" x="802.7" y="630.5"/><use href="#C29" x="769.9" y="685.8"/><use href="#C29" x="767.3" y="690.4"/><use href="#C29" x="762" y="690.4"/><use href="#C29" x="759.4" y="685.9"/><use href="#C29" x="762" y="681.3"/><use href="#C29" x="767.3" y="681.3"/><use href="#C29" x="788" y="672.2"/><use href="#C29" x="780.8" y="676.4"/><use href="#C29" x="773.5" y="680.7"/><use href="#C29" x="741.3" y="699.5"/><use href="#C29" x="748.5" y="695.3"/><use href="#C29" x="755.8" y="691"/><use href="#C29" x="691.1" y="691.2"/><use href="#C29" x="685.8" y="691.3"/><use href="#C29" x="683.1" y="686.7"/><use href="#C29" x="685.7" y="682.1"/><use href="#C29" x="691" y="682"/><use href="#C29" x="693.7" y="686.6"/><use href="#C29" x="711.7" y="699.8"/><use href="#C29" x="704.5" y="695.7"/><use href="#C29" x="697.3" y="691.7"/><use href="#C29" x="665.1" y="673.5"/><use href="#C29" x="672.3" y="677.6"/><use href="#C29" x="679.5" y="681.6"/><use href="#C29" x="647.6" y="626.1"/><use href="#C29" x="645" y="621.5"/><use href="#C29" x="647.6" y="616.9"/><use href="#C29" x="652.9" y="616.9"/><use href="#C29" x="655.5" y="621.5"/><use href="#C29" x="652.9" y="626.1"/><use href="#C29" x="650.3" y="648"/><use href="#C29" x="650.3" y="639.8"/><use href="#C29" x="650.3" y="631.7"/><use href="#C29" x="650.2" y="595"/><use href="#C29" x="650.2" y="603.2"/><use href="#C29" x="650.2" y="611.3"/><use href="#C29" x="684.4" y="555.3"/><use href="#C29" x="687" y="550.7"/><use href="#C29" x="692.3" y="550.7"/><use href="#C29" x="694.9" y="555.3"/><use href="#C29" x="692.3" y="559.9"/><use href="#C29" x="687" y="559.9"/><use href="#C29" x="665.3" y="569.3"/><use href="#C29" x="672.9" y="564.9"/><use href="#C29" x="680.6" y="560.6"/><use href="#C29" x="714" y="541.3"/><use href="#C29" x="706.4" y="545.7"/><use href="#C29" x="698.7" y="550.1"/><use href="#C29" x="729.3" y="516.6"/><use href="#C29" x="729.1" y="509.9"/><use href="#C29" x="729.1" y="503.2"/><use href="#C29" x="726.7" y="496.1"/><use href="#C29" x="732.9" y="496.6"/><use href="#C29" x="726.6" y="724.7"/><use href="#C29" x="726.5" y="732"/><use href="#C29" x="726.5" y="739.4"/><use href="#C29" x="722.6" y="746.4"/><use href="#C29" x="729.2" y="746.4"/><use href="#C29" x="638.2" y="567.1"/><use href="#C29" x="634.5" y="559.9"/><use href="#C29" x="629.8" y="554.5"/><use href="#C29" x="624.2" y="552.7"/><use href="#C29" x="617.2" y="556.1"/><use href="#C29" x="816.6" y="670.8"/><use href="#C29" x="831.4" y="675.3"/><use href="#C29" x="829.2" y="679.9"/><use href="#C29" x="831.3" y="687"/><use href="#C29" x="845" y="557.6"/><use href="#C29" x="842.2" y="562.1"/><use href="#C29" x="836.9" y="561.8"/><use href="#C29" x="834.4" y="557.2"/><use href="#C29" x="837.3" y="552.7"/><use href="#C29" x="842.6" y="552.9"/><use href="#C29" x="862" y="545.8"/><use href="#C29" x="855.3" y="549.3"/><use href="#C29" x="848.5" y="552.8"/><use href="#C29" x="817.4" y="569"/><use href="#C29" x="824.2" y="565.5"/><use href="#C29" x="830.9" y="562"/><use href="#C29" x="876.7" y="522.1"/><use href="#C29" x="876.5" y="515.1"/><use href="#C29" x="876.5" y="508.4"/><use href="#C29" x="873.1" y="502.1"/><use href="#C29" x="879.4" y="502.1"/><use href="#C29" x="891.2" y="546.4"/><use href="#C29" x="898.2" y="549.9"/><use href="#C29" x="904.4" y="552.9"/><use href="#C29" x="907.3" y="557.5"/><use href="#C29" x="906.6" y="563.8"/><use href="#C29" x="600.6" y="686.2"/><use href="#C29" x="603.7" y="681.9"/><use href="#C29" x="608.9" y="682.4"/><use href="#C29" x="611.1" y="687.2"/><use href="#C29" x="608.1" y="691.5"/><use href="#C29" x="602.8" y="691"/><use href="#C29" x="577.3" y="699.8"/><use href="#C29" x="586.5" y="695.6"/><use href="#C29" x="595.7" y="691.3"/><use href="#C29" x="634.4" y="673.6"/><use href="#C29" x="625.2" y="677.8"/><use href="#C29" x="616" y="682"/><use href="#C29" x="548.9" y="695.8"/><use href="#C29" x="546" y="687.2"/><use href="#C29" x="541.1" y="682.4"/><use href="#C29" x="535.1" y="685.2"/><use href="#C29" x="559.6" y="724.7"/><use href="#C29" x="559" y="733.5"/><use href="#C29" x="562.1" y="741.7"/><use href="#C29" x="564.7" y="749.1"/><use href="#N40" x="729.1" y="532.8"/><use href="#C34" x="729" y="539.3"/><use href="#C34" x="723.6" y="529.5"/><use href="#C34" x="734.8" y="529.7"/><use href="#N40" x="734.6" y="542.6"/><use href="#N40" x="723.3" y="542.4"/><use href="#N40" x="717.9" y="532.6"/><use href="#N40" x="723.7" y="523"/><use href="#N40" x="734.9" y="523.2"/><use href="#N40" x="740.3" y="533"/><use href="#C34" x="740.2" y="539.5"/><use href="#C34" x="717.8" y="539.1"/><use href="#C34" x="729.4" y="519.9"/><use href="#N40" x="802.8" y="577.2"/><use href="#C34" x="797.2" y="580.5"/><use href="#C34" x="802.8" y="570.8"/><use href="#C34" x="808.4" y="580.5"/><use href="#N40" x="797.2" y="586.9"/><use href="#N40" x="791.6" y="577.2"/><use href="#N40" x="797.2" y="567.5"/><use href="#N40" x="808.4" y="567.5"/><use href="#N40" x="814" y="577.2"/><use href="#N40" x="808.4" y="586.9"/><use href="#C34" x="802.8" y="590.2"/><use href="#C34" x="791.6" y="570.8"/><use href="#C34" x="814" y="570.8"/><use href="#N40" x="802.8" y="663.5"/><use href="#C34" x="797.2" y="660.3"/><use href="#C34" x="808.4" y="660.3"/><use href="#C34" x="802.8" y="670"/><use href="#N40" x="791.6" y="663.6"/><use href="#N40" x="797.1" y="653.9"/><use href="#N40" x="808.3" y="653.8"/><use href="#N40" x="814" y="663.5"/><use href="#N40" x="808.5" y="673.2"/><use href="#N40" x="797.2" y="673.3"/><use href="#C34" x="791.6" y="670.1"/><use href="#C34" x="802.7" y="650.6"/><use href="#C34" x="814" y="669.9"/><use href="#N40" x="726.5" y="708.2"/><use href="#C34" x="726.5" y="701.7"/><use href="#C34" x="732.2" y="711.4"/><use href="#C34" x="721" y="711.5"/><use href="#N40" x="720.8" y="698.5"/><use href="#N40" x="732.1" y="698.4"/><use href="#N40" x="737.7" y="708.1"/><use href="#N40" x="732.2" y="717.8"/><use href="#N40" x="721" y="717.9"/><use href="#N40" x="715.3" y="708.3"/><use href="#C34" x="715.3" y="701.8"/><use href="#C34" x="737.7" y="701.6"/><use href="#C34" x="726.6" y="721.1"/><use href="#N40" x="650.3" y="665"/><use href="#C34" x="655.9" y="661.8"/><use href="#C34" x="650.3" y="671.5"/><use href="#C34" x="644.7" y="661.8"/><use href="#N40" x="655.9" y="655.3"/><use href="#N40" x="661.5" y="665"/><use href="#N40" x="655.9" y="674.7"/><use href="#N40" x="644.7" y="674.7"/><use href="#N40" x="639.1" y="665"/><use href="#N40" x="644.7" y="655.3"/><use href="#C34" x="650.3" y="652.1"/><use href="#C34" x="661.5" y="671.5"/><use href="#C34" x="639.1" y="671.5"/><use href="#N40" x="650.3" y="578"/><use href="#C34" x="655.9" y="581.2"/><use href="#C34" x="644.7" y="581.2"/><use href="#C34" x="650.3" y="571.5"/><use href="#N40" x="661.5" y="578"/><use href="#N40" x="655.8" y="587.7"/><use href="#N40" x="644.6" y="587.7"/><use href="#N40" x="639.1" y="577.9"/><use href="#N40" x="644.7" y="568.2"/><use href="#N40" x="655.9" y="568.3"/><use href="#C34" x="661.5" y="571.5"/><use href="#C34" x="650.2" y="590.9"/><use href="#C34" x="639.1" y="571.5"/><use href="#C34" x="760.7" y="552"/><use href="#C34" x="766" y="549"/><use href="#C34" x="771.3" y="552.2"/><use href="#C34" x="771.1" y="558.3"/><use href="#C34" x="765.8" y="561.2"/><use href="#C34" x="760.6" y="558.1"/><use href="#S38" x="773.5" y="542.6"/><use href="#N40" x="775.9" y="548.2"/><use href="#N40" x="767.5" y="543.1"/><use href="#C34" x="747" y="543.6"/><use href="#C34" x="753.9" y="547.8"/><use href="#C34" x="784.8" y="566.6"/><use href="#C34" x="777.9" y="562.5"/><use href="#C34" x="802.8" y="614.3"/><use href="#C34" x="808" y="617.3"/><use href="#C34" x="808" y="623.4"/><use href="#C34" x="802.8" y="626.5"/><use href="#C34" x="797.5" y="623.4"/><use href="#C34" x="797.5" y="617.3"/><use href="#S38" x="788.1" y="620.4"/><use href="#N40" x="791.7" y="615.4"/><use href="#N40" x="791.7" y="625.3"/><use href="#C34" x="802.8" y="598.2"/><use href="#C34" x="802.8" y="606.2"/><use href="#C34" x="802.7" y="642.6"/><use href="#C34" x="802.7" y="634.5"/><use href="#C34" x="769.9" y="682.8"/><use href="#C34" x="770" y="688.9"/><use href="#C34" x="764.7" y="691.9"/><use href="#C34" x="759.4" y="688.9"/><use href="#C34" x="759.4" y="682.8"/><use href="#C34" x="764.6" y="679.7"/><use href="#S38" x="772.1" y="698.5"/><use href="#N40" x="766" y="697.9"/><use href="#N40" x="774.5" y="692.9"/><use href="#C34" x="784.4" y="674.3"/><use href="#C34" x="777.2" y="678.5"/><use href="#C34" x="744.9" y="697.4"/><use href="#C34" x="752.2" y="693.2"/><use href="#C34" x="693.7" y="689.6"/><use href="#C34" x="688.4" y="692.8"/><use href="#C34" x="683.1" y="689.8"/><use href="#C34" x="683.1" y="683.7"/><use href="#C34" x="688.3" y="680.6"/><use href="#C34" x="693.6" y="683.5"/><use href="#S38" x="695.6" y="673.9"/><use href="#N40" x="698.1" y="679.4"/><use href="#N40" x="689.5" y="674.6"/><use href="#C34" x="708.1" y="697.8"/><use href="#C34" x="700.9" y="693.7"/><use href="#C34" x="668.7" y="675.6"/><use href="#C34" x="675.9" y="679.6"/><use href="#C34" x="650.2" y="627.6"/><use href="#C34" x="645" y="624.6"/><use href="#C34" x="645" y="618.5"/><use href="#C34" x="650.2" y="615.4"/><use href="#C34" x="655.5" y="618.4"/><use href="#C34" x="655.5" y="624.5"/><use href="#S38" x="635.6" y="621.5"/><use href="#N40" x="639.2" y="616.6"/><use href="#N40" x="639.2" y="626.4"/><use href="#C34" x="650.3" y="643.9"/><use href="#C34" x="650.3" y="635.8"/><use href="#C34" x="650.2" y="599.1"/><use href="#C34" x="650.2" y="607.2"/><use href="#C34" x="684.4" y="558.4"/><use href="#C34" x="684.4" y="552.3"/><use href="#C34" x="689.7" y="549.2"/><use href="#C34" x="694.9" y="552.3"/><use href="#C34" x="694.9" y="558.4"/><use href="#C34" x="689.7" y="561.4"/><use href="#S38" x="697" y="568"/><use href="#N40" x="690.9" y="567.4"/><use href="#N40" x="699.5" y="562.4"/><use href="#C34" x="669.1" y="567.1"/><use href="#C34" x="676.7" y="562.7"/><use href="#C34" x="710.2" y="543.5"/><use href="#C34" x="702.6" y="547.9"/><use href="#C34" x="729.1" y="513.2"/><use href="#C34" x="729.1" y="506.5"/><use href="#C34" x="729.1" y="499.8"/><use href="#C34" x="724.3" y="492.4"/><use href="#N40" x="717.2" y="495.4"/><use href="#S38" x="713.2" y="489.3"/><use href="#C34" x="736.6" y="493.4"/><use href="#C34" x="726.5" y="728.3"/><use href="#C34" x="726.5" y="735.7"/><use href="#C34" x="726.5" y="743.2"/><use href="#C34" x="718.7" y="749.6"/><use href="#N40" x="713.5" y="746.6"/><use href="#S38" x="708.8" y="752.5"/><use href="#C34" x="731.9" y="749.6"/><use href="#C34" x="637.2" y="562.7"/><use href="#C34" x="631.7" y="557.1"/><use href="#C34" x="627.9" y="551.9"/><use href="#N40" x="625.3" y="544.7"/><use href="#S38" x="622" y="537"/><use href="#C34" x="620.5" y="553.4"/><use href="#C34" x="613.8" y="558.8"/><use href="#C34" x="819.2" y="671.7"/><use href="#C34" x="823.6" y="674.7"/><use href="#C34" x="828.1" y="676.2"/><use href="#C34" x="834.8" y="674.3"/><use href="#N40" x="841.1" y="673.7"/><use href="#S38" x="848" y="672.7"/><use href="#C34" x="830.3" y="683.6"/><use href="#C34" x="832.2" y="690.3"/><use href="#N40" x="876.5" y="538.2"/><use href="#C34" x="871.2" y="534.8"/><use href="#C34" x="882" y="535.2"/><use href="#C34" x="876.2" y="544.4"/><use href="#N40" x="865.6" y="537.8"/><use href="#N40" x="871.4" y="528.6"/><use href="#N40" x="882.2" y="529"/><use href="#N40" x="887.3" y="538.6"/><use href="#N40" x="881.5" y="547.7"/><use href="#N40" x="870.7" y="547.3"/><use href="#C34" x="865.4" y="544"/><use href="#C34" x="876.9" y="525.7"/><use href="#C34" x="887.1" y="544.8"/><use href="#C34" x="845.1" y="554.6"/><use href="#C34" x="844.9" y="560.7"/><use href="#C34" x="839.4" y="563.5"/><use href="#C34" x="834.3" y="560.2"/><use href="#C34" x="834.6" y="554.1"/><use href="#C34" x="840" y="551.3"/><use href="#S38" x="846.5" y="570.4"/><use href="#N40" x="840.4" y="569.5"/><use href="#N40" x="849.2" y="564.9"/><use href="#C34" x="858.7" y="547.5"/><use href="#C34" x="851.9" y="551.1"/><use href="#C34" x="820.8" y="567.2"/><use href="#C34" x="827.5" y="563.7"/><use href="#C34" x="876.5" y="518.4"/><use href="#C34" x="876.5" y="511.8"/><use href="#C34" x="876.5" y="505.1"/><use href="#C34" x="869.8" y="499.1"/><use href="#N40" x="864.6" y="501.1"/><use href="#S38" x="860.8" y="494.6"/><use href="#C34" x="882.4" y="499.1"/><use href="#C34" x="895.4" y="548.1"/><use href="#C34" x="901" y="551.7"/><use href="#C34" x="907.7" y="554.2"/><use href="#N40" x="913.2" y="547.2"/><use href="#S38" x="921" y="546.3"/><use href="#C34" x="907" y="560.9"/><use href="#C34" x="906.2" y="566.8"/><use href="#S38" x="898.8" y="556.4"/><use href="#N40" x="561" y="707.4"/><use href="#C34" x="566.3" y="711.1"/><use href="#C34" x="555.1" y="710.2"/><use href="#C34" x="561.5" y="701"/><use href="#N40" x="572.2" y="708.3"/><use href="#N40" x="565.8" y="717.6"/><use href="#N40" x="554.6" y="716.7"/><use href="#N40" x="549.8" y="706.5"/><use href="#N40" x="556.2" y="697.3"/><use href="#N40" x="567.3" y="698.2"/><use href="#C34" x="572.7" y="701.9"/><use href="#C34" x="559.9" y="720.3"/><use href="#C34" x="550.3" y="700.1"/><use href="#C34" x="600.3" y="689.2"/><use href="#C34" x="600.9" y="683.2"/><use href="#C34" x="606.4" y="680.6"/><use href="#C34" x="611.4" y="684.2"/><use href="#C34" x="610.8" y="690.2"/><use href="#C34" x="605.3" y="692.8"/><use href="#S38" x="612" y="700"/><use href="#N40" x="606" y="698.8"/><use href="#N40" x="615" y="694.7"/><use href="#C34" x="581.9" y="697.7"/><use href="#C34" x="591.1" y="693.4"/><use href="#C34" x="629.8" y="675.7"/><use href="#C34" x="620.6" y="679.9"/><use href="#C34" x="547.5" y="691.5"/><use href="#C34" x="544.6" y="682.9"/><use href="#N40" x="543.1" y="676.3"/><use href="#S38" x="539.9" y="669.9"/><use href="#C34" x="537.5" y="682"/><use href="#C34" x="532.7" y="688.5"/><use href="#C34" x="559.3" y="729.1"/><use href="#C34" x="558.8" y="737.9"/><use href="#N40" x="556.9" y="746.4"/><use href="#S38" x="552.1" y="754.5"/><use href="#C34" x="565.4" y="745.4"/><use href="#C34" x="564" y="752.8"/><path d="M730.1 526.7L730 533.7M730.1 526.7L724.2 523.2M730.1 526.7L736.2 523.4M741.9 533.9L735.9 537.2M741.9 533.9L742.1 527M735.9 537.2L730 533.7M742.1 527L736.2 523.4M718 533.4L718.1 526.5M718 533.4L723.9 537M718.1 526.5L724.2 523.2M723.9 537L730 533.7M730.4 512.9L736.3 516.5M730.4 512.9L724.3 516.3M736.3 516.5L736.2 523.4M724.3 516.3L724.2 523.2M808.8 574.2L802.8 577.7M808.8 574.2L808.8 567.3M808.8 574.2L814.8 577.7M808.8 588L802.8 584.6M808.8 588L814.8 584.6M802.8 584.6L802.8 577.7M814.8 584.6L814.8 577.7M796.8 567.3L802.8 563.8M796.8 567.3L796.8 574.2M802.8 563.8L808.8 567.3M796.8 574.2L802.8 577.7M820.8 567.3L820.8 574.2M820.8 567.3L814.8 563.8M820.8 574.2L814.8 577.7M814.8 563.8L808.8 567.3M808.8 666.4L802.8 663M808.8 666.4L814.8 662.9M808.8 666.4L808.8 673.3M796.9 673.4L796.8 666.5M796.9 673.4L802.9 676.8M796.8 666.5L802.8 663M802.9 676.8L808.8 673.3M808.7 652.6L814.7 656M808.7 652.6L802.7 656.1M814.7 656L814.8 662.9M802.7 656.1L802.8 663M820.8 673.3L814.9 676.8M820.8 673.3L820.8 666.3M814.9 676.8L808.8 673.3M820.8 666.3L814.8 662.9M727.3 714.1L727.3 707.2M727.3 714.1L733.3 717.5M727.3 714.1L721.4 717.6M715.3 707.3L721.2 703.8M715.3 707.3L715.3 714.2M721.2 703.8L727.3 707.2M715.3 714.2L721.4 717.6M739.2 707.1L739.3 714M739.2 707.1L733.2 703.7M739.3 714L733.3 717.5M733.2 703.7L727.3 707.2M727.4 727.9L721.4 724.5M727.4 727.9L733.4 724.4M721.4 724.5L721.4 717.6M733.4 724.4L733.3 717.5M645.8 668L651.8 664.5M645.8 668L645.8 674.9M645.8 668L639.9 664.5M645.8 654.2L651.8 657.6M645.8 654.2L639.9 657.6M651.8 657.6L651.8 664.5M639.9 657.6L639.9 664.5M657.8 674.9L651.8 678.4M657.8 674.9L657.8 668M651.8 678.4L645.8 674.9M657.8 668L651.8 664.5M633.9 674.9L633.9 668M633.9 674.9L639.9 678.4M633.9 668L639.9 664.5M639.9 678.4L645.8 674.9M645.8 575L651.8 578.5M645.8 575L639.8 578.4M645.8 575L645.9 568.1M657.8 568.1L657.8 575M657.8 568.1L651.9 564.6M657.8 575L651.8 578.5M651.9 564.6L645.9 568.1M645.8 588.8L639.8 585.3M645.8 588.8L651.8 585.4M639.8 585.3L639.8 578.4M651.8 585.4L651.8 578.5M633.9 568L639.9 564.6M633.9 568L633.9 575M639.9 564.6L645.9 568.1M633.9 575L639.8 578.4M763.8 547.2L769.5 544.1M769.5 544.1L775.1 547.5M775.1 547.5L775 554M775 554L769.2 557.1M769.2 557.1L763.7 553.7M763.7 553.7L763.8 547.2M775.1 547.5L780 543.2M780 543.2L777.5 537.2M769.5 544.1L771 537.7M771 537.7L777.5 537.2M741.9 533.9L749.2 538.3M749.2 538.3L756.5 542.8M756.5 542.8L763.8 547.2M796.8 567.3L789.5 562.9M789.5 562.9L782.2 558.4M782.2 558.4L775 554M808.8 613.8L814.4 617.1M814.4 617.1L814.4 623.6M814.4 623.6L808.7 626.8M808.7 626.8L803.1 623.6M803.1 623.6L803.1 617M803.1 617L808.8 613.8M803.1 617L796.9 615M796.9 615L793.1 620.3M803.1 623.6L796.9 625.6M796.9 625.6L793.1 620.3M808.8 588L808.8 596.6M808.8 596.6L808.8 605.2M808.8 605.2L808.8 613.8M808.7 652.6L808.7 644M808.7 644L808.7 635.4M808.7 635.4L808.7 626.8M773.7 687L773.7 693.5M773.7 693.5L768.1 696.8M768.1 696.8L762.4 693.5M762.4 693.5L762.4 687M762.4 687L768 683.7M768 683.7L773.7 687M768.1 696.8L769.5 703.1M769.5 703.1L776 703.8M773.7 693.5L778.6 697.8M778.6 697.8L776 703.8M796.9 673.4L789.1 677.9M789.1 677.9L781.4 682.4M781.4 682.4L773.7 687M739.2 707.1L747 702.6M747 702.6L754.7 698.1M754.7 698.1L762.4 693.5M692.2 694.3L686.6 697.6M686.6 697.6L680.9 694.4M680.9 694.4L680.9 687.9M680.9 687.9L686.5 684.6M686.5 684.6L692.2 687.8M692.2 687.8L692.2 694.3M692.2 687.8L697 683.4M697 683.4L694.2 677.5M686.5 684.6L687.8 678.2M687.8 678.2L694.2 677.5M715.3 707.3L707.6 703M707.6 703L699.9 698.6M699.9 698.6L692.2 694.3M657.8 674.9L665.5 679.2M665.5 679.2L673.2 683.6M673.2 683.6L680.9 687.9M645.8 628L640.2 624.8M640.2 624.8L640.2 618.2M640.2 618.2L645.8 615M645.8 615L651.5 618.2M651.5 618.2L651.5 624.8M651.5 624.8L645.8 628M640.2 618.2L634 616.2M634 616.2L630.1 621.5M640.2 624.8L634 626.8M634 626.8L630.1 621.5M645.8 654.2L645.8 645.5M645.8 645.5L645.8 636.7M645.8 636.7L645.8 628M645.8 588.8L645.8 597.5M645.8 597.5L645.8 606.3M645.8 606.3L645.8 615M682.3 554L682.3 547.5M682.3 547.5L687.9 544.3M687.9 544.3L693.6 547.5M693.6 547.5L693.6 554M693.6 554L687.9 557.3M687.9 557.3L682.3 554M687.9 557.3L689.3 563.7M689.3 563.7L695.8 564.4M693.6 554L698.4 558.4M698.4 558.4L695.8 564.4M657.8 568.1L666 563.4M666 563.4L674.1 558.7M674.1 558.7L682.3 554M718 533.4L709.9 538.1M709.9 538.1L701.7 542.8M701.7 542.8L693.6 547.5M730.4 512.9L730.1 505.8M730.1 505.8L730.1 498.7M730.1 498.7L730.1 491.5M730.1 491.5L724.9 483.6M724.9 483.6L717.4 486.8M717.4 486.8L713.1 480.2M730.1 491.5L738.1 484.6M727.4 727.9L727.3 735.6M727.3 735.6L727.3 743.5M727.3 743.5L727.3 751.5M727.3 751.5L719 758.4M719 758.4L713.4 755.2M713.4 755.2L708.4 761.5M727.3 751.5L733 758.4M633.9 568L631.9 558.7M631.9 558.7L626 552.7M626 552.7L622 547.2M622 547.2L619.1 539.5M619.1 539.5L615.6 531.2M622 547.2L614 548.8M614 548.8L606.9 554.5M820.8 673.3L826.3 675.2M826.3 675.2L831.1 678.3M831.1 678.3L835.8 679.9M835.8 679.9L843 677.9M843 677.9L849.7 677.3M849.7 677.3L857.1 676.2M835.8 679.9L838.2 687.9M838.2 687.9L840.2 695M887.5 532.5L881.8 528.9M887.5 532.5L893.4 529.3M887.5 532.5L887.3 539.1M875.7 538.7L875.9 532.1M875.7 538.7L881.4 542.3M875.9 532.1L881.8 528.9M881.4 542.3L887.3 539.1M888 519.1L893.6 522.7M888 519.1L882.1 522.3M893.6 522.7L893.4 529.3M882.1 522.3L881.8 528.9M898.8 539.6L892.9 542.7M898.8 539.6L899.1 532.9M892.9 542.7L887.3 539.1M899.1 532.9L893.4 529.3M854 550L853.7 556.5M853.7 556.5L848 559.5M848 559.5L842.5 556M842.5 556L842.7 549.5M842.7 549.5L848.5 546.5M848.5 546.5L854 550M848 559.5L849 565.9M849 565.9L855.5 566.9M853.7 556.5L858.4 561.1M858.4 561.1L855.5 566.9M875.7 538.7L868.5 542.5M868.5 542.5L861.2 546.2M861.2 546.2L854 550M820.8 567.3L828 563.5M828 563.5L835.2 559.8M835.2 559.8L842.5 556M888 519.1L887.5 511.4M887.5 511.4L887.5 504.3M887.5 504.3L887.5 497.1M887.5 497.1L880.3 490.7M880.3 490.7L874.8 492.9M874.8 492.9L870.7 486M887.5 497.1L893.9 490.7M898.8 539.6L907.8 543M907.8 543L913.7 546.9M913.7 546.9L920.9 549.6M920.9 549.6L926.8 542.1M926.8 542.1L935 541.1M920.9 549.6L920.1 556.7M920.1 556.7L919.3 563.1M898.8 539.6L911.3 551.9M550.5 713.3L556.1 717.2M550.5 713.3L544.2 716.3M550.5 713.3L551 706.4M562.9 707.4L562.4 714.3M562.9 707.4L557.3 703.5M562.4 714.3L556.1 717.2M557.3 703.5L551 706.4M549.3 727.1L543.7 723.2M549.3 727.1L555.6 724.1M543.7 723.2L544.2 716.3M555.6 724.1L556.1 717.2M539.1 705.5L545.3 702.5M539.1 705.5L538.5 712.4M545.3 702.5L551 706.4M538.5 712.4L544.2 716.3M592.5 693.9L593.1 687.4M593.1 687.4L599 684.7M599 684.7L604.3 688.4M604.3 688.4L603.7 694.9M603.7 694.9L597.8 697.6M597.8 697.6L592.5 693.9M597.8 697.6L598.5 704.1M598.5 704.1L604.9 705.4M603.7 694.9L608.1 699.7M608.1 699.7L604.9 705.4M562.9 707.4L572.8 702.9M572.8 702.9L582.6 698.4M582.6 698.4L592.5 693.9M633.9 674.9L624 679.4M624 679.4L614.2 683.9M614.2 683.9L604.3 688.4M539.1 705.5L536 696.3M536 696.3L533 687.1M533 687.1L531.4 680.1M531.4 680.1L528 673.2M533 687.1L525.4 686.1M525.4 686.1L520.2 693M549.3 727.1L548.7 736.5M548.7 736.5L548.1 745.9M548.1 745.9L546.1 755M546.1 755L540.9 763.6M548.1 745.9L555.2 753.9M555.2 753.9L553.6 761.8" stroke="#6a6a6a" stroke-width="2.9" stroke-linecap="round" fill="none"/><use href="#C30" x="766.7" y="545.6"/><use href="#C30" x="772.3" y="545.8"/><use href="#C30" x="775" y="550.7"/><use href="#C30" x="772.1" y="555.5"/><use href="#C30" x="766.4" y="555.4"/><use href="#C30" x="763.7" y="550.5"/><use href="#C30" x="745.6" y="536.1"/><use href="#C30" x="752.9" y="540.5"/><use href="#C30" x="760.2" y="545"/><use href="#C30" x="793.2" y="565.1"/><use href="#C30" x="785.9" y="560.6"/><use href="#C30" x="778.6" y="556.2"/><use href="#C30" x="811.6" y="615.4"/><use href="#C30" x="814.4" y="620.3"/><use href="#C30" x="811.6" y="625.2"/><use href="#C30" x="805.9" y="625.2"/><use href="#C30" x="803.1" y="620.3"/><use href="#C30" x="805.9" y="615.4"/><use href="#C30" x="808.8" y="592.3"/><use href="#C30" x="808.8" y="600.9"/><use href="#C30" x="808.8" y="609.5"/><use href="#C30" x="808.7" y="648.3"/><use href="#C30" x="808.7" y="639.7"/><use href="#C30" x="808.7" y="631.1"/><use href="#C30" x="773.7" y="690.2"/><use href="#C30" x="770.9" y="695.1"/><use href="#C30" x="765.3" y="695.1"/><use href="#C30" x="762.4" y="690.3"/><use href="#C30" x="765.2" y="685.4"/><use href="#C30" x="770.8" y="685.3"/><use href="#C30" x="793" y="675.7"/><use href="#C30" x="785.3" y="680.2"/><use href="#C30" x="777.5" y="684.7"/><use href="#C30" x="743.1" y="704.8"/><use href="#C30" x="750.8" y="700.3"/><use href="#C30" x="758.6" y="695.8"/><use href="#C30" x="689.4" y="696"/><use href="#C30" x="683.8" y="696"/><use href="#C30" x="680.9" y="691.2"/><use href="#C30" x="683.7" y="686.2"/><use href="#C30" x="689.3" y="686.2"/><use href="#C30" x="692.2" y="691"/><use href="#C30" x="711.4" y="705.1"/><use href="#C30" x="703.8" y="700.8"/><use href="#C30" x="696.1" y="696.5"/><use href="#C30" x="661.7" y="677.1"/><use href="#C30" x="669.3" y="681.4"/><use href="#C30" x="677" y="685.7"/><use href="#C30" x="643" y="626.4"/><use href="#C30" x="640.2" y="621.5"/><use href="#C30" x="643" y="616.6"/><use href="#C30" x="648.6" y="616.6"/><use href="#C30" x="651.5" y="621.5"/><use href="#C30" x="648.6" y="626.4"/><use href="#C30" x="645.8" y="649.8"/><use href="#C30" x="645.8" y="641.1"/><use href="#C30" x="645.8" y="632.4"/><use href="#C30" x="645.8" y="593.2"/><use href="#C30" x="645.8" y="601.9"/><use href="#C30" x="645.8" y="610.6"/><use href="#C30" x="682.3" y="550.8"/><use href="#C30" x="685.1" y="545.9"/><use href="#C30" x="690.7" y="545.9"/><use href="#C30" x="693.6" y="550.8"/><use href="#C30" x="690.7" y="555.7"/><use href="#C30" x="685.1" y="555.7"/><use href="#C30" x="661.9" y="565.8"/><use href="#C30" x="670.1" y="561.1"/><use href="#C30" x="678.2" y="556.4"/><use href="#C30" x="713.9" y="535.8"/><use href="#C30" x="705.8" y="540.5"/><use href="#C30" x="697.6" y="545.2"/><use href="#C30" x="730.2" y="509.4"/><use href="#C30" x="730.1" y="502.3"/><use href="#C30" x="730.1" y="495.1"/><use href="#C30" x="727.5" y="487.6"/><use href="#C30" x="734.1" y="488.1"/><use href="#C30" x="727.4" y="731.8"/><use href="#C30" x="727.3" y="739.5"/><use href="#C30" x="727.3" y="747.5"/><use href="#C30" x="723.1" y="754.9"/><use href="#C30" x="730.2" y="754.9"/><use href="#C30" x="632.9" y="563.4"/><use href="#C30" x="629" y="555.7"/><use href="#C30" x="624" y="550"/><use href="#C30" x="618" y="548"/><use href="#C30" x="610.5" y="551.6"/><use href="#C30" x="823.6" y="674.2"/><use href="#C30" x="828.7" y="676.7"/><use href="#C30" x="839.4" y="678.9"/><use href="#C30" x="837" y="683.9"/><use href="#C30" x="839.2" y="691.5"/><use href="#C30" x="853.9" y="553.3"/><use href="#C30" x="850.8" y="558"/><use href="#C30" x="845.2" y="557.8"/><use href="#C30" x="842.6" y="552.8"/><use href="#C30" x="845.6" y="548"/><use href="#C30" x="851.3" y="548.2"/><use href="#C30" x="872.1" y="540.6"/><use href="#C30" x="864.9" y="544.4"/><use href="#C30" x="857.6" y="548.1"/><use href="#C30" x="824.4" y="565.4"/><use href="#C30" x="831.6" y="561.7"/><use href="#C30" x="838.8" y="557.9"/><use href="#C30" x="887.7" y="515.3"/><use href="#C30" x="887.5" y="507.8"/><use href="#C30" x="887.5" y="500.7"/><use href="#C30" x="883.9" y="493.9"/><use href="#C30" x="890.7" y="493.9"/><use href="#C30" x="903.3" y="541.3"/><use href="#C30" x="910.7" y="545"/><use href="#C30" x="917.3" y="548.2"/><use href="#C30" x="920.5" y="553.1"/><use href="#C30" x="919.7" y="559.9"/><use href="#C30" x="592.8" y="690.6"/><use href="#C30" x="596.1" y="686"/><use href="#C30" x="601.7" y="686.5"/><use href="#C30" x="604" y="691.7"/><use href="#C30" x="600.8" y="696.3"/><use href="#C30" x="595.1" y="695.7"/><use href="#C30" x="567.9" y="705.1"/><use href="#C30" x="577.7" y="700.6"/><use href="#C30" x="587.6" y="696.1"/><use href="#C30" x="628.9" y="677.2"/><use href="#C30" x="619.1" y="681.7"/><use href="#C30" x="609.3" y="686.2"/><use href="#C30" x="537.5" y="700.9"/><use href="#C30" x="534.5" y="691.7"/><use href="#C30" x="529.2" y="686.6"/><use href="#C30" x="522.8" y="689.6"/><use href="#C30" x="549" y="731.8"/><use href="#C30" x="548.4" y="741.2"/><use href="#C30" x="551.6" y="749.9"/><use href="#C30" x="554.4" y="757.8"/><use href="#N41" x="730.1" y="526.7"/><use href="#C35" x="730" y="533.7"/><use href="#C35" x="724.2" y="523.2"/><use href="#C35" x="736.2" y="523.4"/><use href="#N41" x="735.9" y="537.2"/><use href="#N41" x="723.9" y="537"/><use href="#N41" x="718.1" y="526.5"/><use href="#N41" x="724.3" y="516.3"/><use href="#N41" x="736.3" y="516.5"/><use href="#N41" x="742.1" y="527"/><use href="#C35" x="741.9" y="533.9"/><use href="#C35" x="718" y="533.4"/><use href="#C35" x="730.4" y="512.9"/><use href="#N41" x="808.8" y="574.2"/><use href="#C35" x="802.8" y="577.7"/><use href="#C35" x="808.8" y="567.3"/><use href="#C35" x="814.8" y="577.7"/><use href="#N41" x="802.8" y="584.6"/><use href="#N41" x="796.8" y="574.2"/><use href="#N41" x="802.8" y="563.8"/><use href="#N41" x="814.8" y="563.8"/><use href="#N41" x="820.8" y="574.2"/><use href="#N41" x="814.8" y="584.6"/><use href="#C35" x="808.8" y="588"/><use href="#C35" x="796.8" y="567.3"/><use href="#C35" x="820.8" y="567.3"/><use href="#N41" x="808.8" y="666.4"/><use href="#C35" x="802.8" y="663"/><use href="#C35" x="814.8" y="662.9"/><use href="#C35" x="808.8" y="673.3"/><use href="#N41" x="796.8" y="666.5"/><use href="#N41" x="802.7" y="656.1"/><use href="#N41" x="814.7" y="656"/><use href="#N41" x="820.8" y="666.3"/><use href="#N41" x="814.9" y="676.8"/><use href="#N41" x="802.9" y="676.8"/><use href="#C35" x="796.9" y="673.4"/><use href="#C35" x="808.7" y="652.6"/><use href="#C35" x="820.8" y="673.3"/><use href="#N41" x="727.3" y="714.1"/><use href="#C35" x="727.3" y="707.2"/><use href="#C35" x="733.3" y="717.5"/><use href="#C35" x="721.4" y="717.6"/><use href="#N41" x="721.2" y="703.8"/><use href="#N41" x="733.2" y="703.7"/><use href="#N41" x="739.3" y="714"/><use href="#N41" x="733.4" y="724.4"/><use href="#N41" x="721.4" y="724.5"/><use href="#N41" x="715.3" y="714.2"/><use href="#C35" x="715.3" y="707.3"/><use href="#C35" x="739.2" y="707.1"/><use href="#C35" x="727.4" y="727.9"/><use href="#N41" x="645.8" y="668"/><use href="#C35" x="651.8" y="664.5"/><use href="#C35" x="645.8" y="674.9"/><use href="#C35" x="639.9" y="664.5"/><use href="#N41" x="651.8" y="657.6"/><use href="#N41" x="657.8" y="668"/><use href="#N41" x="651.8" y="678.4"/><use href="#N41" x="639.9" y="678.4"/><use href="#N41" x="633.9" y="668"/><use href="#N41" x="639.9" y="657.6"/><use href="#C35" x="645.8" y="654.2"/><use href="#C35" x="657.8" y="674.9"/><use href="#C35" x="633.9" y="674.9"/><use href="#N41" x="645.8" y="575"/><use href="#C35" x="651.8" y="578.5"/><use href="#C35" x="639.8" y="578.4"/><use href="#C35" x="645.9" y="568.1"/><use href="#N41" x="657.8" y="575"/><use href="#N41" x="651.8" y="585.4"/><use href="#N41" x="639.8" y="585.3"/><use href="#N41" x="633.9" y="575"/><use href="#N41" x="639.9" y="564.6"/><use href="#N41" x="651.9" y="564.6"/><use href="#C35" x="657.8" y="568.1"/><use href="#C35" x="645.8" y="588.8"/><use href="#C35" x="633.9" y="568"/><use href="#C35" x="763.8" y="547.2"/><use href="#C35" x="769.5" y="544.1"/><use href="#C35" x="775.1" y="547.5"/><use href="#C35" x="775" y="554"/><use href="#C35" x="769.2" y="557.1"/><use href="#C35" x="763.7" y="553.7"/><use href="#S39" x="777.5" y="537.2"/><use href="#N41" x="780" y="543.2"/><use href="#N41" x="771" y="537.7"/><use href="#C35" x="749.2" y="538.3"/><use href="#C35" x="756.5" y="542.8"/><use href="#C35" x="789.5" y="562.9"/><use href="#C35" x="782.2" y="558.4"/><use href="#C35" x="808.8" y="613.8"/><use href="#C35" x="814.4" y="617.1"/><use href="#C35" x="814.4" y="623.6"/><use href="#C35" x="808.7" y="626.8"/><use href="#C35" x="803.1" y="623.6"/><use href="#C35" x="803.1" y="617"/><use href="#S39" x="793.1" y="620.3"/><use href="#N41" x="796.9" y="615"/><use href="#N41" x="796.9" y="625.6"/><use href="#C35" x="808.8" y="596.6"/><use href="#C35" x="808.8" y="605.2"/><use href="#C35" x="808.7" y="644"/><use href="#C35" x="808.7" y="635.4"/><use href="#C35" x="773.7" y="687"/><use href="#C35" x="773.7" y="693.5"/><use href="#C35" x="768.1" y="696.8"/><use href="#C35" x="762.4" y="693.5"/><use href="#C35" x="762.4" y="687"/><use href="#C35" x="768" y="683.7"/><use href="#S39" x="776" y="703.8"/><use href="#N41" x="769.5" y="703.1"/><use href="#N41" x="778.6" y="697.8"/><use href="#C35" x="789.1" y="677.9"/><use href="#C35" x="781.4" y="682.4"/><use href="#C35" x="747" y="702.6"/><use href="#C35" x="754.7" y="698.1"/><use href="#C35" x="692.2" y="694.3"/><use href="#C35" x="686.6" y="697.6"/><use href="#C35" x="680.9" y="694.4"/><use href="#C35" x="680.9" y="687.9"/><use href="#C35" x="686.5" y="684.6"/><use href="#C35" x="692.2" y="687.8"/><use href="#S39" x="694.2" y="677.5"/><use href="#N41" x="697" y="683.4"/><use href="#N41" x="687.8" y="678.2"/><use href="#C35" x="707.6" y="703"/><use href="#C35" x="699.9" y="698.6"/><use href="#C35" x="665.5" y="679.2"/><use href="#C35" x="673.2" y="683.6"/><use href="#C35" x="645.8" y="628"/><use href="#C35" x="640.2" y="624.8"/><use href="#C35" x="640.2" y="618.2"/><use href="#C35" x="645.8" y="615"/><use href="#C35" x="651.5" y="618.2"/><use href="#C35" x="651.5" y="624.8"/><use href="#S39" x="630.1" y="621.5"/><use href="#N41" x="634" y="616.2"/><use href="#N41" x="634" y="626.8"/><use href="#C35" x="645.8" y="645.5"/><use href="#C35" x="645.8" y="636.7"/><use href="#C35" x="645.8" y="597.5"/><use href="#C35" x="645.8" y="606.3"/><use href="#C35" x="682.3" y="554"/><use href="#C35" x="682.3" y="547.5"/><use href="#C35" x="687.9" y="544.3"/><use href="#C35" x="693.6" y="547.5"/><use href="#C35" x="693.6" y="554"/><use href="#C35" x="687.9" y="557.3"/><use href="#S39" x="695.8" y="564.4"/><use href="#N41" x="689.3" y="563.7"/><use href="#N41" x="698.4" y="558.4"/><use href="#C35" x="666" y="563.4"/><use href="#C35" x="674.1" y="558.7"/><use href="#C35" x="709.9" y="538.1"/><use href="#C35" x="701.7" y="542.8"/><use href="#C35" x="730.1" y="505.8"/><use href="#C35" x="730.1" y="498.7"/><use href="#C35" x="730.1" y="491.5"/><use href="#C35" x="724.9" y="483.6"/><use href="#N41" x="717.4" y="486.8"/><use href="#S39" x="713.1" y="480.2"/><use href="#C35" x="738.1" y="484.6"/><use href="#C35" x="727.3" y="735.6"/><use href="#C35" x="727.3" y="743.5"/><use href="#C35" x="727.3" y="751.5"/><use href="#C35" x="719" y="758.4"/><use href="#N41" x="713.4" y="755.2"/><use href="#S39" x="708.4" y="761.5"/><use href="#C35" x="733" y="758.4"/><use href="#C35" x="631.9" y="558.7"/><use href="#C35" x="626" y="552.7"/><use href="#C35" x="622" y="547.2"/><use href="#N41" x="619.1" y="539.5"/><use href="#S39" x="615.6" y="531.2"/><use href="#C35" x="614" y="548.8"/><use href="#C35" x="606.9" y="554.5"/><use href="#C35" x="826.3" y="675.2"/><use href="#C35" x="831.1" y="678.3"/><use href="#C35" x="835.8" y="679.9"/><use href="#C35" x="843" y="677.9"/><use href="#N41" x="849.7" y="677.3"/><use href="#S39" x="857.1" y="676.2"/><use href="#C35" x="838.2" y="687.9"/><use href="#C35" x="840.2" y="695"/><use href="#N41" x="887.5" y="532.5"/><use href="#C35" x="881.8" y="528.9"/><use href="#C35" x="893.4" y="529.3"/><use href="#C35" x="887.3" y="539.1"/><use href="#N41" x="875.9" y="532.1"/><use href="#N41" x="882.1" y="522.3"/><use href="#N41" x="893.6" y="522.7"/><use href="#N41" x="899.1" y="532.9"/><use href="#N41" x="892.9" y="542.7"/><use href="#N41" x="881.4" y="542.3"/><use href="#C35" x="875.7" y="538.7"/><use href="#C35" x="888" y="519.1"/><use href="#C35" x="898.8" y="539.6"/><use href="#C35" x="854" y="550"/><use href="#C35" x="853.7" y="556.5"/><use href="#C35" x="848" y="559.5"/><use href="#C35" x="842.5" y="556"/><use href="#C35" x="842.7" y="549.5"/><use href="#C35" x="848.5" y="546.5"/><use href="#S39" x="855.5" y="566.9"/><use href="#N41" x="849" y="565.9"/><use href="#N41" x="858.4" y="561.1"/><use href="#C35" x="868.5" y="542.5"/><use href="#C35" x="861.2" y="546.2"/><use href="#C35" x="828" y="563.5"/><use href="#C35" x="835.2" y="559.8"/><use href="#C35" x="887.5" y="511.4"/><use href="#C35" x="887.5" y="504.3"/><use href="#C35" x="887.5" y="497.1"/><use href="#C35" x="880.3" y="490.7"/><use href="#N41" x="874.8" y="492.9"/><use href="#S39" x="870.7" y="486"/><use href="#C35" x="893.9" y="490.7"/><use href="#C35" x="907.8" y="543"/><use href="#C35" x="913.7" y="546.9"/><use href="#C35" x="920.9" y="549.6"/><use href="#N41" x="926.8" y="542.1"/><use href="#S39" x="935" y="541.1"/><use href="#C35" x="920.1" y="556.7"/><use href="#C35" x="919.3" y="563.1"/><use href="#S39" x="911.3" y="551.9"/><use href="#N41" x="550.5" y="713.3"/><use href="#C35" x="556.1" y="717.2"/><use href="#C35" x="544.2" y="716.3"/><use href="#C35" x="551" y="706.4"/><use href="#N41" x="562.4" y="714.3"/><use href="#N41" x="555.6" y="724.1"/><use href="#N41" x="543.7" y="723.2"/><use href="#N41" x="538.5" y="712.4"/><use href="#N41" x="545.3" y="702.5"/><use href="#N41" x="557.3" y="703.5"/><use href="#C35" x="562.9" y="707.4"/><use href="#C35" x="549.3" y="727.1"/><use href="#C35" x="539.1" y="705.5"/><use href="#C35" x="592.5" y="693.9"/><use href="#C35" x="593.1" y="687.4"/><use href="#C35" x="599" y="684.7"/><use href="#C35" x="604.3" y="688.4"/><use href="#C35" x="603.7" y="694.9"/><use href="#C35" x="597.8" y="697.6"/><use href="#S39" x="604.9" y="705.4"/><use href="#N41" x="598.5" y="704.1"/><use href="#N41" x="608.1" y="699.7"/><use href="#C35" x="572.8" y="702.9"/><use href="#C35" x="582.6" y="698.4"/><use href="#C35" x="624" y="679.4"/><use href="#C35" x="614.2" y="683.9"/><use href="#C35" x="536" y="696.3"/><use href="#C35" x="533" y="687.1"/><use href="#N41" x="531.4" y="680.1"/><use href="#S39" x="528" y="673.2"/><use href="#C35" x="525.4" y="686.1"/><use href="#C35" x="520.2" y="693"/><use href="#C35" x="548.7" y="736.5"/><use href="#C35" x="548.1" y="745.9"/><use href="#N41" x="546.1" y="755"/><use href="#S39" x="540.9" y="763.6"/><use href="#C35" x="555.2" y="753.9"/><use href="#C35" x="553.6" y="761.8"/><path d="M731.2 519.8L731.1 527.2M731.2 519.8L724.9 516M731.2 519.8L737.7 516.2M743.9 527.5L737.4 531M743.9 527.5L744.1 520M737.4 531L731.1 527.2M744.1 520L737.7 516.2M718.2 527L718.4 519.5M718.2 527L724.6 530.8M718.4 519.5L724.9 516M724.6 530.8L731.1 527.2M731.5 504.9L737.9 508.8M731.5 504.9L725 508.5M737.9 508.8L737.7 516.2M725 508.5L724.9 516M815.7 570.7L809.3 574.4M815.7 570.7L815.7 563.3M815.7 570.7L822.1 574.4M815.7 585.6L809.3 581.9M815.7 585.6L822.1 581.9M809.3 581.9L809.3 574.4M822.1 581.9L822.1 574.4M802.8 563.3L809.3 559.6M802.8 563.3L802.8 570.7M809.3 559.6L815.7 563.3M802.8 570.7L809.3 574.4M828.5 563.3L828.5 570.7M828.5 563.3L822.1 559.6M828.5 570.7L822.1 574.4M822.1 559.6L815.7 563.3M815.7 669.7L809.2 666M815.7 669.7L822.1 666M815.7 669.7L815.7 677.1M802.9 677.2L802.8 669.8M802.9 677.2L809.3 680.9M802.8 669.8L809.2 666M809.3 680.9L815.7 677.1M815.6 654.9L822 658.5M815.6 654.9L809.2 658.6M822 658.5L822.1 666M809.2 658.6L809.2 666M828.6 677.1L822.2 680.8M828.6 677.1L828.5 669.6M822.2 680.8L815.7 677.1M828.5 669.6L822.1 666M728.2 720.9L728.2 713.5M728.2 720.9L734.7 724.6M728.2 720.9L721.8 724.7M715.3 713.6L721.7 709.8M715.3 713.6L715.4 721M721.7 709.8L728.2 713.5M715.4 721L721.8 724.7M741 713.4L741.1 720.8M741 713.4L734.6 709.7M741.1 720.8L734.7 724.6M734.6 709.7L728.2 713.5M728.4 735.7L721.9 732.1M728.4 735.7L734.8 732M721.9 732.1L721.8 724.7M734.8 732L734.7 724.6M640.8 671.4L647.2 667.7M640.8 671.4L640.8 678.8M640.8 671.4L634.3 667.7M640.8 656.6L647.2 660.3M640.8 656.6L634.3 660.3M647.2 660.3L647.2 667.7M634.3 660.3L634.3 667.7M653.6 678.8L647.2 682.5M653.6 678.8L653.6 671.4M647.2 682.5L640.8 678.8M653.6 671.4L647.2 667.7M627.9 678.8L627.9 671.4M627.9 678.8L634.3 682.5M627.9 671.4L634.3 667.7M634.3 682.5L640.8 678.8M640.8 571.6L647.2 575.3M640.8 571.6L634.3 575.3M640.8 571.6L640.8 564.2M653.7 564.2L653.6 571.6M653.7 564.2L647.2 560.5M653.6 571.6L647.2 575.3M647.2 560.5L640.8 564.2M640.7 586.4L634.3 582.7M640.7 586.4L647.2 582.7M634.3 582.7L634.3 575.3M647.2 582.7L647.2 575.3M627.9 564.1L634.4 560.4M627.9 564.1L627.9 571.5M634.4 560.4L640.8 564.2M627.9 571.5L634.3 575.3M767.4 541.7L773.5 538.4M773.5 538.4L779.5 542M779.5 542L779.4 549M779.4 549L773.2 552.4M773.2 552.4L767.2 548.7M767.2 548.7L767.4 541.7M779.5 542L784.8 537.5M784.8 537.5L782.1 531M773.5 538.4L775.1 531.6M775.1 531.6L782.1 531M743.9 527.5L751.7 532.2M751.7 532.2L759.6 537M759.6 537L767.4 541.7M802.8 563.3L795 558.5M795 558.5L787.2 553.8M787.2 553.8L779.4 549M815.6 613.2L821.7 616.7M821.7 616.7L821.7 623.7M821.7 623.7L815.6 627.2M815.6 627.2L809.6 623.7M809.6 623.7L809.6 616.7M809.6 616.7L815.6 613.2M809.6 616.7L802.9 614.5M802.9 614.5L798.8 620.2M809.6 623.7L802.9 625.9M802.9 625.9L798.8 620.2M815.7 585.6L815.7 594.8M815.7 594.8L815.7 604M815.7 604L815.6 613.2M815.6 654.9L815.6 645.6M815.6 645.6L815.6 636.4M815.6 636.4L815.6 627.2M778 691.8L778 698.8M778 698.8L772 702.3M772 702.3L765.9 698.8M765.9 698.8L765.9 691.8M765.9 691.8L771.9 688.3M771.9 688.3L778 691.8M772 702.3L773.5 709.1M773.5 709.1L780.4 709.8M778 698.8L783.2 703.4M783.2 703.4L780.4 709.8M802.9 677.2L794.6 682.1M794.6 682.1L786.3 686.9M786.3 686.9L778 691.8M741 713.4L749.3 708.5M749.3 708.5L757.6 703.7M757.6 703.7L765.9 698.8M690.6 699.6L684.5 703.2M684.5 703.2L678.4 699.8M678.4 699.8L678.4 692.8M678.4 692.8L684.4 689.2M684.4 689.2L690.5 692.7M690.5 692.7L690.6 699.6M690.5 692.7L695.6 687.9M695.6 687.9L692.7 681.6M684.4 689.2L685.8 682.4M685.8 682.4L692.7 681.6M715.3 713.6L707.1 708.9M707.1 708.9L698.8 704.3M698.8 704.3L690.6 699.6M653.6 678.8L661.9 683.5M661.9 683.5L670.1 688.1M670.1 688.1L678.4 692.8M640.7 628.5L634.7 625M634.7 625L634.7 618M634.7 618L640.7 614.5M640.7 614.5L646.8 618M646.8 618L646.8 625M646.8 625L640.7 628.5M634.7 618L628 615.8M628 615.8L623.9 621.5M634.7 625L628 627.2M628 627.2L623.9 621.5M640.8 656.6L640.8 647.2M640.8 647.2L640.8 637.9M640.8 637.9L640.7 628.5M640.7 586.4L640.7 595.8M640.7 595.8L640.7 605.1M640.7 605.1L640.7 614.5M679.9 549.1L679.9 542.1M679.9 542.1L685.9 538.6M685.9 538.6L692 542.1M692 542.1L692 549.1M692 549.1L685.9 552.6M685.9 552.6L679.9 549.1M685.9 552.6L687.4 559.4M687.4 559.4L694.3 560.2M692 549.1L697.2 553.8M697.2 553.8L694.3 560.2M653.7 564.2L662.4 559.2M662.4 559.2L671.1 554.1M671.1 554.1L679.9 549.1M718.2 527L709.5 532M709.5 532L700.7 537.1M700.7 537.1L692 542.1M731.5 504.9L731.2 497.4M731.2 497.4L731.2 489.7M731.2 489.7L731.2 482M731.2 482L725.7 473.5M725.7 473.5L717.6 476.9M717.6 476.9L713 469.9M731.2 482L739.7 474.6M728.4 735.7L728.2 743.9M728.2 743.9L728.2 752.5M728.2 752.5L728.2 761M728.2 761L719.3 768.4M719.3 768.4L713.3 765M713.3 765L707.9 771.8M728.2 761L734.4 768.4M627.9 564.1L625.8 554.1M625.8 554.1L619.4 547.7M619.4 547.7L615.2 541.7M615.2 541.7L612.1 533.4M612.1 533.4L608.3 524.6M615.2 541.7L606.6 543.4M606.6 543.4L599 549.6M828.6 677.1L834.5 679.1M834.5 679.1L839.6 682.5M839.6 682.5L844.7 684.2M844.7 684.2L852.4 682.1M852.4 682.1L859.6 681.4M859.6 681.4L867.6 680.2M844.7 684.2L847.3 692.7M847.3 692.7L849.4 700.4M900.2 525.9L894.1 522.1M900.2 525.9L906.5 522.6M900.2 525.9L899.9 533.1M887.5 532.7L887.7 525.5M887.5 532.7L893.6 536.5M887.7 525.5L894.1 522.1M893.6 536.5L899.9 533.1M900.7 511.6L906.7 515.4M900.7 511.6L894.3 515M906.7 515.4L906.5 522.6M894.3 515L894.1 522.1M912.3 533.5L906 536.9M912.3 533.5L912.6 526.4M906 536.9L899.9 533.1M912.6 526.4L906.5 522.6M864.2 544.8L863.9 551.7M863.9 551.7L857.7 555M857.7 555L851.8 551.2M851.8 551.2L852.1 544.2M852.1 544.2L858.3 541M858.3 541L864.2 544.8M857.7 555L858.9 561.9M858.9 561.9L865.8 562.9M863.9 551.7L868.9 556.6M868.9 556.6L865.8 562.9M887.5 532.7L879.7 536.7M879.7 536.7L872 540.7M872 540.7L864.2 544.8M828.5 563.3L836.3 559.3M836.3 559.3L844.1 555.2M844.1 555.2L851.8 551.2M900.7 511.6L900.2 503.3M900.2 503.3L900.2 495.6M900.2 495.6L900.2 488M900.2 488L892.5 481.1M892.5 481.1L886.5 483.4M886.5 483.4L882.2 476M900.2 488L907 481.1M912.3 533.5L921.9 537.3M921.9 537.3L928.3 541.5M928.3 541.5L936 544.3M936 544.3L942.3 536.3M942.3 536.3L951.2 535.2M936 544.3L935.1 552M935.1 552L934.3 558.8M912.3 533.5L925.8 546.8M538.4 720L544.5 724.3M538.4 720L531.7 723.2M538.4 720L539 712.7M551.8 713.7L551.2 721.1M551.8 713.7L545.7 709.5M551.2 721.1L544.5 724.3M545.7 709.5L539 712.7M537.2 734.8L531.1 730.6M537.2 734.8L543.9 731.7M531.1 730.6L531.7 723.2M543.9 731.7L544.5 724.3M526.2 711.6L532.9 708.4M526.2 711.6L525.6 719M532.9 708.4L539 712.7M525.6 719L531.7 723.2M583.5 699.2L584.1 692.2M584.1 692.2L590.5 689.3M590.5 689.3L596.2 693.3M596.2 693.3L595.6 700.3M595.6 700.3L589.2 703.2M589.2 703.2L583.5 699.2M589.2 703.2L590 710.2M590 710.2L596.9 711.6M595.6 700.3L600.3 705.5M600.3 705.5L596.9 711.6M551.8 713.7L562.4 708.8M562.4 708.8L572.9 704M572.9 704L583.5 699.2M627.9 678.8L617.3 683.7M617.3 683.7L606.8 688.5M606.8 688.5L596.2 693.3M526.2 711.6L522.9 701.8M522.9 701.8L519.6 691.9M519.6 691.9L517.9 684.4M517.9 684.4L514.2 677M519.6 691.9L511.5 690.9M511.5 690.9L506 698.3M537.2 734.8L536.5 744.9M536.5 744.9L535.8 755M535.8 755L533.7 764.8M533.7 764.8L528.1 774.1M535.8 755L543.5 763.6M543.5 763.6L541.8 772.1" stroke="#6a6a6a" stroke-width="3.0" stroke-linecap="round" fill="none"/><use href="#C31" x="770.5" y="540.1"/><use href="#C31" x="776.5" y="540.2"/><use href="#C31" x="779.4" y="545.5"/><use href="#C31" x="776.3" y="550.7"/><use href="#C31" x="770.2" y="550.6"/><use href="#C31" x="767.3" y="545.2"/><use href="#C31" x="747.8" y="529.8"/><use href="#C31" x="755.7" y="534.6"/><use href="#C31" x="763.5" y="539.4"/><use href="#C31" x="798.9" y="560.9"/><use href="#C31" x="791.1" y="556.2"/><use href="#C31" x="783.3" y="551.4"/><use href="#C31" x="818.7" y="615"/><use href="#C31" x="821.7" y="620.2"/><use href="#C31" x="818.7" y="625.5"/><use href="#C31" x="812.6" y="625.5"/><use href="#C31" x="809.6" y="620.2"/><use href="#C31" x="812.6" y="615"/><use href="#C31" x="815.7" y="590.2"/><use href="#C31" x="815.7" y="599.4"/><use href="#C31" x="815.7" y="608.6"/><use href="#C31" x="815.6" y="650.3"/><use href="#C31" x="815.6" y="641"/><use href="#C31" x="815.6" y="631.8"/><use href="#C31" x="778" y="695.3"/><use href="#C31" x="775" y="700.5"/><use href="#C31" x="768.9" y="700.6"/><use href="#C31" x="765.9" y="695.3"/><use href="#C31" x="768.9" y="690.1"/><use href="#C31" x="774.9" y="690"/><use href="#C31" x="798.7" y="679.6"/><use href="#C31" x="790.4" y="684.5"/><use href="#C31" x="782.1" y="689.3"/><use href="#C31" x="745.2" y="710.9"/><use href="#C31" x="753.5" y="706.1"/><use href="#C31" x="761.8" y="701.2"/><use href="#C31" x="687.5" y="701.4"/><use href="#C31" x="681.5" y="701.5"/><use href="#C31" x="678.4" y="696.3"/><use href="#C31" x="681.4" y="691"/><use href="#C31" x="687.4" y="690.9"/><use href="#C31" x="690.5" y="696.2"/><use href="#C31" x="711.2" y="711.3"/><use href="#C31" x="702.9" y="706.6"/><use href="#C31" x="694.7" y="702"/><use href="#C31" x="657.7" y="681.2"/><use href="#C31" x="666" y="685.8"/><use href="#C31" x="674.2" y="690.5"/><use href="#C31" x="637.7" y="626.7"/><use href="#C31" x="634.7" y="621.5"/><use href="#C31" x="637.7" y="616.3"/><use href="#C31" x="643.8" y="616.3"/><use href="#C31" x="646.8" y="621.5"/><use href="#C31" x="643.8" y="626.7"/><use href="#C31" x="640.8" y="651.9"/><use href="#C31" x="640.8" y="642.5"/><use href="#C31" x="640.8" y="633.2"/><use href="#C31" x="640.7" y="591.1"/><use href="#C31" x="640.7" y="600.5"/><use href="#C31" x="640.7" y="609.8"/><use href="#C31" x="679.9" y="545.6"/><use href="#C31" x="682.9" y="540.3"/><use href="#C31" x="689" y="540.3"/><use href="#C31" x="692" y="545.6"/><use href="#C31" x="689" y="550.8"/><use href="#C31" x="682.9" y="550.8"/><use href="#C31" x="658" y="561.7"/><use href="#C31" x="666.8" y="556.6"/><use href="#C31" x="675.5" y="551.6"/><use href="#C31" x="713.8" y="529.5"/><use href="#C31" x="705.1" y="534.5"/><use href="#C31" x="696.4" y="539.6"/><use href="#C31" x="731.4" y="501.2"/><use href="#C31" x="731.2" y="493.5"/><use href="#C31" x="731.2" y="485.8"/><use href="#C31" x="728.4" y="477.7"/><use href="#C31" x="735.5" y="478.3"/><use href="#C31" x="728.3" y="739.8"/><use href="#C31" x="728.2" y="748.2"/><use href="#C31" x="728.2" y="756.7"/><use href="#C31" x="723.7" y="764.7"/><use href="#C31" x="731.3" y="764.7"/><use href="#C31" x="626.9" y="559.1"/><use href="#C31" x="622.6" y="550.9"/><use href="#C31" x="617.3" y="544.7"/><use href="#C31" x="610.9" y="542.6"/><use href="#C31" x="602.8" y="546.5"/><use href="#C31" x="831.5" y="678.1"/><use href="#C31" x="837" y="680.8"/><use href="#C31" x="848.5" y="683.1"/><use href="#C31" x="846" y="688.5"/><use href="#C31" x="848.3" y="696.6"/><use href="#C31" x="864.1" y="548.2"/><use href="#C31" x="860.8" y="553.4"/><use href="#C31" x="854.8" y="553.1"/><use href="#C31" x="852" y="547.7"/><use href="#C31" x="855.2" y="542.6"/><use href="#C31" x="861.3" y="542.9"/><use href="#C31" x="883.6" y="534.7"/><use href="#C31" x="875.9" y="538.7"/><use href="#C31" x="868.1" y="542.7"/><use href="#C31" x="832.4" y="561.3"/><use href="#C31" x="840.2" y="557.3"/><use href="#C31" x="847.9" y="553.2"/><use href="#C31" x="900.4" y="507.5"/><use href="#C31" x="900.2" y="499.5"/><use href="#C31" x="900.2" y="491.8"/><use href="#C31" x="896.3" y="484.6"/><use href="#C31" x="903.6" y="484.6"/><use href="#C31" x="917.1" y="535.4"/><use href="#C31" x="925.1" y="539.4"/><use href="#C31" x="932.2" y="542.9"/><use href="#C31" x="935.6" y="548.1"/><use href="#C31" x="934.7" y="555.4"/><use href="#C31" x="583.8" y="695.7"/><use href="#C31" x="587.3" y="690.7"/><use href="#C31" x="593.4" y="691.3"/><use href="#C31" x="595.9" y="696.8"/><use href="#C31" x="592.4" y="701.8"/><use href="#C31" x="586.3" y="701.2"/><use href="#C31" x="557.1" y="711.3"/><use href="#C31" x="567.6" y="706.4"/><use href="#C31" x="578.2" y="701.6"/><use href="#C31" x="622.6" y="681.3"/><use href="#C31" x="612.1" y="686.1"/><use href="#C31" x="601.5" y="690.9"/><use href="#C31" x="524.5" y="706.7"/><use href="#C31" x="521.2" y="696.8"/><use href="#C31" x="515.6" y="691.4"/><use href="#C31" x="508.7" y="694.6"/><use href="#C31" x="536.8" y="739.9"/><use href="#C31" x="536.2" y="750"/><use href="#C31" x="539.7" y="759.3"/><use href="#C31" x="542.6" y="767.8"/><use href="#N42" x="731.2" y="519.8"/><use href="#C36" x="731.1" y="527.2"/><use href="#C36" x="724.9" y="516"/><use href="#C36" x="737.7" y="516.2"/><use href="#N42" x="737.4" y="531"/><use href="#N42" x="724.6" y="530.8"/><use href="#N42" x="718.4" y="519.5"/><use href="#N42" x="725" y="508.5"/><use href="#N42" x="737.9" y="508.8"/><use href="#N42" x="744.1" y="520"/><use href="#C36" x="743.9" y="527.5"/><use href="#C36" x="718.2" y="527"/><use href="#C36" x="731.5" y="504.9"/><use href="#N42" x="815.7" y="570.7"/><use href="#C36" x="809.3" y="574.4"/><use href="#C36" x="815.7" y="563.3"/><use href="#C36" x="822.1" y="574.4"/><use href="#N42" x="809.3" y="581.9"/><use href="#N42" x="802.8" y="570.7"/><use href="#N42" x="809.3" y="559.6"/><use href="#N42" x="822.1" y="559.6"/><use href="#N42" x="828.5" y="570.7"/><use href="#N42" x="822.1" y="581.9"/><use href="#C36" x="815.7" y="585.6"/><use href="#C36" x="802.8" y="563.3"/><use href="#C36" x="828.5" y="563.3"/><use href="#N42" x="815.7" y="669.7"/><use href="#C36" x="809.2" y="666"/><use href="#C36" x="822.1" y="666"/><use href="#C36" x="815.7" y="677.1"/><use href="#N42" x="802.8" y="669.8"/><use href="#N42" x="809.2" y="658.6"/><use href="#N42" x="822" y="658.5"/><use href="#N42" x="828.5" y="669.6"/><use href="#N42" x="822.2" y="680.8"/><use href="#N42" x="809.3" y="680.9"/><use href="#C36" x="802.9" y="677.2"/><use href="#C36" x="815.6" y="654.9"/><use href="#C36" x="828.6" y="677.1"/><use href="#N42" x="728.2" y="720.9"/><use href="#C36" x="728.2" y="713.5"/><use href="#C36" x="734.7" y="724.6"/><use href="#C36" x="721.8" y="724.7"/><use href="#N42" x="721.7" y="709.8"/><use href="#N42" x="734.6" y="709.7"/><use href="#N42" x="741.1" y="720.8"/><use href="#N42" x="734.8" y="732"/><use href="#N42" x="721.9" y="732.1"/><use href="#N42" x="715.4" y="721"/><use href="#C36" x="715.3" y="713.6"/><use href="#C36" x="741" y="713.4"/><use href="#C36" x="728.4" y="735.7"/><use href="#N42" x="640.8" y="671.4"/><use href="#C36" x="647.2" y="667.7"/><use href="#C36" x="640.8" y="678.8"/><use href="#C36" x="634.3" y="667.7"/><use href="#N42" x="647.2" y="660.3"/><use href="#N42" x="653.6" y="671.4"/><use href="#N42" x="647.2" y="682.5"/><use href="#N42" x="634.3" y="682.5"/><use href="#N42" x="627.9" y="671.4"/><use href="#N42" x="634.3" y="660.3"/><use href="#C36" x="640.8" y="656.6"/><use href="#C36" x="653.6" y="678.8"/><use href="#C36" x="627.9" y="678.8"/><use href="#N42" x="640.8" y="571.6"/><use href="#C36" x="647.2" y="575.3"/><use href="#C36" x="634.3" y="575.3"/><use href="#C36" x="640.8" y="564.2"/><use href="#N42" x="653.6" y="571.6"/><use href="#N42" x="647.2" y="582.7"/><use href="#N42" x="634.3" y="582.7"/><use href="#N42" x="627.9" y="571.5"/><use href="#N42" x="634.4" y="560.4"/><use href="#N42" x="647.2" y="560.5"/><use href="#C36" x="653.7" y="564.2"/><use href="#C36" x="640.7" y="586.4"/><use href="#C36" x="627.9" y="564.1"/><use href="#C36" x="767.4" y="541.7"/><use href="#C36" x="773.5" y="538.4"/><use href="#C36" x="779.5" y="542"/><use href="#C36" x="779.4" y="549"/><use href="#C36" x="773.2" y="552.4"/><use href="#C36" x="767.2" y="548.7"/><use href="#S41" x="782.1" y="531"/><use href="#N42" x="784.8" y="537.5"/><use href="#N42" x="775.1" y="531.6"/><use href="#C36" x="751.7" y="532.2"/><use href="#C36" x="759.6" y="537"/><use href="#C36" x="795" y="558.5"/><use href="#C36" x="787.2" y="553.8"/><use href="#C36" x="815.6" y="613.2"/><use href="#C36" x="821.7" y="616.7"/><use href="#C36" x="821.7" y="623.7"/><use href="#C36" x="815.6" y="627.2"/><use href="#C36" x="809.6" y="623.7"/><use href="#C36" x="809.6" y="616.7"/><use href="#S41" x="798.8" y="620.2"/><use href="#N42" x="802.9" y="614.5"/><use href="#N42" x="802.9" y="625.9"/><use href="#C36" x="815.7" y="594.8"/><use href="#C36" x="815.7" y="604"/><use href="#C36" x="815.6" y="645.6"/><use href="#C36" x="815.6" y="636.4"/><use href="#C36" x="778" y="691.8"/><use href="#C36" x="778" y="698.8"/><use href="#C36" x="772" y="702.3"/><use href="#C36" x="765.9" y="698.8"/><use href="#C36" x="765.9" y="691.8"/><use href="#C36" x="771.9" y="688.3"/><use href="#S41" x="780.4" y="709.8"/><use href="#N42" x="773.5" y="709.1"/><use href="#N42" x="783.2" y="703.4"/><use href="#C36" x="794.6" y="682.1"/><use href="#C36" x="786.3" y="686.9"/><use href="#C36" x="749.3" y="708.5"/><use href="#C36" x="757.6" y="703.7"/><use href="#C36" x="690.6" y="699.6"/><use href="#C36" x="684.5" y="703.2"/><use href="#C36" x="678.4" y="699.8"/><use href="#C36" x="678.4" y="692.8"/><use href="#C36" x="684.4" y="689.2"/><use href="#C36" x="690.5" y="692.7"/><use href="#S41" x="692.7" y="681.6"/><use href="#N42" x="695.6" y="687.9"/><use href="#N42" x="685.8" y="682.4"/><use href="#C36" x="707.1" y="708.9"/><use href="#C36" x="698.8" y="704.3"/><use href="#C36" x="661.9" y="683.5"/><use href="#C36" x="670.1" y="688.1"/><use href="#C36" x="640.7" y="628.5"/><use href="#C36" x="634.7" y="625"/><use href="#C36" x="634.7" y="618"/><use href="#C36" x="640.7" y="614.5"/><use href="#C36" x="646.8" y="618"/><use href="#C36" x="646.8" y="625"/><use href="#S41" x="623.9" y="621.5"/><use href="#N42" x="628" y="615.8"/><use href="#N42" x="628" y="627.2"/><use href="#C36" x="640.8" y="647.2"/><use href="#C36" x="640.8" y="637.9"/><use href="#C36" x="640.7" y="595.8"/><use href="#C36" x="640.7" y="605.1"/><use href="#C36" x="679.9" y="549.1"/><use href="#C36" x="679.9" y="542.1"/><use href="#C36" x="685.9" y="538.6"/><use href="#C36" x="692" y="542.1"/><use href="#C36" x="692" y="549.1"/><use href="#C36" x="685.9" y="552.6"/><use href="#S41" x="694.3" y="560.2"/><use href="#N42" x="687.4" y="559.4"/><use href="#N42" x="697.2" y="553.8"/><use href="#C36" x="662.4" y="559.2"/><use href="#C36" x="671.1" y="554.1"/><use href="#C36" x="709.5" y="532"/><use href="#C36" x="700.7" y="537.1"/><use href="#C36" x="731.2" y="497.4"/><use href="#C36" x="731.2" y="489.7"/><use href="#C36" x="731.2" y="482"/><use href="#C36" x="725.7" y="473.5"/><use href="#N42" x="717.6" y="476.9"/><use href="#S41" x="713" y="469.9"/><use href="#C36" x="739.7" y="474.6"/><use href="#C36" x="728.2" y="743.9"/><use href="#C36" x="728.2" y="752.5"/><use href="#C36" x="728.2" y="761"/><use href="#C36" x="719.3" y="768.4"/><use href="#N42" x="713.3" y="765"/><use href="#S41" x="707.9" y="771.8"/><use href="#C36" x="734.4" y="768.4"/><use href="#C36" x="625.8" y="554.1"/><use href="#C36" x="619.4" y="547.7"/><use href="#C36" x="615.2" y="541.7"/><use href="#N42" x="612.1" y="533.4"/><use href="#S41" x="608.3" y="524.6"/><use href="#C36" x="606.6" y="543.4"/><use href="#C36" x="599" y="549.6"/><use href="#C36" x="834.5" y="679.1"/><use href="#C36" x="839.6" y="682.5"/><use href="#C36" x="844.7" y="684.2"/><use href="#C36" x="852.4" y="682.1"/><use href="#N42" x="859.6" y="681.4"/><use href="#S41" x="867.6" y="680.2"/><use href="#C36" x="847.3" y="692.7"/><use href="#C36" x="849.4" y="700.4"/><use href="#N42" x="900.2" y="525.9"/><use href="#C36" x="894.1" y="522.1"/><use href="#C36" x="906.5" y="522.6"/><use href="#C36" x="899.9" y="533.1"/><use href="#N42" x="887.7" y="525.5"/><use href="#N42" x="894.3" y="515"/><use href="#N42" x="906.7" y="515.4"/><use href="#N42" x="912.6" y="526.4"/><use href="#N42" x="906" y="536.9"/><use href="#N42" x="893.6" y="536.5"/><use href="#C36" x="887.5" y="532.7"/><use href="#C36" x="900.7" y="511.6"/><use href="#C36" x="912.3" y="533.5"/><use href="#C36" x="864.2" y="544.8"/><use href="#C36" x="863.9" y="551.7"/><use href="#C36" x="857.7" y="555"/><use href="#C36" x="851.8" y="551.2"/><use href="#C36" x="852.1" y="544.2"/><use href="#C36" x="858.3" y="541"/><use href="#S41" x="865.8" y="562.9"/><use href="#N42" x="858.9" y="561.9"/><use href="#N42" x="868.9" y="556.6"/><use href="#C36" x="879.7" y="536.7"/><use href="#C36" x="872" y="540.7"/><use href="#C36" x="836.3" y="559.3"/><use href="#C36" x="844.1" y="555.2"/><use href="#C36" x="900.2" y="503.3"/><use href="#C36" x="900.2" y="495.6"/><use href="#C36" x="900.2" y="488"/><use href="#C36" x="892.5" y="481.1"/><use href="#N42" x="886.5" y="483.4"/><use href="#S41" x="882.2" y="476"/><use href="#C36" x="907" y="481.1"/><use href="#C36" x="921.9" y="537.3"/><use href="#C36" x="928.3" y="541.5"/><use href="#C36" x="936" y="544.3"/><use href="#N42" x="942.3" y="536.3"/><use href="#S41" x="951.2" y="535.2"/><use href="#C36" x="935.1" y="552"/><use href="#C36" x="934.3" y="558.8"/><use href="#S41" x="925.8" y="546.8"/><use href="#N42" x="538.4" y="720"/><use href="#C36" x="544.5" y="724.3"/><use href="#C36" x="531.7" y="723.2"/><use href="#C36" x="539" y="712.7"/><use href="#N42" x="551.2" y="721.1"/><use href="#N42" x="543.9" y="731.7"/><use href="#N42" x="531.1" y="730.6"/><use href="#N42" x="525.6" y="719"/><use href="#N42" x="532.9" y="708.4"/><use href="#N42" x="545.7" y="709.5"/><use href="#C36" x="551.8" y="713.7"/><use href="#C36" x="537.2" y="734.8"/><use href="#C36" x="526.2" y="711.6"/><use href="#C36" x="583.5" y="699.2"/><use href="#C36" x="584.1" y="692.2"/><use href="#C36" x="590.5" y="689.3"/><use href="#C36" x="596.2" y="693.3"/><use href="#C36" x="595.6" y="700.3"/><use href="#C36" x="589.2" y="703.2"/><use href="#S41" x="596.9" y="711.6"/><use href="#N42" x="590" y="710.2"/><use href="#N42" x="600.3" y="705.5"/><use href="#C36" x="562.4" y="708.8"/><use href="#C36" x="572.9" y="704"/><use href="#C36" x="617.3" y="683.7"/><use href="#C36" x="606.8" y="688.5"/><use href="#C36" x="522.9" y="701.8"/><use href="#C36" x="519.6" y="691.9"/><use href="#N42" x="517.9" y="684.4"/><use href="#S41" x="514.2" y="677"/><use href="#C36" x="511.5" y="690.9"/><use href="#C36" x="506" y="698.3"/><use href="#C36" x="536.5" y="744.9"/><use href="#C36" x="535.8" y="755"/><use href="#N42" x="533.7" y="764.8"/><use href="#S41" x="528.1" y="774.1"/><use href="#C36" x="543.5" y="763.6"/><use href="#C36" x="541.8" y="772.1"/><path d="M732.5 511.7L732.3 519.7M732.5 511.7L725.6 507.6M732.5 511.7L739.5 507.9M746.2 520L739.2 523.9M746.2 520L746.4 512M739.2 523.9L732.3 519.7M746.4 512L739.5 507.9M718.5 519.5L718.6 511.5M718.5 519.5L725.3 523.6M718.6 511.5L725.6 507.6M725.3 523.6L732.3 519.7M732.8 495.7L739.7 499.9M732.8 495.7L725.8 499.6M739.7 499.9L739.5 507.9M725.8 499.6L725.6 507.6M823.7 566.7L816.7 570.7M823.7 566.7L823.7 558.7M823.7 566.7L830.6 570.7M823.7 582.7L816.7 578.7M823.7 582.7L830.6 578.7M816.7 578.7L816.7 570.7M830.6 578.7L830.6 570.7M809.8 558.7L816.7 554.7M809.8 558.7L809.8 566.7M816.7 554.7L823.7 558.7M809.8 566.7L816.7 570.7M837.5 558.7L837.5 566.7M837.5 558.7L830.6 554.7M837.5 566.7L830.6 570.7M830.6 554.7L823.7 558.7M823.7 673.5L816.7 669.6M823.7 673.5L830.6 669.5M823.7 673.5L823.7 681.5M809.8 681.6L809.8 673.6M809.8 681.6L816.8 685.6M809.8 673.6L816.7 669.6M816.8 685.6L823.7 681.5M823.6 657.5L830.5 661.5M823.6 657.5L816.6 661.6M830.5 661.5L830.6 669.5M816.6 661.6L816.7 669.6M837.6 681.5L830.7 685.5M837.6 681.5L837.5 673.4M830.7 685.5L823.7 681.5M837.5 673.4L830.6 669.5M729.3 728.8L729.2 720.8M729.3 728.8L736.2 732.7M729.3 728.8L722.4 732.8M715.3 720.9L722.2 716.8M715.3 720.9L715.4 728.9M722.2 716.8L729.2 720.8M715.4 728.9L722.4 732.8M743.1 720.6L743.1 728.7M743.1 720.6L736.1 716.7M743.1 728.7L736.2 732.7M736.1 716.7L729.2 720.8M729.4 744.8L722.4 740.9M729.4 744.8L736.3 740.7M722.4 740.9L722.4 732.8M736.3 740.7L736.2 732.7M634.9 675.4L641.8 671.4M634.9 675.4L634.9 683.4M634.9 675.4L628 671.4M634.9 659.3L641.8 663.4M634.9 659.3L628 663.4M641.8 663.4L641.8 671.4M628 663.4L628 671.4M648.8 683.4L641.8 687.4M648.8 683.4L648.8 675.4M641.8 687.4L634.9 683.4M648.8 675.4L641.8 671.4M621 683.4L621 675.4M621 683.4L628 687.4M621 675.4L628 671.4M628 687.4L634.9 683.4M634.9 567.6L641.8 571.7M634.9 567.6L627.9 571.6M634.9 567.6L634.9 559.6M648.8 559.7L648.8 567.7M648.8 559.7L641.9 555.6M648.8 567.7L641.8 571.7M641.9 555.6L634.9 559.6M634.8 583.7L627.9 579.6M634.8 583.7L641.8 579.7M627.9 579.6L627.9 571.6M641.8 579.7L641.8 571.7M621 559.6L628 555.6M621 559.6L621 567.6M628 555.6L634.9 559.6M621 567.6L627.9 571.6M771.5 535.4L778.2 531.8M778.2 531.8L784.6 535.7M784.6 535.7L784.4 543.3M784.4 543.3L777.8 546.9M777.8 546.9L771.4 543M771.4 543L771.5 535.4M784.6 535.7L790.3 530.8M790.3 530.8L787.4 523.8M778.2 531.8L779.9 524.5M779.9 524.5L787.4 523.8M746.2 520L754.7 525.2M754.7 525.2L763.1 530.3M763.1 530.3L771.5 535.4M809.8 558.7L801.3 553.6M801.3 553.6L792.9 548.4M792.9 548.4L784.4 543.3M823.6 612.6L830.2 616.4M830.2 616.4L830.1 623.9M830.1 623.9L823.6 627.7M823.6 627.7L817.1 623.9M817.1 623.9L817.1 616.3M817.1 616.3L823.6 612.6M817.1 616.3L809.9 614M809.9 614L805.5 620.1M817.1 623.9L809.9 626.2M809.9 626.2L805.5 620.1M823.7 582.7L823.6 592.7M823.6 592.7L823.6 602.6M823.6 602.6L823.6 612.6M823.6 657.5L823.6 647.6M823.6 647.6L823.6 637.6M823.6 637.6L823.6 627.7M783 697.3L783 704.9M783 704.9L776.5 708.7M776.5 708.7L769.9 704.9M769.9 704.9L769.9 697.4M769.9 697.4L776.4 693.6M776.4 693.6L783 697.3M776.5 708.7L778.1 716.1M778.1 716.1L785.6 716.8M783 704.9L788.7 709.9M788.7 709.9L785.6 716.8M809.8 681.6L800.9 686.9M800.9 686.9L791.9 692.1M791.9 692.1L783 697.3M743.1 720.6L752 715.4M752 715.4L761 710.2M761 710.2L769.9 704.9M688.6 705.8L682.1 709.7M682.1 709.7L675.5 706M675.5 706L675.5 698.4M675.5 698.4L682 694.6M682 694.6L688.5 698.3M688.5 698.3L688.6 705.8M688.5 698.3L694.1 693.2M694.1 693.2L691 686.3M682 694.6L683.5 687.2M683.5 687.2L691 686.3M715.3 720.9L706.4 715.9M706.4 715.9L697.5 710.9M697.5 710.9L688.6 705.8M648.8 683.4L657.7 688.4M657.7 688.4L666.6 693.4M666.6 693.4L675.5 698.4M634.9 629.1L628.3 625.3M628.3 625.3L628.3 617.7M628.3 617.7L634.9 613.9M634.9 613.9L641.4 617.7M641.4 617.7L641.4 625.3M641.4 625.3L634.9 629.1M628.3 617.7L621.1 615.4M621.1 615.4L616.7 621.5M628.3 625.3L621.1 627.6M621.1 627.6L616.7 621.5M634.9 659.3L634.9 649.2M634.9 649.2L634.9 639.1M634.9 639.1L634.9 629.1M634.8 583.7L634.8 593.8M634.8 593.8L634.8 603.9M634.8 603.9L634.9 613.9M677.1 543.4L677.1 535.8M677.1 535.8L683.6 532M683.6 532L690.2 535.8M690.2 535.8L690.2 543.4M690.2 543.4L683.6 547.1M683.6 547.1L677.1 543.4M683.6 547.1L685.2 554.5M685.2 554.5L692.7 555.3M690.2 543.4L695.8 548.4M695.8 548.4L692.7 555.3M648.8 559.7L658.2 554.2M658.2 554.2L667.7 548.8M667.7 548.8L677.1 543.4M718.5 519.5L709 524.9M709 524.9L699.6 530.4M699.6 530.4L690.2 535.8M732.8 495.7L732.5 487.5M732.5 487.5L732.5 479.2M732.5 479.2L732.5 470.9M732.5 470.9L726.5 461.7M726.5 461.7L717.8 465.4M717.8 465.4L712.8 457.9M732.5 470.9L741.7 462.9M729.4 744.8L729.3 753.6M729.3 753.6L729.3 762.8M729.3 762.8L729.3 772.1M729.3 772.1L719.6 780.1M719.6 780.1L713.2 776.4M713.2 776.4L707.4 783.7M729.3 772.1L735.9 780.1M621 559.6L618.8 548.8M618.8 548.8L611.9 541.8M611.9 541.8L607.3 535.4M607.3 535.4L604 526.5M604 526.5L599.9 516.9M607.3 535.4L598.1 537.2M598.1 537.2L589.8 543.9M837.6 681.5L843.9 683.7M843.9 683.7L849.4 687.3M849.4 687.3L855 689.2M855 689.2L863.3 686.9M863.3 686.9L871.1 686.1M871.1 686.1L879.6 684.9M855 689.2L857.7 698.4M857.7 698.4L860 706.7M914.8 518.4L908.3 514.3M914.8 518.4L921.6 514.7M914.8 518.4L914.5 526.1M901.1 525.6L901.4 517.9M901.1 525.6L907.7 529.7M901.4 517.9L908.3 514.3M907.7 529.7L914.5 526.1M915.4 502.9L921.9 507M915.4 502.9L908.5 506.5M921.9 507L921.6 514.7M908.5 506.5L908.3 514.3M927.9 526.6L921.1 530.2M927.9 526.6L928.2 518.9M921.1 530.2L914.5 526.1M928.2 518.9L921.6 514.7M876 538.7L875.7 546.2M875.7 546.2L869 549.7M869 549.7L862.6 545.6M862.6 545.6L863 538.1M863 538.1L869.7 534.6M869.7 534.6L876 538.7M869 549.7L870.2 557.1M870.2 557.1L877.7 558.3M875.7 546.2L881.1 551.5M881.1 551.5L877.7 558.3M901.1 525.6L892.8 530M892.8 530L884.4 534.3M884.4 534.3L876 538.7M837.5 558.7L845.9 554.3M845.9 554.3L854.3 550M854.3 550L862.6 545.6M915.4 502.9L914.8 494M914.8 494L914.8 485.7M914.8 485.7L914.8 477.4M914.8 477.4L906.5 470M906.5 470L900.1 472.5M900.1 472.5L895.4 464.5M914.8 477.4L922.2 470M927.9 526.6L938.3 530.6M938.3 530.6L945.2 535.1M945.2 535.1L953.5 538.2M953.5 538.2L960.3 529.5M960.3 529.5L969.9 528.4M953.5 538.2L952.6 546.5M952.6 546.5L951.6 553.8M927.9 526.6L942.4 540.9M524.4 727.9L531 732.4M524.4 727.9L517.2 731.3M524.4 727.9L525 719.9M538.9 721L538.2 729M538.9 721L532.3 716.4M538.2 729L531 732.4M532.3 716.4L525 719.9M523.1 743.8L516.5 739.3M523.1 743.8L530.3 740.4M516.5 739.3L517.2 731.3M530.3 740.4L531 732.4M511.2 718.8L518.4 715.3M511.2 718.8L510.6 726.7M518.4 715.3L525 719.9M510.6 726.7L517.2 731.3M573.1 705.3L573.8 697.8M573.8 697.8L580.7 694.7M580.7 694.7L586.8 699M586.8 699L586.1 706.6M586.1 706.6L579.2 709.7M579.2 709.7L573.1 705.3M579.2 709.7L580.1 717.2M580.1 717.2L587.5 718.7M586.1 706.6L591.2 712.1M591.2 712.1L587.5 718.7M538.9 721L550.3 715.8M550.3 715.8L561.7 710.5M561.7 710.5L573.1 705.3M621 683.4L609.6 688.6M609.6 688.6L598.2 693.8M598.2 693.8L586.8 699M511.2 718.8L507.7 708.1M507.7 708.1L504.1 697.5M504.1 697.5L502.3 689.4M502.3 689.4L498.3 681.4M504.1 697.5L495.4 696.4M495.4 696.4L489.4 704.4M523.1 743.8L522.4 754.7M522.4 754.7L521.6 765.6M521.6 765.6L519.3 776.1M519.3 776.1L513.3 786.1M521.6 765.6L529.9 774.8M529.9 774.8L528.1 784" stroke="#6a6a6a" stroke-width="3.1" stroke-linecap="round" fill="none"/><use href="#C32" x="774.9" y="533.6"/><use href="#C32" x="781.4" y="533.8"/><use href="#C32" x="784.5" y="539.5"/><use href="#C32" x="781.1" y="545.1"/><use href="#C32" x="774.6" y="544.9"/><use href="#C32" x="771.5" y="539.2"/><use href="#C32" x="750.4" y="522.6"/><use href="#C32" x="758.9" y="527.7"/><use href="#C32" x="767.3" y="532.9"/><use href="#C32" x="805.6" y="556.1"/><use href="#C32" x="797.1" y="551"/><use href="#C32" x="788.7" y="545.9"/><use href="#C32" x="826.9" y="614.5"/><use href="#C32" x="830.1" y="620.1"/><use href="#C32" x="826.9" y="625.8"/><use href="#C32" x="820.3" y="625.8"/><use href="#C32" x="817.1" y="620.1"/><use href="#C32" x="820.3" y="614.5"/><use href="#C32" x="823.6" y="587.7"/><use href="#C32" x="823.6" y="597.7"/><use href="#C32" x="823.6" y="607.6"/><use href="#C32" x="823.6" y="652.5"/><use href="#C32" x="823.6" y="642.6"/><use href="#C32" x="823.6" y="632.6"/><use href="#C32" x="783" y="701.1"/><use href="#C32" x="779.8" y="706.8"/><use href="#C32" x="773.2" y="706.8"/><use href="#C32" x="769.9" y="701.2"/><use href="#C32" x="773.2" y="695.5"/><use href="#C32" x="779.7" y="695.5"/><use href="#C32" x="805.4" y="684.2"/><use href="#C32" x="796.4" y="689.5"/><use href="#C32" x="787.4" y="694.7"/><use href="#C32" x="747.6" y="718"/><use href="#C32" x="756.5" y="712.8"/><use href="#C32" x="765.5" y="707.6"/><use href="#C32" x="685.4" y="707.8"/><use href="#C32" x="678.8" y="707.8"/><use href="#C32" x="675.5" y="702.2"/><use href="#C32" x="678.7" y="696.5"/><use href="#C32" x="685.3" y="696.4"/><use href="#C32" x="688.6" y="702.1"/><use href="#C32" x="710.9" y="718.4"/><use href="#C32" x="702" y="713.4"/><use href="#C32" x="693.1" y="708.3"/><use href="#C32" x="653.2" y="685.9"/><use href="#C32" x="662.1" y="690.9"/><use href="#C32" x="671" y="695.9"/><use href="#C32" x="631.6" y="627.2"/><use href="#C32" x="628.3" y="621.5"/><use href="#C32" x="631.6" y="615.8"/><use href="#C32" x="638.1" y="615.8"/><use href="#C32" x="641.4" y="621.5"/><use href="#C32" x="638.1" y="627.2"/><use href="#C32" x="634.9" y="654.3"/><use href="#C32" x="634.9" y="644.2"/><use href="#C32" x="634.9" y="634.1"/><use href="#C32" x="634.8" y="588.7"/><use href="#C32" x="634.8" y="598.8"/><use href="#C32" x="634.9" y="608.9"/><use href="#C32" x="677.1" y="539.6"/><use href="#C32" x="680.4" y="533.9"/><use href="#C32" x="686.9" y="533.9"/><use href="#C32" x="690.2" y="539.6"/><use href="#C32" x="686.9" y="545.2"/><use href="#C32" x="680.4" y="545.2"/><use href="#C32" x="653.5" y="557"/><use href="#C32" x="662.9" y="551.5"/><use href="#C32" x="672.4" y="546.1"/><use href="#C32" x="713.8" y="522.2"/><use href="#C32" x="704.3" y="527.6"/><use href="#C32" x="694.9" y="533.1"/><use href="#C32" x="732.6" y="491.6"/><use href="#C32" x="732.5" y="483.4"/><use href="#C32" x="732.5" y="475.1"/><use href="#C32" x="729.5" y="466.3"/><use href="#C32" x="737.1" y="466.9"/><use href="#C32" x="729.3" y="749.2"/><use href="#C32" x="729.3" y="758.2"/><use href="#C32" x="729.3" y="767.4"/><use href="#C32" x="724.4" y="776.1"/><use href="#C32" x="732.6" y="776.1"/><use href="#C32" x="619.9" y="554.2"/><use href="#C32" x="615.3" y="545.3"/><use href="#C32" x="609.6" y="538.6"/><use href="#C32" x="602.7" y="536.3"/><use href="#C32" x="593.9" y="540.6"/><use href="#C32" x="840.7" y="682.6"/><use href="#C32" x="846.7" y="685.5"/><use href="#C32" x="859.1" y="688"/><use href="#C32" x="856.3" y="693.8"/><use href="#C32" x="858.9" y="702.5"/><use href="#C32" x="875.9" y="542.4"/><use href="#C32" x="872.4" y="548"/><use href="#C32" x="865.8" y="547.7"/><use href="#C32" x="862.8" y="541.9"/><use href="#C32" x="866.3" y="536.4"/><use href="#C32" x="872.9" y="536.6"/><use href="#C32" x="897" y="527.8"/><use href="#C32" x="888.6" y="532.1"/><use href="#C32" x="880.2" y="536.5"/><use href="#C32" x="841.7" y="556.5"/><use href="#C32" x="850.1" y="552.2"/><use href="#C32" x="858.5" y="547.8"/><use href="#C32" x="915.1" y="498.4"/><use href="#C32" x="914.8" y="489.8"/><use href="#C32" x="914.8" y="481.5"/><use href="#C32" x="910.7" y="473.7"/><use href="#C32" x="918.5" y="473.7"/><use href="#C32" x="933.1" y="528.6"/><use href="#C32" x="941.7" y="532.9"/><use href="#C32" x="949.3" y="536.6"/><use href="#C32" x="953" y="542.3"/><use href="#C32" x="952.1" y="550.1"/><use href="#C32" x="573.4" y="701.6"/><use href="#C32" x="577.2" y="696.2"/><use href="#C32" x="583.7" y="696.8"/><use href="#C32" x="586.4" y="702.8"/><use href="#C32" x="582.7" y="708.1"/><use href="#C32" x="576.2" y="707.5"/><use href="#C32" x="544.6" y="718.4"/><use href="#C32" x="556" y="713.2"/><use href="#C32" x="567.4" y="707.9"/><use href="#C32" x="615.3" y="686"/><use href="#C32" x="603.9" y="691.2"/><use href="#C32" x="592.5" y="696.4"/><use href="#C32" x="509.4" y="713.4"/><use href="#C32" x="505.9" y="702.8"/><use href="#C32" x="499.8" y="696.9"/><use href="#C32" x="492.4" y="700.4"/><use href="#C32" x="522.7" y="749.3"/><use href="#C32" x="522" y="760.2"/><use href="#C32" x="525.8" y="770.2"/><use href="#C32" x="529" y="779.4"/><use href="#N44" x="732.5" y="511.7"/><use href="#C37" x="732.3" y="519.7"/><use href="#C37" x="725.6" y="507.6"/><use href="#C37" x="739.5" y="507.9"/><use href="#N44" x="739.2" y="523.9"/><use href="#N44" x="725.3" y="523.6"/><use href="#N44" x="718.6" y="511.5"/><use href="#N44" x="725.8" y="499.6"/><use href="#N44" x="739.7" y="499.9"/><use href="#N44" x="746.4" y="512"/><use href="#C37" x="746.2" y="520"/><use href="#C37" x="718.5" y="519.5"/><use href="#C37" x="732.8" y="495.7"/><use href="#N44" x="823.7" y="566.7"/><use href="#C37" x="816.7" y="570.7"/><use href="#C37" x="823.7" y="558.7"/><use href="#C37" x="830.6" y="570.7"/><use href="#N44" x="816.7" y="578.7"/><use href="#N44" x="809.8" y="566.7"/><use href="#N44" x="816.7" y="554.7"/><use href="#N44" x="830.6" y="554.7"/><use href="#N44" x="837.5" y="566.7"/><use href="#N44" x="830.6" y="578.7"/><use href="#C37" x="823.7" y="582.7"/><use href="#C37" x="809.8" y="558.7"/><use href="#C37" x="837.5" y="558.7"/><use href="#N44" x="823.7" y="673.5"/><use href="#C37" x="816.7" y="669.6"/><use href="#C37" x="830.6" y="669.5"/><use href="#C37" x="823.7" y="681.5"/><use href="#N44" x="809.8" y="673.6"/><use href="#N44" x="816.6" y="661.6"/><use href="#N44" x="830.5" y="661.5"/><use href="#N44" x="837.5" y="673.4"/><use href="#N44" x="830.7" y="685.5"/><use href="#N44" x="816.8" y="685.6"/><use href="#C37" x="809.8" y="681.6"/><use href="#C37" x="823.6" y="657.5"/><use href="#C37" x="837.6" y="681.5"/><use href="#N44" x="729.3" y="728.8"/><use href="#C37" x="729.2" y="720.8"/><use href="#C37" x="736.2" y="732.7"/><use href="#C37" x="722.4" y="732.8"/><use href="#N44" x="722.2" y="716.8"/><use href="#N44" x="736.1" y="716.7"/><use href="#N44" x="743.1" y="728.7"/><use href="#N44" x="736.3" y="740.7"/><use href="#N44" x="722.4" y="740.9"/><use href="#N44" x="715.4" y="728.9"/><use href="#C37" x="715.3" y="720.9"/><use href="#C37" x="743.1" y="720.6"/><use href="#C37" x="729.4" y="744.8"/><use href="#N44" x="634.9" y="675.4"/><use href="#C37" x="641.8" y="671.4"/><use href="#C37" x="634.9" y="683.4"/><use href="#C37" x="628" y="671.4"/><use href="#N44" x="641.8" y="663.4"/><use href="#N44" x="648.8" y="675.4"/><use href="#N44" x="641.8" y="687.4"/><use href="#N44" x="628" y="687.4"/><use href="#N44" x="621" y="675.4"/><use href="#N44" x="628" y="663.4"/><use href="#C37" x="634.9" y="659.3"/><use href="#C37" x="648.8" y="683.4"/><use href="#C37" x="621" y="683.4"/><use href="#N44" x="634.9" y="567.6"/><use href="#C37" x="641.8" y="571.7"/><use href="#C37" x="627.9" y="571.6"/><use href="#C37" x="634.9" y="559.6"/><use href="#N44" x="648.8" y="567.7"/><use href="#N44" x="641.8" y="579.7"/><use href="#N44" x="627.9" y="579.6"/><use href="#N44" x="621" y="567.6"/><use href="#N44" x="628" y="555.6"/><use href="#N44" x="641.9" y="555.6"/><use href="#C37" x="648.8" y="559.7"/><use href="#C37" x="634.8" y="583.7"/><use href="#C37" x="621" y="559.6"/><use href="#C37" x="771.5" y="535.4"/><use href="#C37" x="778.2" y="531.8"/><use href="#C37" x="784.6" y="535.7"/><use href="#C37" x="784.4" y="543.3"/><use href="#C37" x="777.8" y="546.9"/><use href="#C37" x="771.4" y="543"/><use href="#S42" x="787.4" y="523.8"/><use href="#N44" x="790.3" y="530.8"/><use href="#N44" x="779.9" y="524.5"/><use href="#C37" x="754.7" y="525.2"/><use href="#C37" x="763.1" y="530.3"/><use href="#C37" x="801.3" y="553.6"/><use href="#C37" x="792.9" y="548.4"/><use href="#C37" x="823.6" y="612.6"/><use href="#C37" x="830.2" y="616.4"/><use href="#C37" x="830.1" y="623.9"/><use href="#C37" x="823.6" y="627.7"/><use href="#C37" x="817.1" y="623.9"/><use href="#C37" x="817.1" y="616.3"/><use href="#S42" x="805.5" y="620.1"/><use href="#N44" x="809.9" y="614"/><use href="#N44" x="809.9" y="626.2"/><use href="#C37" x="823.6" y="592.7"/><use href="#C37" x="823.6" y="602.6"/><use href="#C37" x="823.6" y="647.6"/><use href="#C37" x="823.6" y="637.6"/><use href="#C37" x="783" y="697.3"/><use href="#C37" x="783" y="704.9"/><use href="#C37" x="776.5" y="708.7"/><use href="#C37" x="769.9" y="704.9"/><use href="#C37" x="769.9" y="697.4"/><use href="#C37" x="776.4" y="693.6"/><use href="#S42" x="785.6" y="716.8"/><use href="#N44" x="778.1" y="716.1"/><use href="#N44" x="788.7" y="709.9"/><use href="#C37" x="800.9" y="686.9"/><use href="#C37" x="791.9" y="692.1"/><use href="#C37" x="752" y="715.4"/><use href="#C37" x="761" y="710.2"/><use href="#C37" x="688.6" y="705.8"/><use href="#C37" x="682.1" y="709.7"/><use href="#C37" x="675.5" y="706"/><use href="#C37" x="675.5" y="698.4"/><use href="#C37" x="682" y="694.6"/><use href="#C37" x="688.5" y="698.3"/><use href="#S42" x="691" y="686.3"/><use href="#N44" x="694.1" y="693.2"/><use href="#N44" x="683.5" y="687.2"/><use href="#C37" x="706.4" y="715.9"/><use href="#C37" x="697.5" y="710.9"/><use href="#C37" x="657.7" y="688.4"/><use href="#C37" x="666.6" y="693.4"/><use href="#C37" x="634.9" y="629.1"/><use href="#C37" x="628.3" y="625.3"/><use href="#C37" x="628.3" y="617.7"/><use href="#C37" x="634.9" y="613.9"/><use href="#C37" x="641.4" y="617.7"/><use href="#C37" x="641.4" y="625.3"/><use href="#S42" x="616.7" y="621.5"/><use href="#N44" x="621.1" y="615.4"/><use href="#N44" x="621.1" y="627.6"/><use href="#C37" x="634.9" y="649.2"/><use href="#C37" x="634.9" y="639.1"/><use href="#C37" x="634.8" y="593.8"/><use href="#C37" x="634.8" y="603.9"/><use href="#C37" x="677.1" y="543.4"/><use href="#C37" x="677.1" y="535.8"/><use href="#C37" x="683.6" y="532"/><use href="#C37" x="690.2" y="535.8"/><use href="#C37" x="690.2" y="543.4"/><use href="#C37" x="683.6" y="547.1"/><use href="#S42" x="692.7" y="555.3"/><use href="#N44" x="685.2" y="554.5"/><use href="#N44" x="695.8" y="548.4"/><use href="#C37" x="658.2" y="554.2"/><use href="#C37" x="667.7" y="548.8"/><use href="#C37" x="709" y="524.9"/><use href="#C37" x="699.6" y="530.4"/><use href="#C37" x="732.5" y="487.5"/><use href="#C37" x="732.5" y="479.2"/><use href="#C37" x="732.5" y="470.9"/><use href="#C37" x="726.5" y="461.7"/><use href="#N44" x="717.8" y="465.4"/><use href="#S42" x="712.8" y="457.9"/><use href="#C37" x="741.7" y="462.9"/><use href="#C37" x="729.3" y="753.6"/><use href="#C37" x="729.3" y="762.8"/><use href="#C37" x="729.3" y="772.1"/><use href="#C37" x="719.6" y="780.1"/><use href="#N44" x="713.2" y="776.4"/><use href="#S42" x="707.4" y="783.7"/><use href="#C37" x="735.9" y="780.1"/><use href="#C37" x="618.8" y="548.8"/><use href="#C37" x="611.9" y="541.8"/><use href="#C37" x="607.3" y="535.4"/><use href="#N44" x="604" y="526.5"/><use href="#S42" x="599.9" y="516.9"/><use href="#C37" x="598.1" y="537.2"/><use href="#C37" x="589.8" y="543.9"/><use href="#C37" x="843.9" y="683.7"/><use href="#C37" x="849.4" y="687.3"/><use href="#C37" x="855" y="689.2"/><use href="#C37" x="863.3" y="686.9"/><use href="#N44" x="871.1" y="686.1"/><use href="#S42" x="879.6" y="684.9"/><use href="#C37" x="857.7" y="698.4"/><use href="#C37" x="860" y="706.7"/><use href="#N44" x="914.8" y="518.4"/><use href="#C37" x="908.3" y="514.3"/><use href="#C37" x="921.6" y="514.7"/><use href="#C37" x="914.5" y="526.1"/><use href="#N44" x="901.4" y="517.9"/><use href="#N44" x="908.5" y="506.5"/><use href="#N44" x="921.9" y="507"/><use href="#N44" x="928.2" y="518.9"/><use href="#N44" x="921.1" y="530.2"/><use href="#N44" x="907.7" y="529.7"/><use href="#C37" x="901.1" y="525.6"/><use href="#C37" x="915.4" y="502.9"/><use href="#C37" x="927.9" y="526.6"/><use href="#C37" x="876" y="538.7"/><use href="#C37" x="875.7" y="546.2"/><use href="#C37" x="869" y="549.7"/><use href="#C37" x="862.6" y="545.6"/><use href="#C37" x="863" y="538.1"/><use href="#C37" x="869.7" y="534.6"/><use href="#S42" x="877.7" y="558.3"/><use href="#N44" x="870.2" y="557.1"/><use href="#N44" x="881.1" y="551.5"/><use href="#C37" x="892.8" y="530"/><use href="#C37" x="884.4" y="534.3"/><use href="#C37" x="845.9" y="554.3"/><use href="#C37" x="854.3" y="550"/><use href="#C37" x="914.8" y="494"/><use href="#C37" x="914.8" y="485.7"/><use href="#C37" x="914.8" y="477.4"/><use href="#C37" x="906.5" y="470"/><use href="#N44" x="900.1" y="472.5"/><use href="#S42" x="895.4" y="464.5"/><use href="#C37" x="922.2" y="470"/><use href="#C37" x="938.3" y="530.6"/><use href="#C37" x="945.2" y="535.1"/><use href="#C37" x="953.5" y="538.2"/><use href="#N44" x="960.3" y="529.5"/><use href="#S42" x="969.9" y="528.4"/><use href="#C37" x="952.6" y="546.5"/><use href="#C37" x="951.6" y="553.8"/><use href="#S42" x="942.4" y="540.9"/><use href="#N44" x="524.4" y="727.9"/><use href="#C37" x="531" y="732.4"/><use href="#C37" x="517.2" y="731.3"/><use href="#C37" x="525" y="719.9"/><use href="#N44" x="538.2" y="729"/><use href="#N44" x="530.3" y="740.4"/><use href="#N44" x="516.5" y="739.3"/><use href="#N44" x="510.6" y="726.7"/><use href="#N44" x="518.4" y="715.3"/><use href="#N44" x="532.3" y="716.4"/><use href="#C37" x="538.9" y="721"/><use href="#C37" x="523.1" y="743.8"/><use href="#C37" x="511.2" y="718.8"/><use href="#C37" x="573.1" y="705.3"/><use href="#C37" x="573.8" y="697.8"/><use href="#C37" x="580.7" y="694.7"/><use href="#C37" x="586.8" y="699"/><use href="#C37" x="586.1" y="706.6"/><use href="#C37" x="579.2" y="709.7"/><use href="#S42" x="587.5" y="718.7"/><use href="#N44" x="580.1" y="717.2"/><use href="#N44" x="591.2" y="712.1"/><use href="#C37" x="550.3" y="715.8"/><use href="#C37" x="561.7" y="710.5"/><use href="#C37" x="609.6" y="688.6"/><use href="#C37" x="598.2" y="693.8"/><use href="#C37" x="507.7" y="708.1"/><use href="#C37" x="504.1" y="697.5"/><use href="#N44" x="502.3" y="689.4"/><use href="#S42" x="498.3" y="681.4"/><use href="#C37" x="495.4" y="696.4"/><use href="#C37" x="489.4" y="704.4"/><use href="#C37" x="522.4" y="754.7"/><use href="#C37" x="521.6" y="765.6"/><use href="#N44" x="519.3" y="776.1"/><use href="#S42" x="513.3" y="786.1"/><use href="#C37" x="529.9" y="774.8"/><use href="#C37" x="528.1" y="784"/><path d="M734 502.3L733.8 511M734 502.3L726.5 497.8M734 502.3L741.6 498.1M748.9 511.3L741.3 515.5M748.9 511.3L749.1 502.6M741.3 515.5L733.8 511M749.1 502.6L741.6 498.1M718.8 510.7L718.9 502M718.8 510.7L726.2 515.2M718.9 502L726.5 497.8M726.2 515.2L733.8 511M734.3 484.9L741.8 489.4M734.3 484.9L726.7 489.1M741.8 489.4L741.6 498.1M726.7 489.1L726.5 497.8M833 562L825.5 566.4M833 562L833 553.3M833 562L840.5 566.4M833 579.4L825.5 575M833 579.4L840.5 575M825.5 575L825.5 566.4M840.5 575L840.5 566.4M817.9 553.3L825.5 549M817.9 553.3L817.9 562M825.5 549L833 553.3M817.9 562L825.5 566.4M848.1 553.3L848.1 562M848.1 553.3L840.5 549M848.1 562L840.5 566.4M840.5 549L833 553.3M833 678L825.4 673.7M833 678L840.5 673.6M833 678L833.1 686.7M818 686.8L817.9 678.1M818 686.8L825.5 691.1M817.9 678.1L825.4 673.7M825.5 691.1L833.1 686.7M832.9 660.6L840.5 664.9M832.9 660.6L825.4 665M840.5 664.9L840.5 673.6M825.4 665L825.4 673.7M848.1 686.6L840.6 691M848.1 686.6L848.1 677.9M840.6 691L833.1 686.7M848.1 677.9L840.5 673.6M730.5 738L730.4 729.3M730.5 738L738.1 742.3M730.5 738L723 742.4M715.4 729.4L722.9 725M715.4 729.4L715.4 738.1M722.9 725L730.4 729.3M715.4 738.1L723 742.4M745.5 729.2L745.6 737.9M745.5 729.2L737.9 724.9M745.6 737.9L738.1 742.3M737.9 724.9L730.4 729.3M730.7 755.4L723.1 751.1M730.7 755.4L738.1 751M723.1 751.1L723 742.4M738.1 751L738.1 742.3M628 680L635.5 675.6M628 680L628 688.7M628 680L620.5 675.6M628 662.6L635.5 667M628 662.6L620.5 667M635.5 667L635.5 675.6M620.5 667L620.5 675.6M643.1 688.7L635.5 693M643.1 688.7L643.1 680M635.5 693L628 688.7M643.1 680L635.5 675.6M612.9 688.7L612.9 680M612.9 688.7L620.5 693M612.9 680L620.5 675.6M620.5 693L628 688.7M628 563L635.5 567.4M628 563L620.5 567.3M628 563L628 554.3M643.1 554.4L643.1 563.1M643.1 554.4L635.6 550M643.1 563.1L635.5 567.4M635.6 550L628 554.3M627.9 580.4L620.4 576M627.9 580.4L635.5 576.1M620.4 576L620.5 567.3M635.5 576.1L635.5 567.4M613 554.2L620.5 549.9M613 554.2L612.9 562.9M620.5 549.9L628 554.3M612.9 562.9L620.5 567.3M776.4 528L783.6 524.1M783.6 524.1L790.6 528.4M790.6 528.4L790.4 536.6M790.4 536.6L783.2 540.5M783.2 540.5L776.2 536.2M776.2 536.2L776.4 528M790.6 528.4L796.8 523M796.8 523L793.7 515.4M783.6 524.1L785.5 516.1M785.5 516.1L793.7 515.4M748.9 511.3L758.1 516.9M758.1 516.9L767.2 522.4M767.2 522.4L776.4 528M817.9 553.3L808.8 547.7M808.8 547.7L799.6 542.1M799.6 542.1L790.4 536.6M833 611.8L840.1 615.9M840.1 615.9L840 624.1M840 624.1L832.9 628.2M832.9 628.2L825.8 624.1M825.8 624.1L825.9 615.9M825.9 615.9L833 611.8M825.9 615.9L818.1 613.3M818.1 613.3L813.2 620M825.8 624.1L818 626.6M818 626.6L813.2 620M833 579.4L833 590.2M833 590.2L833 601M833 601L833 611.8M832.9 660.6L832.9 649.8M832.9 649.8L832.9 639M832.9 639L832.9 628.2M788.8 703.8L788.9 712M788.9 712L781.8 716.2M781.8 716.2L774.7 712.1M774.7 712.1L774.6 703.9M774.6 703.9L781.7 699.8M781.7 699.8L788.8 703.8M781.8 716.2L783.5 724.2M783.5 724.2L791.7 725M788.9 712L795 717.5M795 717.5L791.7 725M818 686.8L808.3 692.5M808.3 692.5L798.5 698.2M798.5 698.2L788.8 703.8M745.5 729.2L755.2 723.5M755.2 723.5L764.9 717.8M764.9 717.8L774.7 712.1M686.4 713.1L679.3 717.3M679.3 717.3L672.2 713.2M672.2 713.2L672.1 705M672.1 705L679.1 700.9M679.1 700.9L686.3 704.9M686.3 704.9L686.4 713.1M686.3 704.9L692.3 699.3M692.3 699.3L688.9 691.9M679.1 700.9L680.7 692.8M680.7 692.8L688.9 691.9M715.4 729.4L705.7 724M705.7 724L696 718.5M696 718.5L686.4 713.1M643.1 688.7L652.7 694.1M652.7 694.1L662.4 699.6M662.4 699.6L672.1 705M628 629.7L620.9 625.6M620.9 625.6L620.9 617.4M620.9 617.4L628 613.3M628 613.3L635.1 617.4M635.1 617.4L635.1 625.6M635.1 625.6L628 629.7M620.9 617.4L613.1 614.9M613.1 614.9L608.3 621.5M620.9 625.6L613.1 628.1M613.1 628.1L608.3 621.5M628 662.6L628 651.6M628 651.6L628 640.7M628 640.7L628 629.7M627.9 580.4L627.9 591.4M627.9 591.4L628 602.3M628 602.3L628 613.3M673.8 536.6L673.8 528.4M673.8 528.4L680.9 524.3M680.9 524.3L688 528.4M688 528.4L688 536.6M688 536.6L680.9 540.7M680.9 540.7L673.8 536.6M680.9 540.7L682.6 548.8M682.6 548.8L690.8 549.6M688 536.6L694.1 542.1M694.1 542.1L690.8 549.6M643.1 554.4L653.3 548.4M653.3 548.4L663.6 542.5M663.6 542.5L673.8 536.6M718.8 510.7L708.5 516.6M708.5 516.6L698.3 522.5M698.3 522.5L688 528.4M734.3 484.9L734 476M734 476L734 467M734 467L734 458M734 458L727.5 448M727.5 448L718 452M718 452L712.6 443.8M734 458L744 449.3M730.7 755.4L730.5 765M730.5 765L730.5 775M730.5 775L730.5 785M730.5 785L720 793.7M720 793.7L713 789.7M713 789.7L706.7 797.6M730.5 785L737.7 793.7M613 554.2L610.5 542.5M610.5 542.5L603 535M603 535L598 528M598 528L594.4 518.3M594.4 518.3L590 507.9M598 528L588 530M588 530L579 537.2M848.1 686.6L855 689M855 689L861 693M861 693L867 695M867 695L876 692.5M876 692.5L884.5 691.7M884.5 691.7L893.8 690.3M867 695L870 705M870 705L872.5 714M932 509.5L924.9 505M932 509.5L939.4 505.6M932 509.5L931.7 517.9M917.2 517.4L917.5 509M917.2 517.4L924.3 521.8M917.5 509L924.9 505M924.3 521.8L931.7 517.9M932.6 492.7L939.7 497.2M932.6 492.7L925.2 496.6M939.7 497.2L939.4 505.6M925.2 496.6L924.9 505M946.2 518.4L938.8 522.4M946.2 518.4L946.5 510M938.8 522.4L931.7 517.9M946.5 510L939.4 505.6M889.9 531.6L889.5 539.7M889.5 539.7L882.3 543.5M882.3 543.5L875.3 539.1M875.3 539.1L875.7 530.9M875.7 530.9L883 527.1M883 527.1L889.9 531.6M882.3 543.5L883.6 551.6M883.6 551.6L891.7 552.8M889.5 539.7L895.4 545.5M895.4 545.5L891.7 552.8M917.2 517.4L908.1 522.1M908.1 522.1L899 526.8M899 526.8L889.9 531.6M848.1 553.3L857.2 548.6M857.2 548.6L866.2 543.8M866.2 543.8L875.3 539.1M932.6 492.7L932 483M932 483L932 474M932 474L932 465M932 465L923 457M923 457L916 459.7M916 459.7L910.9 451M932 465L940 457M946.2 518.4L957.5 522.8M957.5 522.8L965 527.7M965 527.7L974 531M974 531L981.4 521.6M981.4 521.6L991.8 520.4M974 531L973 540M973 540L972 548M946.2 518.4L962 534M508 737L515.2 741.9M508 737L500.1 740.7M508 737L508.7 728.3M523.7 729.5L523 738.2M523.7 729.5L516.6 724.6M523 738.2L515.2 741.9M516.6 724.6L508.7 728.3M506.6 754.3L499.4 749.4M506.6 754.3L514.5 750.6M499.4 749.4L500.1 740.7M514.5 750.6L515.2 741.9M493.7 727.1L501.5 723.4M493.7 727.1L493 735.8M501.5 723.4L508.7 728.3M493 735.8L500.1 740.7M560.9 712.5L561.6 704.4M561.6 704.4L569.1 701M569.1 701L575.8 705.7M575.8 705.7L575 713.9M575 713.9L567.6 717.3M567.6 717.3L560.9 712.5M567.6 717.3L568.5 725.4M568.5 725.4L576.5 727M575 713.9L580.6 719.9M580.6 719.9L576.5 727M523.7 729.5L536.1 723.9M536.1 723.9L548.5 718.2M548.5 718.2L560.9 712.5M612.9 688.7L600.5 694.4M600.5 694.4L588.2 700M588.2 700L575.8 705.7M493.7 727.1L489.8 715.6M489.8 715.6L486 704M486 704L484 695.2M484 695.2L479.7 686.6M486 704L476.5 702.8M476.5 702.8L470 711.5M506.6 754.3L505.8 766.2M505.8 766.2L505 778M505 778L502.5 789.4M502.5 789.4L496 800.3M505 778L514 788M514 788L512 798" stroke="#6a6a6a" stroke-width="3.2" stroke-linecap="round" fill="none"/><use href="#C33" x="780" y="526.1"/><use href="#C33" x="787.1" y="526.2"/><use href="#C33" x="790.5" y="532.5"/><use href="#C33" x="786.8" y="538.5"/><use href="#C33" x="779.7" y="538.4"/><use href="#C33" x="776.3" y="532.1"/><use href="#C33" x="753.5" y="514.1"/><use href="#C33" x="762.7" y="519.7"/><use href="#C33" x="771.8" y="525.2"/><use href="#C33" x="813.3" y="550.5"/><use href="#C33" x="804.2" y="544.9"/><use href="#C33" x="795" y="539.3"/><use href="#C33" x="836.5" y="613.9"/><use href="#C33" x="840" y="620"/><use href="#C33" x="836.5" y="626.2"/><use href="#C33" x="829.4" y="626.1"/><use href="#C33" x="825.8" y="620"/><use href="#C33" x="829.4" y="613.8"/><use href="#C33" x="833" y="584.8"/><use href="#C33" x="833" y="595.6"/><use href="#C33" x="833" y="606.4"/><use href="#C33" x="832.9" y="655.2"/><use href="#C33" x="832.9" y="644.4"/><use href="#C33" x="832.9" y="633.6"/><use href="#C33" x="788.8" y="707.9"/><use href="#C33" x="785.3" y="714.1"/><use href="#C33" x="778.2" y="714.1"/><use href="#C33" x="774.6" y="708"/><use href="#C33" x="778.2" y="701.8"/><use href="#C33" x="785.3" y="701.8"/><use href="#C33" x="813.1" y="689.6"/><use href="#C33" x="803.4" y="695.3"/><use href="#C33" x="793.7" y="701"/><use href="#C33" x="750.4" y="726.3"/><use href="#C33" x="760.1" y="720.6"/><use href="#C33" x="769.8" y="715"/><use href="#C33" x="682.8" y="715.2"/><use href="#C33" x="675.7" y="715.3"/><use href="#C33" x="672.1" y="709.1"/><use href="#C33" x="675.6" y="703"/><use href="#C33" x="682.7" y="702.9"/><use href="#C33" x="686.3" y="709"/><use href="#C33" x="710.5" y="726.7"/><use href="#C33" x="700.9" y="721.3"/><use href="#C33" x="691.2" y="715.8"/><use href="#C33" x="647.9" y="691.4"/><use href="#C33" x="657.6" y="696.9"/><use href="#C33" x="667.2" y="702.3"/><use href="#C33" x="624.4" y="627.7"/><use href="#C33" x="620.9" y="621.5"/><use href="#C33" x="624.4" y="615.4"/><use href="#C33" x="631.5" y="615.3"/><use href="#C33" x="635.1" y="621.5"/><use href="#C33" x="631.5" y="627.6"/><use href="#C33" x="628" y="657.1"/><use href="#C33" x="628" y="646.1"/><use href="#C33" x="628" y="635.2"/><use href="#C33" x="627.9" y="585.9"/><use href="#C33" x="628" y="596.8"/><use href="#C33" x="628" y="607.8"/><use href="#C33" x="673.8" y="532.5"/><use href="#C33" x="677.4" y="526.4"/><use href="#C33" x="684.5" y="526.4"/><use href="#C33" x="688" y="532.5"/><use href="#C33" x="684.5" y="538.7"/><use href="#C33" x="677.4" y="538.7"/><use href="#C33" x="648.2" y="551.4"/><use href="#C33" x="658.5" y="545.5"/><use href="#C33" x="668.7" y="539.6"/><use href="#C33" x="713.6" y="513.7"/><use href="#C33" x="703.4" y="519.6"/><use href="#C33" x="693.2" y="525.5"/><use href="#C33" x="734.2" y="480.5"/><use href="#C33" x="734" y="471.5"/><use href="#C33" x="734" y="462.5"/><use href="#C33" x="730.8" y="453"/><use href="#C33" x="739" y="453.6"/><use href="#C33" x="730.6" y="760.2"/><use href="#C33" x="730.5" y="770"/><use href="#C33" x="730.5" y="780"/><use href="#C33" x="725.2" y="789.4"/><use href="#C33" x="734.1" y="789.4"/><use href="#C33" x="611.7" y="548.4"/><use href="#C33" x="606.8" y="538.8"/><use href="#C33" x="600.5" y="531.5"/><use href="#C33" x="593" y="529"/><use href="#C33" x="583.5" y="533.6"/><use href="#C33" x="851.6" y="687.8"/><use href="#C33" x="858" y="691"/><use href="#C33" x="864" y="694"/><use href="#C33" x="871.5" y="693.8"/><use href="#C33" x="868.5" y="700"/><use href="#C33" x="871.2" y="709.5"/><use href="#C33" x="889.7" y="535.6"/><use href="#C33" x="885.9" y="541.6"/><use href="#C33" x="878.8" y="541.3"/><use href="#C33" x="875.5" y="535"/><use href="#C33" x="879.3" y="529"/><use href="#C33" x="886.4" y="529.3"/><use href="#C33" x="912.6" y="519.7"/><use href="#C33" x="903.5" y="524.5"/><use href="#C33" x="894.4" y="529.2"/><use href="#C33" x="852.6" y="550.9"/><use href="#C33" x="861.7" y="546.2"/><use href="#C33" x="870.8" y="541.5"/><use href="#C33" x="932.3" y="487.9"/><use href="#C33" x="932" y="478.5"/><use href="#C33" x="932" y="469.5"/><use href="#C33" x="927.5" y="461"/><use href="#C33" x="936" y="461"/><use href="#C33" x="951.9" y="520.6"/><use href="#C33" x="961.2" y="525.2"/><use href="#C33" x="969.5" y="529.4"/><use href="#C33" x="973.5" y="535.5"/><use href="#C33" x="972.5" y="544"/><use href="#C33" x="561.3" y="708.4"/><use href="#C33" x="565.4" y="702.7"/><use href="#C33" x="572.4" y="703.3"/><use href="#C33" x="575.4" y="709.8"/><use href="#C33" x="571.3" y="715.6"/><use href="#C33" x="564.2" y="714.9"/><use href="#C33" x="529.9" y="726.7"/><use href="#C33" x="542.3" y="721"/><use href="#C33" x="554.7" y="715.4"/><use href="#C33" x="606.7" y="691.5"/><use href="#C33" x="594.4" y="697.2"/><use href="#C33" x="582" y="702.9"/><use href="#C33" x="491.8" y="721.3"/><use href="#C33" x="487.9" y="709.8"/><use href="#C33" x="481.2" y="703.4"/><use href="#C33" x="473.2" y="707.1"/><use href="#C33" x="506.2" y="760.3"/><use href="#C33" x="505.4" y="772.1"/><use href="#C33" x="509.5" y="783"/><use href="#C33" x="513" y="793"/><use href="#N46" x="734" y="502.3"/><use href="#C39" x="733.8" y="511"/><use href="#C39" x="726.5" y="497.8"/><use href="#C39" x="741.6" y="498.1"/><use href="#N46" x="741.3" y="515.5"/><use href="#N46" x="726.2" y="515.2"/><use href="#N46" x="718.9" y="502"/><use href="#N46" x="726.7" y="489.1"/><use href="#N46" x="741.8" y="489.4"/><use href="#N46" x="749.1" y="502.6"/><use href="#C39" x="748.9" y="511.3"/><use href="#C39" x="718.8" y="510.7"/><use href="#C39" x="734.3" y="484.9"/><use href="#N46" x="833" y="562"/><use href="#C39" x="825.5" y="566.4"/><use href="#C39" x="833" y="553.3"/><use href="#C39" x="840.5" y="566.4"/><use href="#N46" x="825.5" y="575"/><use href="#N46" x="817.9" y="562"/><use href="#N46" x="825.5" y="549"/><use href="#N46" x="840.5" y="549"/><use href="#N46" x="848.1" y="562"/><use href="#N46" x="840.5" y="575"/><use href="#C39" x="833" y="579.4"/><use href="#C39" x="817.9" y="553.3"/><use href="#C39" x="848.1" y="553.3"/><use href="#N46" x="833" y="678"/><use href="#C39" x="825.4" y="673.7"/><use href="#C39" x="840.5" y="673.6"/><use href="#C39" x="833.1" y="686.7"/><use href="#N46" x="817.9" y="678.1"/><use href="#N46" x="825.4" y="665"/><use href="#N46" x="840.5" y="664.9"/><use href="#N46" x="848.1" y="677.9"/><use href="#N46" x="840.6" y="691"/><use href="#N46" x="825.5" y="691.1"/><use href="#C39" x="818" y="686.8"/><use href="#C39" x="832.9" y="660.6"/><use href="#C39" x="848.1" y="686.6"/><use href="#N46" x="730.5" y="738"/><use href="#C39" x="730.4" y="729.3"/><use href="#C39" x="738.1" y="742.3"/><use href="#C39" x="723" y="742.4"/><use href="#N46" x="722.9" y="725"/><use href="#N46" x="737.9" y="724.9"/><use href="#N46" x="745.6" y="737.9"/><use href="#N46" x="738.1" y="751"/><use href="#N46" x="723.1" y="751.1"/><use href="#N46" x="715.4" y="738.1"/><use href="#C39" x="715.4" y="729.4"/><use href="#C39" x="745.5" y="729.2"/><use href="#C39" x="730.7" y="755.4"/><use href="#N46" x="628" y="680"/><use href="#C39" x="635.5" y="675.6"/><use href="#C39" x="628" y="688.7"/><use href="#C39" x="620.5" y="675.6"/><use href="#N46" x="635.5" y="667"/><use href="#N46" x="643.1" y="680"/><use href="#N46" x="635.5" y="693"/><use href="#N46" x="620.5" y="693"/><use href="#N46" x="612.9" y="680"/><use href="#N46" x="620.5" y="667"/><use href="#C39" x="628" y="662.6"/><use href="#C39" x="643.1" y="688.7"/><use href="#C39" x="612.9" y="688.7"/><use href="#N46" x="628" y="563"/><use href="#C39" x="635.5" y="567.4"/><use href="#C39" x="620.5" y="567.3"/><use href="#C39" x="628" y="554.3"/><use href="#N46" x="643.1" y="563.1"/><use href="#N46" x="635.5" y="576.1"/><use href="#N46" x="620.4" y="576"/><use href="#N46" x="612.9" y="562.9"/><use href="#N46" x="620.5" y="549.9"/><use href="#N46" x="635.6" y="550"/><use href="#C39" x="643.1" y="554.4"/><use href="#C39" x="627.9" y="580.4"/><use href="#C39" x="613" y="554.2"/><use href="#C39" x="776.4" y="528"/><use href="#C39" x="783.6" y="524.1"/><use href="#C39" x="790.6" y="528.4"/><use href="#C39" x="790.4" y="536.6"/><use href="#C39" x="783.2" y="540.5"/><use href="#C39" x="776.2" y="536.2"/><use href="#S44" x="793.7" y="515.4"/><use href="#N46" x="796.8" y="523"/><use href="#N46" x="785.5" y="516.1"/><use href="#C39" x="758.1" y="516.9"/><use href="#C39" x="767.2" y="522.4"/><use href="#C39" x="808.8" y="547.7"/><use href="#C39" x="799.6" y="542.1"/><use href="#C39" x="833" y="611.8"/><use href="#C39" x="840.1" y="615.9"/><use href="#C39" x="840" y="624.1"/><use href="#C39" x="832.9" y="628.2"/><use href="#C39" x="825.8" y="624.1"/><use href="#C39" x="825.9" y="615.9"/><use href="#S44" x="813.2" y="620"/><use href="#N46" x="818.1" y="613.3"/><use href="#N46" x="818" y="626.6"/><use href="#C39" x="833" y="590.2"/><use href="#C39" x="833" y="601"/><use href="#C39" x="832.9" y="649.8"/><use href="#C39" x="832.9" y="639"/><use href="#C39" x="788.8" y="703.8"/><use href="#C39" x="788.9" y="712"/><use href="#C39" x="781.8" y="716.2"/><use href="#C39" x="774.7" y="712.1"/><use href="#C39" x="774.6" y="703.9"/><use href="#C39" x="781.7" y="699.8"/><use href="#S44" x="791.7" y="725"/><use href="#N46" x="783.5" y="724.2"/><use href="#N46" x="795" y="717.5"/><use href="#C39" x="808.3" y="692.5"/><use href="#C39" x="798.5" y="698.2"/><use href="#C39" x="755.2" y="723.5"/><use href="#C39" x="764.9" y="717.8"/><use href="#C39" x="686.4" y="713.1"/><use href="#C39" x="679.3" y="717.3"/><use href="#C39" x="672.2" y="713.2"/><use href="#C39" x="672.1" y="705"/><use href="#C39" x="679.1" y="700.9"/><use href="#C39" x="686.3" y="704.9"/><use href="#S44" x="688.9" y="691.9"/><use href="#N46" x="692.3" y="699.3"/><use href="#N46" x="680.7" y="692.8"/><use href="#C39" x="705.7" y="724"/><use href="#C39" x="696" y="718.5"/><use href="#C39" x="652.7" y="694.1"/><use href="#C39" x="662.4" y="699.6"/><use href="#C39" x="628" y="629.7"/><use href="#C39" x="620.9" y="625.6"/><use href="#C39" x="620.9" y="617.4"/><use href="#C39" x="628" y="613.3"/><use href="#C39" x="635.1" y="617.4"/><use href="#C39" x="635.1" y="625.6"/><use href="#S44" x="608.3" y="621.5"/><use href="#N46" x="613.1" y="614.9"/><use href="#N46" x="613.1" y="628.1"/><use href="#C39" x="628" y="651.6"/><use href="#C39" x="628" y="640.7"/><use href="#C39" x="627.9" y="591.4"/><use href="#C39" x="628" y="602.3"/><use href="#C39" x="673.8" y="536.6"/><use href="#C39" x="673.8" y="528.4"/><use href="#C39" x="680.9" y="524.3"/><use href="#C39" x="688" y="528.4"/><use href="#C39" x="688" y="536.6"/><use href="#C39" x="680.9" y="540.7"/><use href="#S44" x="690.8" y="549.6"/><use href="#N46" x="682.6" y="548.8"/><use href="#N46" x="694.1" y="542.1"/><use href="#C39" x="653.3" y="548.4"/><use href="#C39" x="663.6" y="542.5"/><use href="#C39" x="708.5" y="516.6"/><use href="#C39" x="698.3" y="522.5"/><use href="#C39" x="734" y="476"/><use href="#C39" x="734" y="467"/><use href="#C39" x="734" y="458"/><use href="#C39" x="727.5" y="448"/><use href="#N46" x="718" y="452"/><use href="#S44" x="712.6" y="443.8"/><use href="#C39" x="744" y="449.3"/><use href="#C39" x="730.5" y="765"/><use href="#C39" x="730.5" y="775"/><use href="#C39" x="730.5" y="785"/><use href="#C39" x="720" y="793.7"/><use href="#N46" x="713" y="789.7"/><use href="#S44" x="706.7" y="797.6"/><use href="#C39" x="737.7" y="793.7"/><use href="#C39" x="610.5" y="542.5"/><use href="#C39" x="603" y="535"/><use href="#C39" x="598" y="528"/><use href="#N46" x="594.4" y="518.3"/><use href="#S44" x="590" y="507.9"/><use href="#C39" x="588" y="530"/><use href="#C39" x="579" y="537.2"/><use href="#C39" x="855" y="689"/><use href="#C39" x="861" y="693"/><use href="#C39" x="867" y="695"/><use href="#C39" x="876" y="692.5"/><use href="#N46" x="884.5" y="691.7"/><use href="#S44" x="893.8" y="690.3"/><use href="#C39" x="870" y="705"/><use href="#C39" x="872.5" y="714"/><use href="#N46" x="932" y="509.5"/><use href="#C39" x="924.9" y="505"/><use href="#C39" x="939.4" y="505.6"/><use href="#C39" x="931.7" y="517.9"/><use href="#N46" x="917.5" y="509"/><use href="#N46" x="925.2" y="496.6"/><use href="#N46" x="939.7" y="497.2"/><use href="#N46" x="946.5" y="510"/><use href="#N46" x="938.8" y="522.4"/><use href="#N46" x="924.3" y="521.8"/><use href="#C39" x="917.2" y="517.4"/><use href="#C39" x="932.6" y="492.7"/><use href="#C39" x="946.2" y="518.4"/><use href="#C39" x="889.9" y="531.6"/><use href="#C39" x="889.5" y="539.7"/><use href="#C39" x="882.3" y="543.5"/><use href="#C39" x="875.3" y="539.1"/><use href="#C39" x="875.7" y="530.9"/><use href="#C39" x="883" y="527.1"/><use href="#S44" x="891.7" y="552.8"/><use href="#N46" x="883.6" y="551.6"/><use href="#N46" x="895.4" y="545.5"/><use href="#C39" x="908.1" y="522.1"/><use href="#C39" x="899" y="526.8"/><use href="#C39" x="857.2" y="548.6"/><use href="#C39" x="866.2" y="543.8"/><use href="#C39" x="932" y="483"/><use href="#C39" x="932" y="474"/><use href="#C39" x="932" y="465"/><use href="#C39" x="923" y="457"/><use href="#N46" x="916" y="459.7"/><use href="#S44" x="910.9" y="451"/><use href="#C39" x="940" y="457"/><use href="#C39" x="957.5" y="522.8"/><use href="#C39" x="965" y="527.7"/><use href="#C39" x="974" y="531"/><use href="#N46" x="981.4" y="521.6"/><use href="#S44" x="991.8" y="520.4"/><use href="#C39" x="973" y="540"/><use href="#C39" x="972" y="548"/><use href="#S44" x="962" y="534"/><use href="#N46" x="508" y="737"/><use href="#C39" x="515.2" y="741.9"/><use href="#C39" x="500.1" y="740.7"/><use href="#C39" x="508.7" y="728.3"/><use href="#N46" x="523" y="738.2"/><use href="#N46" x="514.5" y="750.6"/><use href="#N46" x="499.4" y="749.4"/><use href="#N46" x="493" y="735.8"/><use href="#N46" x="501.5" y="723.4"/><use href="#N46" x="516.6" y="724.6"/><use href="#C39" x="523.7" y="729.5"/><use href="#C39" x="506.6" y="754.3"/><use href="#C39" x="493.7" y="727.1"/><use href="#C39" x="560.9" y="712.5"/><use href="#C39" x="561.6" y="704.4"/><use href="#C39" x="569.1" y="701"/><use href="#C39" x="575.8" y="705.7"/><use href="#C39" x="575" y="713.9"/><use href="#C39" x="567.6" y="717.3"/><use href="#S44" x="576.5" y="727"/><use href="#N46" x="568.5" y="725.4"/><use href="#N46" x="580.6" y="719.9"/><use href="#C39" x="536.1" y="723.9"/><use href="#C39" x="548.5" y="718.2"/><use href="#C39" x="600.5" y="694.4"/><use href="#C39" x="588.2" y="700"/><use href="#C39" x="489.8" y="715.6"/><use href="#C39" x="486" y="704"/><use href="#N46" x="484" y="695.2"/><use href="#S44" x="479.7" y="686.6"/><use href="#C39" x="476.5" y="702.8"/><use href="#C39" x="470" y="711.5"/><use href="#C39" x="505.8" y="766.2"/><use href="#C39" x="505" y="778"/><use href="#N46" x="502.5" y="789.4"/><use href="#S44" x="496" y="800.3"/><use href="#C39" x="514" y="788"/><use href="#C39" x="512" y="798"/></g>
<line x1="1004.5" y1="458" x2="997" y2="805" stroke="#6a6a6a" stroke-width="4"/><use href="#C40" x="1004.5" y="458"/><use href="#C38" x="1004.3" y="465"/><use href="#S46" x="1004.1" y="476"/><use href="#C38" x="1003.9" y="485"/><use href="#N46" x="1003.7" y="494"/><use href="#C38" x="1003.5" y="502"/><use href="#N46" x="1003.4" y="510"/><use href="#C39" x="1003.2" y="518"/><use href="#C39" x="1003.1" y="524"/><use href="#C39" x="1002.9" y="530"/><use href="#C39" x="1002.8" y="536"/><use href="#C39" x="1002.7" y="542"/><use href="#C39" x="1002.6" y="548"/><use href="#C39" x="1002.4" y="554"/><use href="#C39" x="1002.3" y="560"/><use href="#C39" x="1002.2" y="566"/><use href="#C39" x="1002" y="572"/><use href="#N50" x="1001.8" y="583"/><use href="#N50" x="1001.6" y="591"/><use href="#S48" x="1001.5" y="599"/><use href="#N46" x="1001.3" y="605"/><use href="#C50" x="1001.2" y="611"/><use href="#C42" x="997.7" y="612"/><use href="#C42" x="1005.2" y="613"/><use href="#C50" x="1001.1" y="616"/><use href="#C42" x="997.6" y="617"/><use href="#C42" x="1006.1" y="618"/><use href="#C50" x="1001" y="621"/><use href="#C42" x="997.5" y="622"/><use href="#C42" x="1003" y="623"/><use href="#C50" x="1000.9" y="626"/><use href="#C42" x="997.4" y="627"/><use href="#C42" x="1003.9" y="628"/><use href="#C50" x="1000.8" y="631"/><use href="#C42" x="997.3" y="632"/><use href="#C42" x="1004.8" y="633"/><use href="#S52" x="1000.6" y="637"/><use href="#N50" x="1000.4" y="646"/><use href="#C40" x="1000.3" y="653"/><use href="#N50" x="1000.2" y="659"/><use href="#C39" x="1000" y="666"/><use href="#C39" x="999.9" y="672"/><use href="#C39" x="999.7" y="678"/><use href="#C39" x="999.6" y="684"/><use href="#C39" x="999.5" y="690"/><use href="#C39" x="999.4" y="696"/><use href="#C39" x="999.2" y="702"/><use href="#C39" x="999.1" y="708"/><use href="#C39" x="999" y="714"/><use href="#C39" x="998.8" y="720"/><use href="#C39" x="998.7" y="726"/><use href="#C39" x="998.6" y="732"/><use href="#C39" x="998.4" y="738"/><use href="#N50" x="998.3" y="745"/><use href="#C40" x="998.1" y="754"/><use href="#N50" x="997.9" y="761.5"/><use href="#C42" x="997.8" y="768"/><use href="#C46" x="997.7" y="774"/><use href="#C40" x="997.5" y="781"/><use href="#S50" x="997.4" y="788"/><use href="#C40" x="997.2" y="796"/><use href="#C46" x="997" y="805"/><line x1="1031" y1="458" x2="1030" y2="805" stroke="#6a6a6a" stroke-width="4"/><use href="#C40" x="1031" y="458"/><use href="#C38" x="1031" y="465"/><use href="#S46" x="1030.9" y="476"/><use href="#C38" x="1030.9" y="485"/><use href="#N46" x="1030.9" y="494"/><use href="#C38" x="1030.9" y="502"/><use href="#N46" x="1030.9" y="510"/><use href="#C39" x="1030.8" y="518"/><use href="#C39" x="1030.8" y="524"/><use href="#C39" x="1030.8" y="530"/><use href="#C39" x="1030.8" y="536"/><use href="#C39" x="1030.8" y="542"/><use href="#C39" x="1030.7" y="548"/><use href="#C39" x="1030.7" y="554"/><use href="#C39" x="1030.7" y="560"/><use href="#C39" x="1030.7" y="566"/><use href="#C39" x="1030.7" y="572"/><use href="#N50" x="1030.6" y="583"/><use href="#N50" x="1030.6" y="591"/><use href="#S48" x="1030.6" y="599"/><use href="#N46" x="1030.6" y="605"/><use href="#C50" x="1030.6" y="611"/><use href="#C42" x="1027.1" y="612"/><use href="#C42" x="1034.6" y="613"/><use href="#C50" x="1030.5" y="616"/><use href="#C42" x="1027" y="617"/><use href="#C42" x="1035.5" y="618"/><use href="#C50" x="1030.5" y="621"/><use href="#C42" x="1027" y="622"/><use href="#C42" x="1032.5" y="623"/><use href="#C50" x="1030.5" y="626"/><use href="#C42" x="1027" y="627"/><use href="#C42" x="1033.5" y="628"/><use href="#C50" x="1030.5" y="631"/><use href="#C42" x="1027" y="632"/><use href="#C42" x="1034.5" y="633"/><use href="#S52" x="1030.5" y="637"/><use href="#N50" x="1030.5" y="646"/><use href="#C40" x="1030.4" y="653"/><use href="#N50" x="1030.4" y="659"/><use href="#C39" x="1030.4" y="666"/><use href="#C39" x="1030.4" y="672"/><use href="#C39" x="1030.4" y="678"/><use href="#C39" x="1030.3" y="684"/><use href="#C39" x="1030.3" y="690"/><use href="#C39" x="1030.3" y="696"/><use href="#C39" x="1030.3" y="702"/><use href="#C39" x="1030.3" y="708"/><use href="#C39" x="1030.3" y="714"/><use href="#C39" x="1030.2" y="720"/><use href="#C39" x="1030.2" y="726"/><use href="#C39" x="1030.2" y="732"/><use href="#C39" x="1030.2" y="738"/><use href="#N50" x="1030.2" y="745"/><use href="#C40" x="1030.1" y="754"/><use href="#N50" x="1030.1" y="761.5"/><use href="#C42" x="1030.1" y="768"/><use href="#C46" x="1030.1" y="774"/><use href="#C40" x="1030.1" y="781"/><use href="#S50" x="1030" y="788"/><use href="#C40" x="1030" y="796"/><use href="#C46" x="1030" y="805"/><line x1="1059.5" y1="458" x2="1063" y2="805" stroke="#6a6a6a" stroke-width="4"/><use href="#C40" x="1059.5" y="458"/><use href="#C38" x="1059.6" y="465"/><use href="#S46" x="1059.7" y="476"/><use href="#C38" x="1059.8" y="485"/><use href="#N46" x="1059.9" y="494"/><use href="#C38" x="1059.9" y="502"/><use href="#N46" x="1060" y="510"/><use href="#C39" x="1060.1" y="518"/><use href="#C39" x="1060.2" y="524"/><use href="#C39" x="1060.2" y="530"/><use href="#C39" x="1060.3" y="536"/><use href="#C39" x="1060.3" y="542"/><use href="#C39" x="1060.4" y="548"/><use href="#C39" x="1060.5" y="554"/><use href="#C39" x="1060.5" y="560"/><use href="#C39" x="1060.6" y="566"/><use href="#C39" x="1060.6" y="572"/><use href="#N50" x="1060.8" y="583"/><use href="#N50" x="1060.8" y="591"/><use href="#S48" x="1060.9" y="599"/><use href="#N46" x="1061" y="605"/><use href="#C50" x="1061" y="611"/><use href="#C42" x="1057.5" y="612"/><use href="#C42" x="1065" y="613"/><use href="#C50" x="1061.1" y="616"/><use href="#C42" x="1057.6" y="617"/><use href="#C42" x="1066.1" y="618"/><use href="#C50" x="1061.1" y="621"/><use href="#C42" x="1057.6" y="622"/><use href="#C42" x="1063.1" y="623"/><use href="#C50" x="1061.2" y="626"/><use href="#C42" x="1057.7" y="627"/><use href="#C42" x="1064.2" y="628"/><use href="#C50" x="1061.2" y="631"/><use href="#C42" x="1057.7" y="632"/><use href="#C42" x="1065.2" y="633"/><use href="#S52" x="1061.3" y="637"/><use href="#N50" x="1061.4" y="646"/><use href="#C40" x="1061.5" y="653"/><use href="#N50" x="1061.5" y="659"/><use href="#C39" x="1061.6" y="666"/><use href="#C39" x="1061.7" y="672"/><use href="#C39" x="1061.7" y="678"/><use href="#C39" x="1061.8" y="684"/><use href="#C39" x="1061.8" y="690"/><use href="#C39" x="1061.9" y="696"/><use href="#C39" x="1062" y="702"/><use href="#C39" x="1062" y="708"/><use href="#C39" x="1062.1" y="714"/><use href="#C39" x="1062.1" y="720"/><use href="#C39" x="1062.2" y="726"/><use href="#C39" x="1062.3" y="732"/><use href="#C39" x="1062.3" y="738"/><use href="#N50" x="1062.4" y="745"/><use href="#C40" x="1062.5" y="754"/><use href="#N50" x="1062.6" y="761.5"/><use href="#C42" x="1062.6" y="768"/><use href="#C46" x="1062.7" y="774"/><use href="#C40" x="1062.8" y="781"/><use href="#S50" x="1062.8" y="788"/><use href="#C40" x="1062.9" y="796"/><use href="#C46" x="1063" y="805"/><use href="#C42" x="990" y="612"/><use href="#C42" x="987" y="620"/><use href="#C42" x="992" y="627"/><use href="#C42" x="1008" y="610"/><use href="#C42" x="1010" y="622"/><use href="#S50" x="990" y="636"/><use href="#S40" x="1007" y="633.6"/><use href="#N46" x="1001.8" y="781.8"/><use href="#S46" x="1002.5" y="789.5"/>
<line x1="674" y1="622" x2="764" y2="622" stroke="#e41414" stroke-width="3.8"/><polygon points="666,622 678,616.2 675.5,622 678,627.8" fill="#e41414"/><polygon points="772,622 760,616.2 762.5,622 760,627.8" fill="#e41414"/><path d="M1027,452.5 Q1027,445.5 1035,445.5 L1039,445.5 Q1044,445.5 1044.5,438.5 Q1045,445.5 1050,445.5 L1054,445.5 Q1062,445.5 1062,452.5" fill="none" stroke="#d01818" stroke-width="3.4" stroke-linejoin="round"/>
<rect x="664.4" y="20.8" width="401" height="345" fill="none" stroke="#111" stroke-width="2"/>
<line x1="690.9" y1="366" x2="690.9" y2="373.5" stroke="#111" stroke-width="2"/>
<line x1="809.9" y1="366" x2="809.9" y2="373.5" stroke="#111" stroke-width="2"/>
<line x1="928.9" y1="366" x2="928.9" y2="373.5" stroke="#111" stroke-width="2"/>
<line x1="1047.9" y1="366" x2="1047.9" y2="373.5" stroke="#111" stroke-width="2"/>
<line x1="750.4" y1="366" x2="750.4" y2="371" stroke="#111" stroke-width="2"/>
<line x1="869.4" y1="366" x2="869.4" y2="371" stroke="#111" stroke-width="2"/>
<line x1="988.4" y1="366" x2="988.4" y2="371" stroke="#111" stroke-width="2"/>
<path d="M665.0,48.9 C670.8,48.9 684.2,48.8 700.0,48.8 C715.8,48.8 743.3,48.7 760.0,48.6 C776.7,48.5 788.3,48.3 800.0,48.1 C811.7,47.9 820.0,47.6 830.0,47.3 C840.0,46.9 851.7,46.3 860.0,46.0 C868.3,45.7 874.2,45.5 880.0,45.5 C885.8,45.5 890.8,45.7 895.0,46.2 C899.2,46.7 902.2,47.4 905.0,48.6 C907.8,49.8 909.8,51.3 912.0,53.5 C914.2,55.7 916.2,57.4 918.0,62.0 C919.8,66.6 921.6,75.5 923.0,81.0 C924.4,86.5 925.4,91.8 926.5,95.0 C927.6,98.2 928.4,100.8 929.5,100.5 C930.6,100.2 931.6,96.6 933.0,93.0 C934.4,89.4 936.7,80.3 938.0,79.0 C939.3,77.7 940.0,83.4 941.0,85.0 C942.0,86.6 942.7,89.0 944.0,88.5 C945.3,88.0 947.2,84.1 949.0,82.0 C950.8,79.9 953.0,78.0 955.0,76.0 C957.0,74.0 959.2,71.8 961.0,70.0 C962.8,68.2 964.7,63.7 966.0,65.0 C967.3,66.3 967.8,72.2 969.0,78.0 C970.2,83.8 972.2,98.3 973.5,100.0 C974.8,101.7 975.6,92.0 977.0,88.0 C978.4,84.0 980.6,76.0 982.0,76.0 C983.4,76.0 984.3,84.3 985.5,88.0 C986.7,91.7 987.8,98.0 989.0,98.0 C990.2,98.0 991.3,91.3 993.0,88.0 C994.7,84.7 997.0,80.2 999.0,78.0 C1001.0,75.8 1003.0,76.0 1005.0,75.0 C1007.0,74.0 1009.0,73.0 1011.0,72.0 C1013.0,71.0 1015.1,70.0 1017.0,69.0 C1018.9,68.0 1021.0,64.8 1022.5,66.0 C1024.0,67.2 1024.8,72.7 1026.0,76.0 C1027.2,79.3 1028.7,85.8 1030.0,86.0 C1031.3,86.2 1032.7,79.5 1034.0,77.0 C1035.3,74.5 1036.7,71.0 1038.0,71.0 C1039.3,71.0 1040.5,74.8 1042.0,77.0 C1043.5,79.2 1045.5,84.0 1047.0,84.5 C1048.5,85.0 1049.6,81.4 1051.0,80.0 C1052.4,78.6 1054.0,77.2 1055.5,76.0 C1057.0,74.8 1058.4,73.7 1060.0,73.0 C1061.6,72.3 1064.2,72.2 1065.0,72.0" fill="none" stroke="#111" stroke-width="2.5"/>
<path d="M665.0,162.0 C665.8,162.2 668.0,162.6 670.0,163.5 C672.0,164.4 674.2,166.2 676.7,167.5 C679.2,168.8 682.6,171.6 685.3,171.3 C688.0,171.1 690.2,167.1 692.7,166.0 C695.2,164.9 696.5,164.8 700.0,164.5 C703.5,164.2 703.1,164.3 713.5,164.0 C723.9,163.7 749.8,163.1 762.5,162.5 C775.2,161.9 781.9,161.2 790.0,160.5 C798.1,159.8 806.7,158.5 811.4,158.4 C816.1,158.3 816.0,159.3 818.0,160.0 C820.0,160.7 822.0,162.5 823.7,162.5 C825.4,162.5 826.4,160.9 828.0,160.0 C829.6,159.1 828.1,157.8 833.5,157.0 C838.9,156.2 852.6,155.4 860.4,155.0 C868.1,154.6 870.1,154.7 880.0,154.7 C889.9,154.7 906.9,154.8 920.0,155.0 C933.1,155.2 951.7,152.8 958.8,155.6 C965.9,158.4 961.1,169.7 962.5,171.8 C963.9,173.9 965.4,168.5 967.0,168.0 C968.6,167.5 970.3,168.6 972.0,169.0 C973.7,169.4 975.3,170.1 977.0,170.6 C978.7,171.1 980.3,171.6 982.0,172.0 C983.7,172.4 985.5,172.9 987.0,173.0 C988.5,173.1 989.6,172.3 991.0,172.5 C992.4,172.7 993.9,170.6 995.5,174.0 C997.1,177.4 999.0,191.2 1000.4,192.7 C1001.8,194.2 1002.6,185.1 1004.0,183.0 C1005.4,180.9 1007.3,181.1 1009.0,180.4 C1010.7,179.7 1012.7,180.1 1014.0,179.0 C1015.3,177.9 1015.8,175.6 1017.0,174.0 C1018.2,172.4 1019.7,170.7 1021.0,169.4 C1022.3,168.1 1023.5,167.1 1025.0,166.0 C1026.5,164.9 1028.7,161.5 1030.0,163.0 C1031.3,164.5 1032.0,170.3 1033.0,175.0 C1034.0,179.7 1034.7,185.0 1036.0,191.4 C1037.3,197.8 1039.7,211.4 1041.0,213.5 C1042.3,215.6 1043.0,206.9 1044.0,204.0 C1045.0,201.1 1045.8,199.2 1047.0,196.0 C1048.2,192.8 1049.6,188.2 1051.0,185.0 C1052.4,181.8 1054.0,177.9 1055.5,176.7 C1057.0,175.5 1058.4,176.8 1060.0,178.0 C1061.6,179.2 1064.2,183.0 1065.0,184.0" fill="none" stroke="#2a36dd" stroke-width="2.5"/>
<path d="M665.0,246.6 C674.2,246.5 700.8,246.2 720.0,246.0 C739.2,245.8 764.8,245.6 780.0,245.5 C795.2,245.4 805.1,244.9 811.4,245.3 C817.7,245.7 816.0,246.6 818.0,248.0 C820.0,249.4 821.9,254.0 823.7,254.0 C825.5,254.0 827.4,249.7 829.0,248.0 C830.6,246.3 828.3,244.8 833.5,244.0 C838.7,243.2 852.2,243.4 860.0,243.2 C867.8,243.0 871.1,243.1 880.0,243.0 C888.9,242.9 907.2,242.6 913.5,242.9 C919.8,243.2 916.4,243.4 918.0,245.0 C919.6,246.6 921.7,251.5 923.0,252.7 C924.3,253.9 925.0,252.4 926.0,252.0 C927.0,251.6 927.8,249.3 929.0,250.0 C930.2,250.7 931.5,253.2 933.0,256.0 C934.5,258.8 936.5,263.7 938.0,267.0 C939.5,270.3 940.8,273.5 942.0,276.0 C943.2,278.5 943.7,280.6 945.0,282.0 C946.3,283.4 948.7,283.3 950.0,284.5 C951.3,285.7 952.0,287.2 953.0,289.0 C954.0,290.8 955.0,295.3 956.0,295.5 C957.0,295.7 957.9,291.8 959.0,290.0 C960.1,288.2 961.2,286.5 962.5,284.5 C963.8,282.5 965.4,279.8 967.0,278.0 C968.6,276.2 969.8,274.8 972.0,273.5 C974.2,272.2 977.5,270.8 980.0,270.0 C982.5,269.2 984.5,268.6 987.0,268.6 C989.5,268.6 992.6,269.4 995.0,270.0 C997.4,270.6 999.9,271.3 1001.6,272.0 C1003.3,272.7 1003.8,273.3 1005.0,274.0 C1006.2,274.7 1007.8,276.2 1009.0,276.0 C1010.2,275.8 1010.8,273.7 1012.0,273.0 C1013.2,272.3 1013.8,272.8 1016.0,272.0 C1018.2,271.2 1022.1,269.4 1025.0,268.0 C1027.9,266.6 1031.7,263.9 1033.5,263.7 C1035.3,263.5 1035.1,264.3 1036.0,267.0 C1036.9,269.7 1038.0,275.8 1039.0,280.0 C1040.0,284.2 1041.0,290.7 1042.0,292.0 C1043.0,293.3 1044.0,289.2 1045.0,288.0 C1046.0,286.8 1046.2,285.7 1048.0,284.5 C1049.8,283.3 1052.7,281.8 1055.5,281.0 C1058.3,280.2 1063.4,279.8 1065.0,279.6" fill="none" stroke="#e0452c" stroke-width="2.5"/>
<line x1="912.0" y1="105.5" x2="928.5" y2="126.9" stroke="#111" stroke-width="2"/><polygon points="934.0,134.0 924.9,129.6 932.1,124.1" fill="#111"/>
<line x1="954.0" y1="108.0" x2="945.4" y2="125.9" stroke="#111" stroke-width="2"/><polygon points="941.5,134.0 941.3,123.9 949.5,127.8" fill="#111"/>
<line x1="962.5" y1="174.0" x2="962.5" y2="197.0" stroke="#2a36dd" stroke-width="2"/><polygon points="962.5,206.0 958.0,197.0 967.0,197.0" fill="#2a36dd"/>
<line x1="892.7" y1="267.0" x2="878.5" y2="291.7" stroke="#e0452c" stroke-width="2"/><polygon points="874.0,299.5 874.6,289.5 882.4,293.9" fill="#e0452c"/>
<line x1="907.0" y1="287.0" x2="886.8" y2="301.3" stroke="#e0452c" stroke-width="2"/><polygon points="879.5,306.5 884.2,297.6 889.4,305.0" fill="#e0452c"/>
<line x1="956.3" y1="299.0" x2="956.3" y2="323.0" stroke="#e0452c" stroke-width="2"/><polygon points="956.3,332.0 951.8,323.0 960.8,323.0" fill="#e0452c"/>
<rect x="59.8" y="414.3" width="394.5" height="340.5" fill="none" stroke="#111" stroke-width="2"/>
<line x1="86.2" y1="755" x2="86.2" y2="762.5" stroke="#111" stroke-width="2"/>
<line x1="159.9" y1="755" x2="159.9" y2="762.5" stroke="#111" stroke-width="2"/>
<line x1="233.5" y1="755" x2="233.5" y2="762.5" stroke="#111" stroke-width="2"/>
<line x1="307.2" y1="755" x2="307.2" y2="762.5" stroke="#111" stroke-width="2"/>
<line x1="380.8" y1="755" x2="380.8" y2="762.5" stroke="#111" stroke-width="2"/>
<line x1="454.4" y1="755" x2="454.4" y2="762.5" stroke="#111" stroke-width="2"/>
<line x1="123.0" y1="755" x2="123.0" y2="760" stroke="#111" stroke-width="2"/>
<line x1="196.7" y1="755" x2="196.7" y2="760" stroke="#111" stroke-width="2"/>
<line x1="270.3" y1="755" x2="270.3" y2="760" stroke="#111" stroke-width="2"/>
<line x1="344.0" y1="755" x2="344.0" y2="760" stroke="#111" stroke-width="2"/>
<line x1="417.6" y1="755" x2="417.6" y2="760" stroke="#111" stroke-width="2"/>
<path d="M60.5,744.0 C60.8,743.7 61.4,741.7 62.0,742.0 C62.6,742.3 63.3,746.3 64.0,746.0 C64.7,745.7 65.3,739.8 66.0,740.0 C66.7,740.2 67.3,746.5 68.0,747.0 C68.7,747.5 69.2,743.5 70.0,743.0 C70.8,742.5 68.0,743.8 73.0,744.0 C78.0,744.2 94.8,744.3 100.0,744.0 C105.2,743.7 102.7,741.8 104.0,742.0 C105.3,742.2 106.5,744.7 108.0,745.0 C109.5,745.3 111.5,744.7 113.0,744.0 C114.5,743.3 115.7,740.8 117.0,741.0 C118.3,741.2 119.5,744.5 121.0,745.0 C122.5,745.5 70.5,744.1 126.0,744.0 C181.5,743.9 399.3,744.2 454.0,744.3" fill="none" stroke="#e8307a" stroke-width="2.2"/>
<rect x="64.5" y="721.5" width="2.8" height="13.5" fill="#f0a040"/>
<rect x="104.0" y="721.5" width="2.8" height="13.5" fill="#f0a040"/>
<rect x="117.9" y="721.5" width="2.8" height="13.5" fill="#f0a040"/>
<rect x="150.1" y="721.5" width="2.8" height="13.5" fill="#f0a040"/>
<rect x="154.1" y="721.5" width="2.8" height="13.5" fill="#f0a040"/>
<rect x="160.1" y="721.5" width="2.8" height="13.5" fill="#f0a040"/>
<rect x="171.6" y="721.5" width="2.8" height="13.5" fill="#f0a040"/>
<rect x="178.0" y="721.5" width="2.8" height="13.5" fill="#f0a040"/>
<rect x="186.4" y="721.5" width="2.8" height="13.5" fill="#f0a040"/>
<rect x="196.6" y="721.5" width="2.8" height="13.5" fill="#f0a040"/>
<rect x="204.6" y="721.5" width="2.8" height="13.5" fill="#f0a040"/>
<rect x="208.1" y="721.5" width="2.8" height="13.5" fill="#f0a040"/>
<rect x="211.1" y="721.5" width="2.8" height="13.5" fill="#f0a040"/>
<rect x="225.1" y="721.5" width="2.8" height="13.5" fill="#f0a040"/>
<rect x="243.1" y="721.5" width="2.8" height="13.5" fill="#f0a040"/>
<rect x="247.1" y="721.5" width="2.8" height="13.5" fill="#f0a040"/>
<rect x="250.6" y="721.5" width="2.8" height="13.5" fill="#f0a040"/>
<rect x="256.1" y="721.5" width="2.8" height="13.5" fill="#f0a040"/>
<rect x="267.5" y="721.5" width="2.8" height="13.5" fill="#f0a040"/>
<rect x="280.1" y="721.5" width="2.8" height="13.5" fill="#f0a040"/>
<rect x="284.1" y="721.5" width="2.8" height="13.5" fill="#f0a040"/>
<rect x="290.1" y="721.5" width="2.8" height="13.5" fill="#f0a040"/>
<rect x="293.6" y="721.5" width="2.8" height="13.5" fill="#f0a040"/>
<rect x="296.6" y="721.5" width="2.8" height="13.5" fill="#f0a040"/>
<rect x="305.5" y="721.5" width="2.8" height="13.5" fill="#f0a040"/>
<rect x="310.1" y="721.5" width="2.8" height="13.5" fill="#f0a040"/>
<rect x="314.1" y="721.5" width="2.8" height="13.5" fill="#f0a040"/>
<rect x="323.6" y="721.5" width="2.8" height="13.5" fill="#f0a040"/>
<rect x="327.1" y="721.5" width="2.8" height="13.5" fill="#f0a040"/>
<rect x="330.6" y="721.5" width="2.8" height="13.5" fill="#f0a040"/>
<rect x="334.6" y="721.5" width="2.8" height="13.5" fill="#f0a040"/>
<rect x="337.6" y="721.5" width="2.8" height="13.5" fill="#f0a040"/>
<rect x="340.1" y="721.5" width="2.8" height="13.5" fill="#f0a040"/>
<rect x="346.6" y="721.5" width="2.8" height="13.5" fill="#f0a040"/>
<rect x="350.1" y="721.5" width="2.8" height="13.5" fill="#f0a040"/>
<rect x="353.1" y="721.5" width="2.8" height="13.5" fill="#f0a040"/>
<rect x="363.1" y="721.5" width="2.8" height="13.5" fill="#f0a040"/>
<rect x="367.1" y="721.5" width="2.8" height="13.5" fill="#f0a040"/>
<rect x="375.8" y="721.5" width="2.8" height="13.5" fill="#f0a040"/>
<rect x="385.6" y="721.5" width="2.8" height="13.5" fill="#f0a040"/>
<rect x="389.1" y="721.5" width="2.8" height="13.5" fill="#f0a040"/>
<rect x="392.1" y="721.5" width="2.8" height="13.5" fill="#f0a040"/>
<rect x="400.8" y="721.5" width="2.8" height="13.5" fill="#f0a040"/>
<rect x="408.6" y="721.5" width="2.8" height="13.5" fill="#f0a040"/>
<rect x="411.6" y="721.5" width="2.8" height="13.5" fill="#f0a040"/>
<rect x="414.1" y="721.5" width="2.8" height="13.5" fill="#f0a040"/>
<rect x="417.6" y="721.5" width="2.8" height="13.5" fill="#f0a040"/>
<rect x="420.6" y="721.5" width="2.8" height="13.5" fill="#f0a040"/>
<rect x="423.6" y="721.5" width="2.8" height="13.5" fill="#f0a040"/>
<rect x="426.1" y="721.5" width="2.8" height="13.5" fill="#f0a040"/>
<rect x="433.1" y="721.5" width="2.8" height="13.5" fill="#f0a040"/>
<rect x="436.1" y="721.5" width="2.8" height="13.5" fill="#f0a040"/>
<rect x="439.1" y="721.5" width="2.8" height="13.5" fill="#f0a040"/>
<rect x="442.1" y="721.5" width="2.8" height="13.5" fill="#f0a040"/>
<rect x="445.1" y="721.5" width="2.8" height="13.5" fill="#f0a040"/>
<rect x="448.1" y="721.5" width="2.8" height="13.5" fill="#f0a040"/>
<rect x="450.6" y="721.5" width="2.8" height="13.5" fill="#f0a040"/>
<path d="M67.3,444.0 C67.5,450.0 68.0,467.3 68.2,480.0 C68.5,492.7 68.6,506.7 68.8,520.0 C69.0,533.3 69.2,546.7 69.4,560.0 C69.6,573.3 69.9,588.7 70.2,600.0 C70.5,611.3 70.8,619.7 71.2,628.0 C71.6,636.3 72.2,643.8 72.8,650.0 C73.4,656.2 74.1,660.7 74.8,665.0 C75.5,669.3 76.0,672.7 77.0,676.0 C78.0,679.3 78.8,682.0 80.5,685.0 C82.2,688.0 84.6,692.2 87.0,693.8 C89.4,695.4 92.8,694.5 95.0,694.5 C97.2,694.5 98.5,693.9 100.0,693.5 C101.5,693.1 102.7,691.8 104.0,692.0 C105.3,692.2 106.7,694.2 108.0,694.5 C109.3,694.8 110.8,694.7 112.0,694.0 C113.2,693.3 114.0,691.4 115.0,690.5 C116.0,689.6 117.0,688.5 118.2,688.8 C119.4,689.0 120.7,690.7 122.0,692.0 C123.3,693.3 124.2,695.4 126.0,696.5 C127.8,697.6 129.8,698.0 133.0,698.5 C136.2,699.0 140.5,699.3 145.0,699.5 C149.5,699.7 150.8,699.6 160.0,699.8 C169.2,700.0 186.7,700.2 200.0,700.5 C213.3,700.8 226.7,701.3 240.0,701.5 C253.3,701.7 266.7,701.6 280.0,701.5 C293.3,701.4 306.7,701.2 320.0,701.0 C333.3,700.8 350.0,700.3 360.0,700.0 C370.0,699.7 374.2,699.3 380.0,699.0 C385.8,698.7 390.3,698.3 395.0,698.0 C399.7,697.7 403.8,697.1 408.0,697.2 C412.2,697.3 415.5,697.9 420.0,698.5 C424.5,699.1 430.5,700.3 435.0,701.0 C439.5,701.7 443.8,702.4 447.0,702.8 C450.2,703.2 452.8,703.4 454.0,703.5" fill="none" stroke="#1a0a0a" stroke-width="6.5" stroke-linejoin="round" stroke-linecap="round"/>
<polygon points="60.8,668.0 61.3,600.0 62.0,540.0 62.8,490.0 63.6,455.0 64.8,441.0 66.8,437.3 68.8,440.5 70.0,452.0 70.6,480.0 71.2,540.0 71.9,600.0 72.8,640.0 74.5,662.0 77.0,676.0 80.0,684.0 84.0,689.0 84.0,694.0 79.0,691.0 75.0,684.0 71.5,670.0 69.0,650.0 67.5,600.0 66.5,540.0 65.8,480.0 64.5,470.0 63.5,520.0 62.8,600.0 62.3,668.0" fill="#e01c1c"/>
<path d="M61.6,668 L62.2,600 L62.9,530 L63.7,470 L64.6,446 L66,439" fill="none" stroke="#222" stroke-width="1.6" stroke-dasharray="3 2"/>
<path d="M67.3,444.0 C67.5,450.0 68.0,467.3 68.2,480.0 C68.5,492.7 68.6,506.7 68.8,520.0 C69.0,533.3 69.2,546.7 69.4,560.0 C69.6,573.3 69.9,588.7 70.2,600.0 C70.5,611.3 70.8,619.7 71.2,628.0 C71.6,636.3 72.2,643.8 72.8,650.0 C73.4,656.2 74.1,660.7 74.8,665.0 C75.5,669.3 76.0,672.7 77.0,676.0 C78.0,679.3 78.8,682.0 80.5,685.0 C82.2,688.0 84.6,692.2 87.0,693.8 C89.4,695.4 92.8,694.5 95.0,694.5 C97.2,694.5 98.5,693.9 100.0,693.5 C101.5,693.1 102.7,691.8 104.0,692.0 C105.3,692.2 106.7,694.2 108.0,694.5 C109.3,694.8 110.8,694.7 112.0,694.0 C113.2,693.3 114.0,691.4 115.0,690.5 C116.0,689.6 117.0,688.5 118.2,688.8 C119.4,689.0 120.7,690.7 122.0,692.0 C123.3,693.3 124.2,695.4 126.0,696.5 C127.8,697.6 129.8,698.0 133.0,698.5 C136.2,699.0 140.5,699.3 145.0,699.5 C149.5,699.7 150.8,699.6 160.0,699.8 C169.2,700.0 186.7,700.2 200.0,700.5 C213.3,700.8 226.7,701.3 240.0,701.5 C253.3,701.7 266.7,701.6 280.0,701.5 C293.3,701.4 306.7,701.2 320.0,701.0 C333.3,700.8 350.0,700.3 360.0,700.0 C370.0,699.7 374.2,699.3 380.0,699.0 C385.8,698.7 390.3,698.3 395.0,698.0 C399.7,697.7 403.8,697.1 408.0,697.2 C412.2,697.3 415.5,697.9 420.0,698.5 C424.5,699.1 430.5,700.3 435.0,701.0 C439.5,701.7 443.8,702.4 447.0,702.8 C450.2,703.2 452.8,703.4 454.0,703.5" fill="none" stroke="#e01c1c" stroke-width="3" stroke-linejoin="round" stroke-linecap="round"/>
<polyline points="60.5,714.3 62.0,713.5 63.3,709.0 64.2,690.0 64.9,600.0 65.5,500.0 66.0,473.0 66.6,473.0 67.1,500.0 67.7,600.0 68.4,690.0 69.3,709.0 70.6,713.5 72.0,714.3 102.5,714.3 103.8,712.0 104.6,707.0 105.2,705.5 105.8,707.0 106.6,712.0 107.9,714.3 116.8,714.3 118.0,711.0 118.8,703.0 119.3,700.0 119.8,703.0 120.6,711.0 121.8,714.3 380.0,714.3 402.5,714.0 403.6,711.0 404.4,706.5 405.2,711.0 406.3,714.0 441.5,713.8 442.6,711.5 443.2,710.0 443.8,711.5 444.9,714.0 454.0,714.3" fill="none" stroke="#1f2ee0" stroke-width="2.6" stroke-linejoin="round"/>
<circle cx="287.4" cy="454.4" r="3" fill="none" stroke="#666" stroke-width="1.2"/>
<line x1="265" y1="478" x2="310" y2="478" stroke="#dd2a2a" stroke-width="3"/>
<line x1="265" y1="501.7" x2="310" y2="501.7" stroke="#2a2acc" stroke-width="3"/>
<line x1="265" y1="525.6" x2="310" y2="525.6" stroke="#e8307a" stroke-width="3"/>
<rect x="286.2" y="547.5" width="3.5" height="14" fill="#f0a040"/>
<text transform="translate(2.96,34.73) scale(1.0000,1)" style="font-family:&quot;Liberation Sans&quot;,sans-serif;font-weight:bold;font-style:normal;font-size:41.08px" fill="#151515">(a)</text>
<text transform="translate(602.06,35.15) scale(1.0000,1)" style="font-family:&quot;Liberation Sans&quot;,sans-serif;font-weight:bold;font-style:normal;font-size:40.96px" fill="#151515">(b)</text>
<text transform="translate(1.98,423.03) scale(1.0000,1)" style="font-family:&quot;Liberation Sans&quot;,sans-serif;font-weight:bold;font-style:normal;font-size:43.01px" fill="#151515">(c)</text>
<text transform="translate(591.29,421.61) scale(1.0000,1)" style="font-family:&quot;Liberation Sans&quot;,sans-serif;font-weight:bold;font-style:normal;font-size:42.72px" fill="#151515">(d)</text>
<text transform="translate(668.90,39.25) scale(1.0000,1)" style="font-family:&quot;Liberation Sans&quot;,sans-serif;font-weight:bold;font-style:normal;font-size:18.40px" fill="#151515">HEP-Cl</text>
<text transform="translate(731.75,44.75) scale(1.0000,1)" style="font-family:&quot;Liberation Sans&quot;,sans-serif;font-weight:bold;font-style:normal;font-size:12.60px" fill="#151515">3</text>
<text transform="translate(889.13,106.02) scale(1.0000,1)" style="font-family:&quot;Liberation Sans&quot;,sans-serif;font-weight:bold;font-style:normal;font-size:14.56px" fill="#151515">1589</text>
<text transform="translate(937.14,105.96) scale(1.0000,1)" style="font-family:&quot;Liberation Sans&quot;,sans-serif;font-weight:bold;font-style:normal;font-size:14.38px" fill="#151515">1490</text>
<text transform="translate(1032.89,99.45) scale(1.0000,1)" style="font-family:&quot;Liberation Sans&quot;,sans-serif;font-weight:bold;font-style:normal;font-size:15.15px" fill="#151515">C-Cl</text>
<text transform="translate(1036.57,114.95) scale(1.0000,1)" style="font-family:&quot;Liberation Sans&quot;,sans-serif;font-weight:bold;font-style:normal;font-size:14.35px" fill="#151515">800</text>
<text transform="translate(880.67,146.02) scale(1.0000,1)" style="font-family:&quot;Liberation Sans&quot;,sans-serif;font-weight:bold;font-style:normal;font-size:15.46px" fill="#151515">heptazine ring</text>
<text transform="translate(667.88,158.01) scale(1.0000,1)" style="font-family:&quot;Liberation Sans&quot;,sans-serif;font-weight:bold;font-style:normal;font-size:18.61px" fill="#2626cc">DT-BTD</text>
<text transform="translate(669.36,187.10) scale(1.0000,1)" style="font-family:&quot;Liberation Sans&quot;,sans-serif;font-weight:bold;font-style:normal;font-size:15.94px" fill="#2626cc">≡C-H</text>
<text transform="translate(670.28,201.72) scale(1.0000,1)" style="font-family:&quot;Liberation Sans&quot;,sans-serif;font-weight:bold;font-style:normal;font-size:15.86px" fill="#2626cc">3233</text>
<text transform="translate(803.54,177.16) scale(1.0000,1)" style="font-family:&quot;Liberation Sans&quot;,sans-serif;font-weight:bold;font-style:normal;font-size:15.39px" fill="#2626cc">-C≡C-</text>
<text transform="translate(807.34,190.47) scale(1.0000,1)" style="font-family:&quot;Liberation Sans&quot;,sans-serif;font-weight:bold;font-style:normal;font-size:15.29px" fill="#2626cc">2302</text>
<text transform="translate(888.06,219.75) scale(1.0000,1)" style="font-family:&quot;Liberation Sans&quot;,sans-serif;font-weight:bold;font-style:normal;font-size:15.68px" fill="#2626cc">benzothiadiazole</text>
<text transform="translate(940.67,235.34) scale(1.0000,1)" style="font-family:&quot;Liberation Sans&quot;,sans-serif;font-weight:bold;font-style:normal;font-size:15.48px" fill="#2626cc">1365</text>
<text transform="translate(1017.86,231.71) scale(1.0000,1)" style="font-family:&quot;Liberation Sans&quot;,sans-serif;font-weight:bold;font-style:normal;font-size:15.67px" fill="#2626cc">N-S-N</text>
<text transform="translate(1025.54,245.51) scale(1.0000,1)" style="font-family:&quot;Liberation Sans&quot;,sans-serif;font-weight:bold;font-style:normal;font-size:15.26px" fill="#2626cc">845</text>
<text transform="translate(669.87,242.08) scale(1.0000,1)" style="font-family:&quot;Liberation Sans&quot;,sans-serif;font-weight:bold;font-style:normal;font-size:18.79px" fill="#dd4433">BTA-CHF</text>
<text transform="translate(803.13,269.06) scale(1.0000,1)" style="font-family:&quot;Liberation Sans&quot;,sans-serif;font-weight:bold;font-style:normal;font-size:15.55px" fill="#dd4433">-C≡C-</text>
<text transform="translate(806.02,282.63) scale(1.0000,1)" style="font-family:&quot;Liberation Sans&quot;,sans-serif;font-weight:bold;font-style:normal;font-size:15.89px" fill="#dd4433">2302</text>
<text transform="translate(884.07,264.17) scale(1.0000,1)" style="font-family:&quot;Liberation Sans&quot;,sans-serif;font-weight:bold;font-style:normal;font-size:15.43px" fill="#dd4433">1625</text>
<text transform="translate(907.70,289.65) scale(1.0000,1)" style="font-family:&quot;Liberation Sans&quot;,sans-serif;font-weight:bold;font-style:normal;font-size:14.94px" fill="#dd4433">1490</text>
<text transform="translate(766.02,313.76) scale(1.0000,1)" style="font-family:&quot;Liberation Sans&quot;,sans-serif;font-weight:bold;font-style:normal;font-size:16.37px" fill="#dd4433">heptazine ring</text>
<text transform="translate(1019.06,308.91) scale(1.0000,1)" style="font-family:&quot;Liberation Sans&quot;,sans-serif;font-weight:bold;font-style:normal;font-size:15.67px" fill="#dd4433">N-S-N</text>
<text transform="translate(1029.53,322.41) scale(1.0000,1)" style="font-family:&quot;Liberation Sans&quot;,sans-serif;font-weight:bold;font-style:normal;font-size:15.82px" fill="#dd4433">845</text>
<text transform="translate(891.76,349.11) scale(1.0000,1)" style="font-family:&quot;Liberation Sans&quot;,sans-serif;font-weight:bold;font-style:normal;font-size:15.60px" fill="#dd4433">benzothiadiazole</text>
<text transform="translate(939.02,363.11) scale(1.0000,1)" style="font-family:&quot;Liberation Sans&quot;,sans-serif;font-weight:bold;font-style:normal;font-size:16.26px" fill="#dd4433">1413</text>
<text transform="translate(666.04,396.47) scale(1.0000,1)" style="font-family:&quot;Liberation Sans&quot;,sans-serif;font-weight:normal;font-style:normal;font-size:22.10px" fill="#222">3200</text>
<text transform="translate(784.38,396.56) scale(1.0000,1)" style="font-family:&quot;Liberation Sans&quot;,sans-serif;font-weight:normal;font-style:normal;font-size:22.35px" fill="#222">2400</text>
<text transform="translate(903.53,396.08) scale(1.0000,1)" style="font-family:&quot;Liberation Sans&quot;,sans-serif;font-weight:normal;font-style:normal;font-size:20.96px" fill="#222">1600</text>
<text transform="translate(1028.83,396.35) scale(1.0000,1)" style="font-family:&quot;Liberation Sans&quot;,sans-serif;font-weight:normal;font-style:normal;font-size:21.73px" fill="#222">800</text>
<text transform="translate(759.60,421.50) scale(1.0000,1)" style="font-family:&quot;Liberation Sans&quot;,sans-serif;font-weight:normal;font-style:normal;font-size:23.86px" fill="#222">Wavenumber (cm</text>
<text transform="translate(946.84,411.17) scale(1.0000,1)" style="font-family:&quot;Liberation Sans&quot;,sans-serif;font-weight:normal;font-style:normal;font-size:16.44px" fill="#222">-1</text>
<text transform="translate(962.80,421.50) scale(1.0000,1)" style="font-family:&quot;Liberation Sans&quot;,sans-serif;font-weight:normal;font-style:normal;font-size:25.71px" fill="#222">)</text>
<text transform="translate(650.59,219.98) rotate(-90) scale(1.0000,1)" style="font-family:&quot;Liberation Sans&quot;,sans-serif;font-weight:normal;font-style:normal;font-size:24.00px" fill="#222">T (%)</text>
<text transform="translate(75.35,446.36) scale(1.0000,1)" style="font-family:&quot;Liberation Sans&quot;,sans-serif;font-weight:bold;font-style:normal;font-size:17.55px" fill="#151515">100</text>
<text transform="translate(83.24,687.89) scale(1.0000,1)" style="font-family:&quot;Liberation Sans&quot;,sans-serif;font-weight:bold;font-style:normal;font-size:19.38px" fill="#151515">110</text>
<text transform="translate(126.65,687.53) scale(1.0000,1)" style="font-family:&quot;Liberation Sans&quot;,sans-serif;font-weight:bold;font-style:normal;font-size:18.35px" fill="#151515">200</text>
<text transform="translate(391.07,692.08) scale(1.0000,1)" style="font-family:&quot;Liberation Sans&quot;,sans-serif;font-weight:bold;font-style:normal;font-size:17.61px" fill="#151515">001</text>
<text transform="translate(314.06,460.83) scale(1.0000,1)" style="font-family:&quot;Liberation Sans&quot;,sans-serif;font-weight:bold;font-style:normal;font-size:18.97px" fill="#151515">Experimental</text>
<text transform="translate(314.07,482.86) scale(1.0000,1)" style="font-family:&quot;Liberation Sans&quot;,sans-serif;font-weight:bold;font-style:normal;font-size:18.89px" fill="#e02a30">Pawley refined</text>
<text transform="translate(314.82,508.17) scale(1.0000,1)" style="font-family:&quot;Liberation Sans&quot;,sans-serif;font-weight:bold;font-style:normal;font-size:18.80px" fill="#2a2ad0">Simulated</text>
<text transform="translate(314.07,532.26) scale(1.0000,1)" style="font-family:&quot;Liberation Sans&quot;,sans-serif;font-weight:bold;font-style:normal;font-size:18.77px" fill="#e03a80">Difference</text>
<text transform="translate(314.47,560.92) scale(1.0000,1)" style="font-family:&quot;Liberation Sans&quot;,sans-serif;font-weight:bold;font-style:normal;font-size:18.91px" fill="#f09a30">Bragg position</text>
<text transform="translate(311.27,588.15) scale(1.0000,1)" style="font-family:&quot;Liberation Sans&quot;,sans-serif;font-weight:bold;font-style:normal;font-size:18.78px" fill="#151515">Rwp = 6.05%</text>
<text transform="translate(326.48,613.12) scale(1.0000,1)" style="font-family:&quot;Liberation Sans&quot;,sans-serif;font-weight:bold;font-style:normal;font-size:18.67px" fill="#151515">Rp = 4.19%</text>
<text transform="translate(79.73,787.44) scale(1.0000,1)" style="font-family:&quot;Liberation Sans&quot;,sans-serif;font-weight:normal;font-style:normal;font-size:24.38px" fill="#222">5</text>
<text transform="translate(147.43,786.87) scale(1.0000,1)" style="font-family:&quot;Liberation Sans&quot;,sans-serif;font-weight:normal;font-style:normal;font-size:22.36px" fill="#222">10</text>
<text transform="translate(220.37,787.06) scale(1.0000,1)" style="font-family:&quot;Liberation Sans&quot;,sans-serif;font-weight:normal;font-style:normal;font-size:23.26px" fill="#222">15</text>
<text transform="translate(294.86,786.98) scale(1.0000,1)" style="font-family:&quot;Liberation Sans&quot;,sans-serif;font-weight:normal;font-style:normal;font-size:22.71px" fill="#222">20</text>
<text transform="translate(368.36,786.98) scale(1.0000,1)" style="font-family:&quot;Liberation Sans&quot;,sans-serif;font-weight:normal;font-style:normal;font-size:22.71px" fill="#222">25</text>
<text transform="translate(441.31,787.06) scale(1.0000,1)" style="font-family:&quot;Liberation Sans&quot;,sans-serif;font-weight:normal;font-style:normal;font-size:22.94px" fill="#222">30</text>
<text transform="translate(193.74,804.40) scale(1.0000,1)" style="font-family:&quot;Liberation Sans&quot;,sans-serif;font-weight:normal;font-style:normal;font-size:21.14px" fill="#222">2</text>
<text transform="translate(205.90,804.20) scale(1.0000,1)" style="font-family:&quot;Liberation Sans&quot;,sans-serif;font-weight:normal;font-style:italic;font-size:20.00px" fill="#222">θ</text>
<text transform="translate(226.60,805.60) scale(1.0958,1)" style="font-family:&quot;Liberation Sans&quot;,sans-serif;font-weight:normal;font-style:normal;font-size:22.87px" fill="#222">(degree)</text>
<text transform="translate(44.87,668.20) rotate(-90) scale(1.0000,1)" style="font-family:&quot;Liberation Sans&quot;,sans-serif;font-weight:normal;font-style:normal;font-size:24.50px" fill="#222">Intensity (a.u.)</text>
<text transform="translate(678.64,613.66) scale(1.0000,1)" style="font-family:&quot;Liberation Serif&quot;,sans-serif;font-weight:bold;font-style:normal;font-size:26.62px" fill="#151515">25.21Å</text>
<text transform="translate(1010.74,433.16) scale(0.9762,1)" style="font-family:&quot;Liberation Serif&quot;,sans-serif;font-weight:bold;font-style:normal;font-size:26.94px" fill="#151515">4.91Å</text>
<text transform="translate(58.80,168.48) scale(1.0000,1)" style="font-family:&quot;Liberation Sans&quot;,sans-serif;font-weight:bold;font-style:normal;font-size:29.96px" fill="#151515">HEP-Cl</text>
<text transform="translate(159.64,171.69) scale(1.0000,1)" style="font-family:&quot;Liberation Sans&quot;,sans-serif;font-weight:bold;font-style:normal;font-size:17.80px" fill="#151515">3</text>
<text transform="translate(69.02,387.71) scale(1.0000,1)" style="font-family:&quot;Liberation Sans&quot;,sans-serif;font-weight:bold;font-style:normal;font-size:29.60px" fill="#151515">DT-BTD</text>
<text transform="translate(375.23,384.71) scale(1.0000,1)" style="font-family:&quot;Liberation Sans&quot;,sans-serif;font-weight:bold;font-style:normal;font-size:29.45px" fill="#151515">BTA-CHF</text>
</svg>
</body></html>
